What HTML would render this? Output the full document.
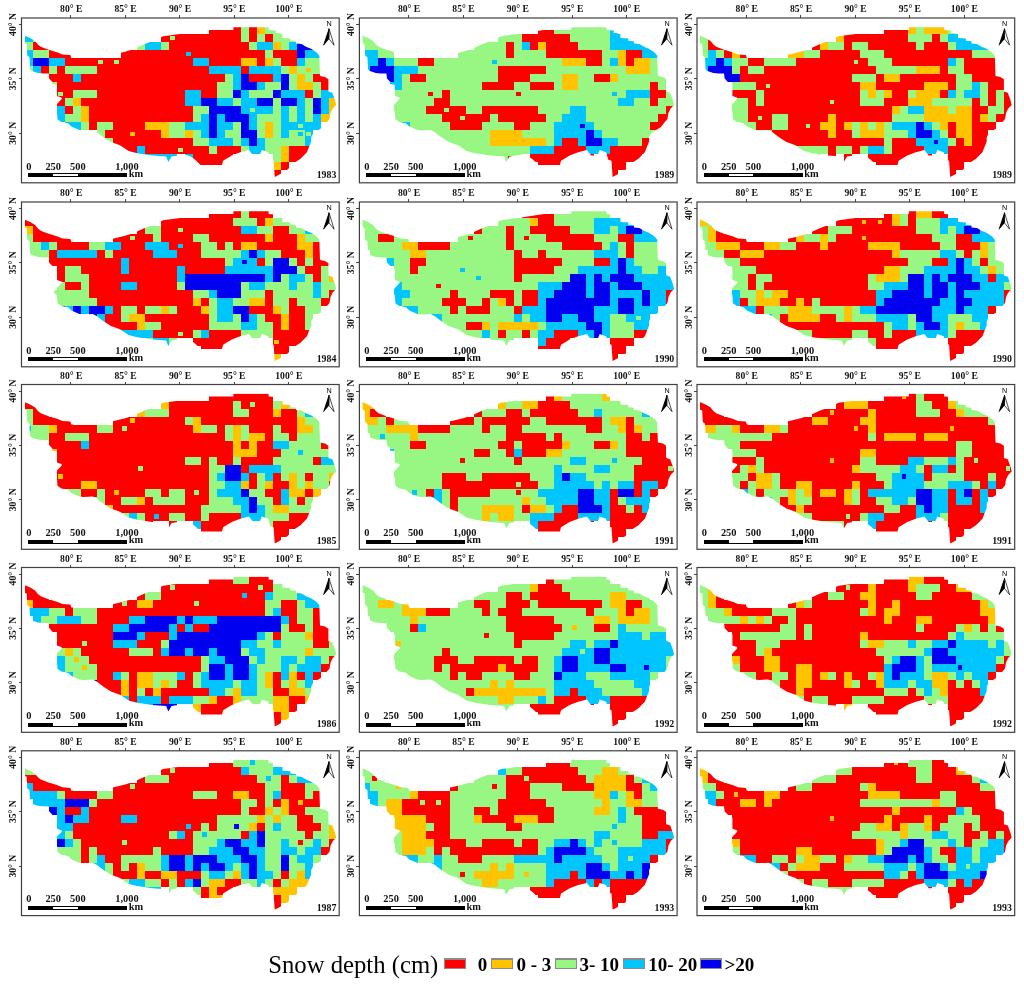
<!DOCTYPE html>
<html><head><meta charset="utf-8"><style>
html,body{margin:0;padding:0;background:#fff;width:1024px;height:984px;overflow:hidden}
svg{display:block;will-change:transform}
.lb{font-family:"Liberation Serif",serif;font-weight:bold;font-size:9.6px;fill:#111}
.sb{font-family:"Liberation Serif",serif;font-weight:bold;font-size:10.4px;fill:#111}
.yr{font-family:"Liberation Serif",serif;font-weight:bold;font-size:9.9px;fill:#111}
.na{font-family:"Liberation Sans",sans-serif;font-size:7.2px;fill:#000}
.lg{font-family:"Liberation Serif",serif;font-size:24.7px;fill:#000}
.lgb{font-family:"Liberation Serif",serif;font-weight:bold;font-size:19px;fill:#000}
</style></head><body>
<svg width="1024" height="984" viewBox="0 0 1024 984" shape-rendering="crispEdges">
<defs><clipPath id="ol"><polygon points="3.0,17.5 9.1,20.3 13.6,23.1 16.4,26.4 19.2,28.7 26.4,31.5 35.4,34.3 41.0,36.5 48.8,37.1 49.9,39.9 65.6,39.3 92.4,36.5 103.6,33.7 112.3,30.9 122.1,26.4 131.8,22.8 141.6,18.3 158.5,16.0 184.5,12.1 211.9,12.1 211.9,9.3 247.1,9.3 247.1,12.0 254.3,12.6 254.3,14.9 261.0,15.4 261.0,19.9 268.9,20.4 268.9,22.7 274.5,23.2 274.5,25.5 280.0,26.0 284.5,28.8 290.1,31.1 295.1,34.4 297.9,37.8 297.9,40.0 298.5,57.9 303.5,59.0 306.9,61.3 306.9,73.5 310.8,74.7 313.6,82.5 314.7,87.0 311.4,90.3 309.1,94.8 308.0,101.0 304.6,104.9 301.3,109.3 291.8,114.9 289.7,119.2 289.7,123.5 287.5,128.9 285.4,134.2 279.0,140.7 272.5,145.0 266.1,151.4 257.5,156.8 253.2,158.9 252.1,142.8 248.9,141.7 246.7,134.2 240.3,132.1 238.1,137.4 231.7,137.4 227.4,132.1 218.8,134.2 210.2,137.4 201.6,142.8 200.5,147.1 179.1,147.1 173.7,141.7 169.4,138.5 162.9,136.4 150.1,138.5 146.8,143.9 144.7,138.5 130.7,137.4 115.7,135.3 107.1,133.1 98.5,127.3 89.5,124.0 83.1,119.9 79.0,117.0 75.6,114.2 71.2,112.0 62.2,112.5 57.8,112.0 49.9,108.6 46.6,105.3 39.9,104.1 36.0,101.3 35.4,93.0 32.6,91.3 33.2,88.5 40.4,80.7 39.9,79.5 35.4,77.9 35.4,66.7 30.4,66.1 30.9,63.9 27.6,60.5 27.0,55.5 21.4,55.5 16.4,55.0 9.7,52.7 8.6,51.0 8.0,39.3 5.8,37.6 5.2,25.9 3.0,25.3"/></clipPath></defs>
<rect width="1024" height="984" fill="#fff"/>
<g transform="translate(21.5,18.0)"><g clip-path="url(#ol)"><rect x="187.00" y="8.00" width="32.05" height="8.05" fill="#ff0000"/><rect x="219.00" y="8.00" width="8.05" height="8.05" fill="#98f783"/><rect x="227.00" y="8.00" width="8.05" height="8.05" fill="#ff0000"/><rect x="235.00" y="8.00" width="8.05" height="8.05" fill="#ffc300"/><rect x="243.00" y="8.00" width="16.05" height="8.05" fill="#98f783"/><rect x="3.00" y="16.00" width="8.05" height="8.05" fill="#00c5ff"/><rect x="11.00" y="16.00" width="8.05" height="8.05" fill="#98f783"/><rect x="139.00" y="16.00" width="80.05" height="8.05" fill="#ff0000"/><rect x="219.00" y="16.00" width="8.05" height="8.05" fill="#98f783"/><rect x="227.00" y="16.00" width="8.05" height="8.05" fill="#ff0000"/><rect x="235.00" y="16.00" width="8.05" height="8.05" fill="#98f783"/><rect x="243.00" y="16.00" width="8.05" height="8.05" fill="#ff0000"/><rect x="251.00" y="16.00" width="24.05" height="8.05" fill="#98f783"/><rect x="3.00" y="24.00" width="8.05" height="8.05" fill="#98f783"/><rect x="11.00" y="24.00" width="16.05" height="8.05" fill="#ff0000"/><rect x="115.00" y="24.00" width="8.05" height="8.05" fill="#98f783"/><rect x="123.00" y="24.00" width="16.05" height="8.05" fill="#00c5ff"/><rect x="139.00" y="24.00" width="8.05" height="8.05" fill="#98f783"/><rect x="147.00" y="24.00" width="80.05" height="8.05" fill="#ff0000"/><rect x="227.00" y="24.00" width="8.05" height="8.05" fill="#98f783"/><rect x="235.00" y="24.00" width="16.05" height="8.05" fill="#00c5ff"/><rect x="251.00" y="24.00" width="8.05" height="8.05" fill="#ffc300"/><rect x="259.00" y="24.00" width="8.05" height="8.05" fill="#98f783"/><rect x="267.00" y="24.00" width="8.05" height="8.05" fill="#00c5ff"/><rect x="275.00" y="24.00" width="16.05" height="8.05" fill="#0000f0"/><rect x="291.00" y="24.00" width="8.05" height="8.05" fill="#00c5ff"/><rect x="3.00" y="32.00" width="8.05" height="8.05" fill="#00c5ff"/><rect x="11.00" y="32.00" width="16.05" height="8.05" fill="#98f783"/><rect x="27.00" y="32.00" width="24.05" height="8.05" fill="#ff0000"/><rect x="99.00" y="32.00" width="144.05" height="8.05" fill="#ff0000"/><rect x="243.00" y="32.00" width="8.05" height="8.05" fill="#98f783"/><rect x="251.00" y="32.00" width="24.05" height="8.05" fill="#ff0000"/><rect x="275.00" y="32.00" width="8.05" height="8.05" fill="#0000f0"/><rect x="283.00" y="32.00" width="16.05" height="8.05" fill="#00c5ff"/><rect x="3.00" y="40.00" width="8.05" height="8.05" fill="#00c5ff"/><rect x="11.00" y="40.00" width="16.05" height="8.05" fill="#0000f0"/><rect x="27.00" y="40.00" width="16.05" height="8.05" fill="#00c5ff"/><rect x="43.00" y="40.00" width="128.05" height="8.05" fill="#ff0000"/><rect x="171.00" y="40.00" width="16.05" height="8.05" fill="#00c5ff"/><rect x="187.00" y="40.00" width="32.05" height="8.05" fill="#ff0000"/><rect x="219.00" y="40.00" width="16.05" height="8.05" fill="#ffc300"/><rect x="235.00" y="40.00" width="8.05" height="8.05" fill="#ff0000"/><rect x="243.00" y="40.00" width="8.05" height="8.05" fill="#ffc300"/><rect x="251.00" y="40.00" width="8.05" height="8.05" fill="#98f783"/><rect x="259.00" y="40.00" width="16.05" height="8.05" fill="#ff0000"/><rect x="275.00" y="40.00" width="8.05" height="8.05" fill="#00c5ff"/><rect x="283.00" y="40.00" width="16.05" height="8.05" fill="#98f783"/><rect x="3.00" y="48.00" width="8.05" height="8.05" fill="#98f783"/><rect x="11.00" y="48.00" width="8.05" height="8.05" fill="#00c5ff"/><rect x="19.00" y="48.00" width="8.05" height="8.05" fill="#ff0000"/><rect x="27.00" y="48.00" width="8.05" height="8.05" fill="#98f783"/><rect x="35.00" y="48.00" width="8.05" height="8.05" fill="#ff0000"/><rect x="43.00" y="48.00" width="32.05" height="8.05" fill="#98f783"/><rect x="75.00" y="48.00" width="112.05" height="8.05" fill="#ff0000"/><rect x="187.00" y="48.00" width="32.05" height="8.05" fill="#00c5ff"/><rect x="219.00" y="48.00" width="8.05" height="8.05" fill="#ff0000"/><rect x="227.00" y="48.00" width="32.05" height="8.05" fill="#00c5ff"/><rect x="259.00" y="48.00" width="8.05" height="8.05" fill="#98f783"/><rect x="267.00" y="48.00" width="8.05" height="8.05" fill="#ffc300"/><rect x="275.00" y="48.00" width="24.05" height="8.05" fill="#98f783"/><rect x="27.00" y="56.00" width="24.05" height="8.05" fill="#ff0000"/><rect x="51.00" y="56.00" width="8.05" height="8.05" fill="#00c5ff"/><rect x="59.00" y="56.00" width="144.05" height="8.05" fill="#ff0000"/><rect x="203.00" y="56.00" width="8.05" height="8.05" fill="#98f783"/><rect x="211.00" y="56.00" width="8.05" height="8.05" fill="#00c5ff"/><rect x="219.00" y="56.00" width="8.05" height="8.05" fill="#0000f0"/><rect x="227.00" y="56.00" width="24.05" height="8.05" fill="#ff0000"/><rect x="251.00" y="56.00" width="8.05" height="8.05" fill="#00c5ff"/><rect x="259.00" y="56.00" width="8.05" height="8.05" fill="#0000f0"/><rect x="267.00" y="56.00" width="8.05" height="8.05" fill="#98f783"/><rect x="275.00" y="56.00" width="8.05" height="8.05" fill="#ffc300"/><rect x="283.00" y="56.00" width="8.05" height="8.05" fill="#98f783"/><rect x="291.00" y="56.00" width="16.05" height="8.05" fill="#ff0000"/><rect x="27.00" y="64.00" width="8.05" height="8.05" fill="#98f783"/><rect x="35.00" y="64.00" width="160.05" height="8.05" fill="#ff0000"/><rect x="195.00" y="64.00" width="16.05" height="8.05" fill="#98f783"/><rect x="211.00" y="64.00" width="8.05" height="8.05" fill="#00c5ff"/><rect x="219.00" y="64.00" width="16.05" height="8.05" fill="#0000f0"/><rect x="235.00" y="64.00" width="8.05" height="8.05" fill="#00c5ff"/><rect x="243.00" y="64.00" width="16.05" height="8.05" fill="#98f783"/><rect x="259.00" y="64.00" width="8.05" height="8.05" fill="#0000f0"/><rect x="267.00" y="64.00" width="8.05" height="8.05" fill="#98f783"/><rect x="275.00" y="64.00" width="16.05" height="8.05" fill="#ffc300"/><rect x="291.00" y="64.00" width="8.05" height="8.05" fill="#98f783"/><rect x="299.00" y="64.00" width="8.05" height="8.05" fill="#ff0000"/><rect x="35.00" y="72.00" width="16.05" height="8.05" fill="#ff0000"/><rect x="51.00" y="72.00" width="24.05" height="8.05" fill="#98f783"/><rect x="75.00" y="72.00" width="88.05" height="8.05" fill="#ff0000"/><rect x="163.00" y="72.00" width="16.05" height="8.05" fill="#00c5ff"/><rect x="179.00" y="72.00" width="16.05" height="8.05" fill="#ff0000"/><rect x="195.00" y="72.00" width="16.05" height="8.05" fill="#98f783"/><rect x="211.00" y="72.00" width="8.05" height="8.05" fill="#0000f0"/><rect x="219.00" y="72.00" width="8.05" height="8.05" fill="#00c5ff"/><rect x="227.00" y="72.00" width="24.05" height="8.05" fill="#98f783"/><rect x="251.00" y="72.00" width="8.05" height="8.05" fill="#0000f0"/><rect x="259.00" y="72.00" width="24.05" height="8.05" fill="#00c5ff"/><rect x="283.00" y="72.00" width="8.05" height="8.05" fill="#ff0000"/><rect x="291.00" y="72.00" width="8.05" height="8.05" fill="#98f783"/><rect x="299.00" y="72.00" width="16.05" height="8.05" fill="#00c5ff"/><rect x="35.00" y="80.00" width="8.05" height="8.05" fill="#ff0000"/><rect x="43.00" y="80.00" width="8.05" height="8.05" fill="#98f783"/><rect x="51.00" y="80.00" width="8.05" height="8.05" fill="#ffc300"/><rect x="59.00" y="80.00" width="104.05" height="8.05" fill="#ff0000"/><rect x="163.00" y="80.00" width="16.05" height="8.05" fill="#00c5ff"/><rect x="179.00" y="80.00" width="16.05" height="8.05" fill="#0000f0"/><rect x="195.00" y="80.00" width="16.05" height="8.05" fill="#00c5ff"/><rect x="211.00" y="80.00" width="8.05" height="8.05" fill="#98f783"/><rect x="219.00" y="80.00" width="16.05" height="8.05" fill="#00c5ff"/><rect x="235.00" y="80.00" width="16.05" height="8.05" fill="#0000f0"/><rect x="251.00" y="80.00" width="8.05" height="8.05" fill="#98f783"/><rect x="259.00" y="80.00" width="16.05" height="8.05" fill="#0000f0"/><rect x="275.00" y="80.00" width="8.05" height="8.05" fill="#00c5ff"/><rect x="283.00" y="80.00" width="8.05" height="8.05" fill="#98f783"/><rect x="291.00" y="80.00" width="8.05" height="8.05" fill="#0000f0"/><rect x="299.00" y="80.00" width="8.05" height="8.05" fill="#00c5ff"/><rect x="307.00" y="80.00" width="8.05" height="8.05" fill="#ffc300"/><rect x="315.00" y="80.00" width="8.05" height="8.05" fill="#ff0000"/><rect x="35.00" y="88.00" width="8.05" height="8.05" fill="#00c5ff"/><rect x="43.00" y="88.00" width="8.05" height="8.05" fill="#ff0000"/><rect x="51.00" y="88.00" width="8.05" height="8.05" fill="#98f783"/><rect x="59.00" y="88.00" width="8.05" height="8.05" fill="#ffc300"/><rect x="67.00" y="88.00" width="104.05" height="8.05" fill="#ff0000"/><rect x="171.00" y="88.00" width="16.05" height="8.05" fill="#98f783"/><rect x="187.00" y="88.00" width="32.05" height="8.05" fill="#0000f0"/><rect x="219.00" y="88.00" width="32.05" height="8.05" fill="#00c5ff"/><rect x="251.00" y="88.00" width="8.05" height="8.05" fill="#98f783"/><rect x="259.00" y="88.00" width="8.05" height="8.05" fill="#00c5ff"/><rect x="267.00" y="88.00" width="8.05" height="8.05" fill="#98f783"/><rect x="275.00" y="88.00" width="8.05" height="8.05" fill="#00c5ff"/><rect x="283.00" y="88.00" width="8.05" height="8.05" fill="#98f783"/><rect x="291.00" y="88.00" width="8.05" height="8.05" fill="#0000f0"/><rect x="299.00" y="88.00" width="8.05" height="8.05" fill="#00c5ff"/><rect x="307.00" y="88.00" width="8.05" height="8.05" fill="#ffc300"/><rect x="35.00" y="96.00" width="8.05" height="8.05" fill="#00c5ff"/><rect x="43.00" y="96.00" width="16.05" height="8.05" fill="#98f783"/><rect x="59.00" y="96.00" width="8.05" height="8.05" fill="#ffc300"/><rect x="67.00" y="96.00" width="104.05" height="8.05" fill="#ff0000"/><rect x="171.00" y="96.00" width="8.05" height="8.05" fill="#98f783"/><rect x="179.00" y="96.00" width="8.05" height="8.05" fill="#00c5ff"/><rect x="187.00" y="96.00" width="8.05" height="8.05" fill="#0000f0"/><rect x="195.00" y="96.00" width="8.05" height="8.05" fill="#00c5ff"/><rect x="203.00" y="96.00" width="24.05" height="8.05" fill="#0000f0"/><rect x="227.00" y="96.00" width="8.05" height="8.05" fill="#00c5ff"/><rect x="235.00" y="96.00" width="24.05" height="8.05" fill="#98f783"/><rect x="259.00" y="96.00" width="8.05" height="8.05" fill="#00c5ff"/><rect x="267.00" y="96.00" width="8.05" height="8.05" fill="#98f783"/><rect x="275.00" y="96.00" width="8.05" height="8.05" fill="#00c5ff"/><rect x="283.00" y="96.00" width="8.05" height="8.05" fill="#98f783"/><rect x="291.00" y="96.00" width="8.05" height="8.05" fill="#00c5ff"/><rect x="299.00" y="96.00" width="16.05" height="8.05" fill="#ffc300"/><rect x="43.00" y="104.00" width="16.05" height="8.05" fill="#00c5ff"/><rect x="59.00" y="104.00" width="8.05" height="8.05" fill="#98f783"/><rect x="67.00" y="104.00" width="8.05" height="8.05" fill="#ff0000"/><rect x="75.00" y="104.00" width="16.05" height="8.05" fill="#98f783"/><rect x="91.00" y="104.00" width="32.05" height="8.05" fill="#ff0000"/><rect x="123.00" y="104.00" width="24.05" height="8.05" fill="#ffc300"/><rect x="147.00" y="104.00" width="16.05" height="8.05" fill="#98f783"/><rect x="163.00" y="104.00" width="24.05" height="8.05" fill="#00c5ff"/><rect x="187.00" y="104.00" width="8.05" height="8.05" fill="#0000f0"/><rect x="195.00" y="104.00" width="16.05" height="8.05" fill="#00c5ff"/><rect x="211.00" y="104.00" width="8.05" height="8.05" fill="#98f783"/><rect x="219.00" y="104.00" width="8.05" height="8.05" fill="#0000f0"/><rect x="227.00" y="104.00" width="8.05" height="8.05" fill="#00c5ff"/><rect x="235.00" y="104.00" width="8.05" height="8.05" fill="#98f783"/><rect x="243.00" y="104.00" width="8.05" height="8.05" fill="#ffc300"/><rect x="251.00" y="104.00" width="8.05" height="8.05" fill="#98f783"/><rect x="259.00" y="104.00" width="40.05" height="8.05" fill="#00c5ff"/><rect x="75.00" y="112.00" width="8.05" height="8.05" fill="#98f783"/><rect x="83.00" y="112.00" width="56.05" height="8.05" fill="#ff0000"/><rect x="139.00" y="112.00" width="8.05" height="8.05" fill="#ffc300"/><rect x="147.00" y="112.00" width="16.05" height="8.05" fill="#98f783"/><rect x="163.00" y="112.00" width="8.05" height="8.05" fill="#ffc300"/><rect x="171.00" y="112.00" width="8.05" height="8.05" fill="#98f783"/><rect x="179.00" y="112.00" width="8.05" height="8.05" fill="#00c5ff"/><rect x="187.00" y="112.00" width="8.05" height="8.05" fill="#0000f0"/><rect x="195.00" y="112.00" width="8.05" height="8.05" fill="#00c5ff"/><rect x="203.00" y="112.00" width="16.05" height="8.05" fill="#98f783"/><rect x="219.00" y="112.00" width="16.05" height="8.05" fill="#0000f0"/><rect x="235.00" y="112.00" width="8.05" height="8.05" fill="#98f783"/><rect x="243.00" y="112.00" width="8.05" height="8.05" fill="#ffc300"/><rect x="251.00" y="112.00" width="8.05" height="8.05" fill="#98f783"/><rect x="259.00" y="112.00" width="8.05" height="8.05" fill="#00c5ff"/><rect x="267.00" y="112.00" width="16.05" height="8.05" fill="#98f783"/><rect x="283.00" y="112.00" width="8.05" height="8.05" fill="#00c5ff"/><rect x="83.00" y="120.00" width="8.05" height="8.05" fill="#98f783"/><rect x="91.00" y="120.00" width="80.05" height="8.05" fill="#ff0000"/><rect x="171.00" y="120.00" width="16.05" height="8.05" fill="#98f783"/><rect x="187.00" y="120.00" width="24.05" height="8.05" fill="#00c5ff"/><rect x="211.00" y="120.00" width="8.05" height="8.05" fill="#98f783"/><rect x="219.00" y="120.00" width="8.05" height="8.05" fill="#00c5ff"/><rect x="227.00" y="120.00" width="8.05" height="8.05" fill="#0000f0"/><rect x="235.00" y="120.00" width="8.05" height="8.05" fill="#00c5ff"/><rect x="243.00" y="120.00" width="40.05" height="8.05" fill="#98f783"/><rect x="283.00" y="120.00" width="8.05" height="8.05" fill="#00c5ff"/><rect x="99.00" y="128.00" width="16.05" height="8.05" fill="#ff0000"/><rect x="115.00" y="128.00" width="8.05" height="8.05" fill="#00c5ff"/><rect x="123.00" y="128.00" width="64.05" height="8.05" fill="#ff0000"/><rect x="187.00" y="128.00" width="8.05" height="8.05" fill="#98f783"/><rect x="195.00" y="128.00" width="24.05" height="8.05" fill="#ff0000"/><rect x="219.00" y="128.00" width="8.05" height="8.05" fill="#98f783"/><rect x="227.00" y="128.00" width="16.05" height="8.05" fill="#00c5ff"/><rect x="243.00" y="128.00" width="16.05" height="8.05" fill="#98f783"/><rect x="259.00" y="128.00" width="8.05" height="8.05" fill="#ffc300"/><rect x="267.00" y="128.00" width="24.05" height="8.05" fill="#ff0000"/><rect x="115.00" y="136.00" width="40.05" height="8.05" fill="#00c5ff"/><rect x="163.00" y="136.00" width="8.05" height="8.05" fill="#00c5ff"/><rect x="171.00" y="136.00" width="40.05" height="8.05" fill="#ff0000"/><rect x="251.00" y="136.00" width="8.05" height="8.05" fill="#98f783"/><rect x="259.00" y="136.00" width="8.05" height="8.05" fill="#ffc300"/><rect x="267.00" y="136.00" width="16.05" height="8.05" fill="#ff0000"/><rect x="171.00" y="144.00" width="32.05" height="8.05" fill="#ff0000"/><rect x="251.00" y="144.00" width="8.05" height="8.05" fill="#ffc300"/><rect x="259.00" y="144.00" width="8.05" height="8.05" fill="#ff0000"/><rect x="251.00" y="152.00" width="8.05" height="8.05" fill="#ff0000"/><rect x="148.70" y="17.70" width="4.6" height="4.6" fill="#98f783"/><rect x="164.70" y="33.70" width="4.6" height="4.6" fill="#00c5ff"/><rect x="76.70" y="41.70" width="4.6" height="4.6" fill="#98f783"/><rect x="92.70" y="41.70" width="4.6" height="4.6" fill="#98f783"/><rect x="284.70" y="49.70" width="4.6" height="4.6" fill="#ffc300"/><rect x="36.70" y="73.70" width="4.6" height="4.6" fill="#98f783"/><rect x="228.70" y="89.70" width="4.6" height="4.6" fill="#98f783"/><rect x="276.70" y="105.70" width="4.6" height="4.6" fill="#98f783"/><rect x="108.70" y="113.70" width="4.6" height="4.6" fill="#ffc300"/><rect x="276.70" y="113.70" width="4.6" height="4.6" fill="#00c5ff"/><rect x="284.70" y="113.70" width="4.6" height="4.6" fill="#98f783"/><rect x="156.70" y="129.70" width="4.6" height="4.6" fill="#98f783"/></g><rect x="0" y="0" width="317.7" height="164.8" fill="none" stroke="#404040" stroke-width="1.2" shape-rendering="geometricPrecision"/><line x1="49.4" y1="-2.6" x2="49.4" y2="0" stroke="#333" stroke-width="0.9"/><text x="49.699999999999996" y="-5.6" class="lb" text-anchor="middle">80° E</text><line x1="103.8" y1="-2.6" x2="103.8" y2="0" stroke="#333" stroke-width="0.9"/><text x="104.1" y="-5.6" class="lb" text-anchor="middle">85° E</text><line x1="158.2" y1="-2.6" x2="158.2" y2="0" stroke="#333" stroke-width="0.9"/><text x="158.5" y="-5.6" class="lb" text-anchor="middle">90° E</text><line x1="212.6" y1="-2.6" x2="212.6" y2="0" stroke="#333" stroke-width="0.9"/><text x="212.9" y="-5.6" class="lb" text-anchor="middle">95° E</text><line x1="267.0" y1="-2.6" x2="267.0" y2="0" stroke="#333" stroke-width="0.9"/><text x="267.3" y="-5.6" class="lb" text-anchor="middle">100° E</text><line x1="-2.9" y1="6.5" x2="0" y2="6.5" stroke="#333" stroke-width="0.9"/><text transform="translate(-5.3,6.5) rotate(-90)" x="0" y="0" class="lb" text-anchor="middle">40° N</text><line x1="-2.9" y1="60.8" x2="0" y2="60.8" stroke="#333" stroke-width="0.9"/><text transform="translate(-5.3,60.8) rotate(-90)" x="0" y="0" class="lb" text-anchor="middle">35° N</text><line x1="-2.9" y1="115.3" x2="0" y2="115.3" stroke="#333" stroke-width="0.9"/><text transform="translate(-5.3,115.3) rotate(-90)" x="0" y="0" class="lb" text-anchor="middle">30° N</text><text x="307.7" y="8.4" class="na" text-anchor="middle">N</text><path d="M307.5,10.7 L302,27.2 L307.4,20.8 Z" fill="#000" shape-rendering="geometricPrecision"/><path d="M307.5,10.7 L312.6,27.2 L307.4,20.8 Z" fill="#fff" stroke="#000" stroke-width="0.7" stroke-linejoin="miter" shape-rendering="geometricPrecision"/><path d="M307.5,10.7 L302,27.2 L307.4,20.8 Z" fill="#000" stroke="#000" stroke-width="0.5" shape-rendering="geometricPrecision"/><rect x="6.8" y="155.2" width="98.7" height="3.8" fill="#000"/><rect x="31.9" y="155.9" width="24.4" height="2.4" fill="#fff"/><text x="7.4" y="151.7" class="sb" text-anchor="middle">0</text><text x="31.7" y="151.7" class="sb" text-anchor="middle">250</text><text x="56.3" y="151.7" class="sb" text-anchor="middle">500</text><text x="105.4" y="151.7" class="sb" text-anchor="middle">1,000</text><text x="107.2" y="158.9" class="sb">km</text><text x="314.9" y="159.9" class="yr" text-anchor="end">1983</text></g><g transform="translate(359.4,18.0)"><g clip-path="url(#ol)"><rect x="179.00" y="8.00" width="16.05" height="8.05" fill="#ff0000"/><rect x="195.00" y="8.00" width="56.05" height="8.05" fill="#98f783"/><rect x="251.00" y="8.00" width="8.05" height="8.05" fill="#00c5ff"/><rect x="3.00" y="16.00" width="16.05" height="8.05" fill="#98f783"/><rect x="139.00" y="16.00" width="24.05" height="8.05" fill="#98f783"/><rect x="163.00" y="16.00" width="48.05" height="8.05" fill="#ff0000"/><rect x="211.00" y="16.00" width="40.05" height="8.05" fill="#98f783"/><rect x="251.00" y="16.00" width="24.05" height="8.05" fill="#00c5ff"/><rect x="3.00" y="24.00" width="24.05" height="8.05" fill="#98f783"/><rect x="115.00" y="24.00" width="32.05" height="8.05" fill="#98f783"/><rect x="147.00" y="24.00" width="8.05" height="8.05" fill="#ff0000"/><rect x="155.00" y="24.00" width="8.05" height="8.05" fill="#98f783"/><rect x="163.00" y="24.00" width="8.05" height="8.05" fill="#00c5ff"/><rect x="171.00" y="24.00" width="8.05" height="8.05" fill="#ff0000"/><rect x="179.00" y="24.00" width="8.05" height="8.05" fill="#ffc300"/><rect x="187.00" y="24.00" width="32.05" height="8.05" fill="#ff0000"/><rect x="219.00" y="24.00" width="32.05" height="8.05" fill="#98f783"/><rect x="251.00" y="24.00" width="40.05" height="8.05" fill="#00c5ff"/><rect x="3.00" y="32.00" width="16.05" height="8.05" fill="#00c5ff"/><rect x="19.00" y="32.00" width="16.05" height="8.05" fill="#98f783"/><rect x="99.00" y="32.00" width="48.05" height="8.05" fill="#98f783"/><rect x="147.00" y="32.00" width="8.05" height="8.05" fill="#ff0000"/><rect x="155.00" y="32.00" width="32.05" height="8.05" fill="#98f783"/><rect x="187.00" y="32.00" width="56.05" height="8.05" fill="#ff0000"/><rect x="243.00" y="32.00" width="16.05" height="8.05" fill="#98f783"/><rect x="259.00" y="32.00" width="8.05" height="8.05" fill="#ffc300"/><rect x="267.00" y="32.00" width="16.05" height="8.05" fill="#ff0000"/><rect x="283.00" y="32.00" width="16.05" height="8.05" fill="#00c5ff"/><rect x="3.00" y="40.00" width="16.05" height="8.05" fill="#00c5ff"/><rect x="19.00" y="40.00" width="8.05" height="8.05" fill="#0000f0"/><rect x="27.00" y="40.00" width="8.05" height="8.05" fill="#00c5ff"/><rect x="35.00" y="40.00" width="24.05" height="8.05" fill="#98f783"/><rect x="59.00" y="40.00" width="16.05" height="8.05" fill="#ff0000"/><rect x="75.00" y="40.00" width="128.05" height="8.05" fill="#98f783"/><rect x="203.00" y="40.00" width="24.05" height="8.05" fill="#ffc300"/><rect x="227.00" y="40.00" width="16.05" height="8.05" fill="#ff0000"/><rect x="243.00" y="40.00" width="8.05" height="8.05" fill="#98f783"/><rect x="251.00" y="40.00" width="8.05" height="8.05" fill="#00c5ff"/><rect x="259.00" y="40.00" width="8.05" height="8.05" fill="#ffc300"/><rect x="267.00" y="40.00" width="8.05" height="8.05" fill="#ff0000"/><rect x="275.00" y="40.00" width="16.05" height="8.05" fill="#ffc300"/><rect x="291.00" y="40.00" width="8.05" height="8.05" fill="#98f783"/><rect x="3.00" y="48.00" width="8.05" height="8.05" fill="#00c5ff"/><rect x="11.00" y="48.00" width="24.05" height="8.05" fill="#0000f0"/><rect x="35.00" y="48.00" width="24.05" height="8.05" fill="#00c5ff"/><rect x="59.00" y="48.00" width="80.05" height="8.05" fill="#98f783"/><rect x="139.00" y="48.00" width="48.05" height="8.05" fill="#ff0000"/><rect x="187.00" y="48.00" width="80.05" height="8.05" fill="#98f783"/><rect x="267.00" y="48.00" width="24.05" height="8.05" fill="#ffc300"/><rect x="291.00" y="48.00" width="16.05" height="8.05" fill="#98f783"/><rect x="19.00" y="56.00" width="16.05" height="8.05" fill="#0000f0"/><rect x="35.00" y="56.00" width="8.05" height="8.05" fill="#00c5ff"/><rect x="43.00" y="56.00" width="8.05" height="8.05" fill="#98f783"/><rect x="51.00" y="56.00" width="16.05" height="8.05" fill="#ff0000"/><rect x="67.00" y="56.00" width="72.05" height="8.05" fill="#98f783"/><rect x="139.00" y="56.00" width="32.05" height="8.05" fill="#ff0000"/><rect x="171.00" y="56.00" width="32.05" height="8.05" fill="#98f783"/><rect x="203.00" y="56.00" width="16.05" height="8.05" fill="#ffc300"/><rect x="219.00" y="56.00" width="16.05" height="8.05" fill="#98f783"/><rect x="235.00" y="56.00" width="16.05" height="8.05" fill="#ff0000"/><rect x="251.00" y="56.00" width="8.05" height="8.05" fill="#ffc300"/><rect x="259.00" y="56.00" width="48.05" height="8.05" fill="#98f783"/><rect x="27.00" y="64.00" width="16.05" height="8.05" fill="#00c5ff"/><rect x="43.00" y="64.00" width="80.05" height="8.05" fill="#98f783"/><rect x="123.00" y="64.00" width="32.05" height="8.05" fill="#ff0000"/><rect x="155.00" y="64.00" width="16.05" height="8.05" fill="#98f783"/><rect x="171.00" y="64.00" width="24.05" height="8.05" fill="#ff0000"/><rect x="195.00" y="64.00" width="8.05" height="8.05" fill="#98f783"/><rect x="203.00" y="64.00" width="16.05" height="8.05" fill="#ffc300"/><rect x="219.00" y="64.00" width="72.05" height="8.05" fill="#98f783"/><rect x="291.00" y="64.00" width="8.05" height="8.05" fill="#ff0000"/><rect x="299.00" y="64.00" width="8.05" height="8.05" fill="#98f783"/><rect x="35.00" y="72.00" width="48.05" height="8.05" fill="#98f783"/><rect x="83.00" y="72.00" width="8.05" height="8.05" fill="#ff0000"/><rect x="91.00" y="72.00" width="176.05" height="8.05" fill="#98f783"/><rect x="267.00" y="72.00" width="24.05" height="8.05" fill="#00c5ff"/><rect x="291.00" y="72.00" width="16.05" height="8.05" fill="#ff0000"/><rect x="307.00" y="72.00" width="8.05" height="8.05" fill="#98f783"/><rect x="35.00" y="80.00" width="40.05" height="8.05" fill="#98f783"/><rect x="75.00" y="80.00" width="16.05" height="8.05" fill="#ff0000"/><rect x="91.00" y="80.00" width="168.05" height="8.05" fill="#98f783"/><rect x="259.00" y="80.00" width="16.05" height="8.05" fill="#00c5ff"/><rect x="275.00" y="80.00" width="16.05" height="8.05" fill="#98f783"/><rect x="291.00" y="80.00" width="8.05" height="8.05" fill="#ff0000"/><rect x="299.00" y="80.00" width="16.05" height="8.05" fill="#98f783"/><rect x="315.00" y="80.00" width="8.05" height="8.05" fill="#ff0000"/><rect x="35.00" y="88.00" width="32.05" height="8.05" fill="#98f783"/><rect x="67.00" y="88.00" width="40.05" height="8.05" fill="#ff0000"/><rect x="107.00" y="88.00" width="16.05" height="8.05" fill="#98f783"/><rect x="123.00" y="88.00" width="56.05" height="8.05" fill="#ff0000"/><rect x="179.00" y="88.00" width="32.05" height="8.05" fill="#98f783"/><rect x="211.00" y="88.00" width="16.05" height="8.05" fill="#00c5ff"/><rect x="227.00" y="88.00" width="80.05" height="8.05" fill="#98f783"/><rect x="307.00" y="88.00" width="8.05" height="8.05" fill="#ff0000"/><rect x="35.00" y="96.00" width="48.05" height="8.05" fill="#98f783"/><rect x="83.00" y="96.00" width="48.05" height="8.05" fill="#ff0000"/><rect x="131.00" y="96.00" width="8.05" height="8.05" fill="#98f783"/><rect x="139.00" y="96.00" width="48.05" height="8.05" fill="#ff0000"/><rect x="187.00" y="96.00" width="16.05" height="8.05" fill="#98f783"/><rect x="203.00" y="96.00" width="24.05" height="8.05" fill="#00c5ff"/><rect x="227.00" y="96.00" width="72.05" height="8.05" fill="#98f783"/><rect x="299.00" y="96.00" width="16.05" height="8.05" fill="#ff0000"/><rect x="35.00" y="104.00" width="16.05" height="8.05" fill="#00c5ff"/><rect x="51.00" y="104.00" width="40.05" height="8.05" fill="#98f783"/><rect x="91.00" y="104.00" width="32.05" height="8.05" fill="#ff0000"/><rect x="123.00" y="104.00" width="32.05" height="8.05" fill="#98f783"/><rect x="155.00" y="104.00" width="16.05" height="8.05" fill="#ff0000"/><rect x="171.00" y="104.00" width="24.05" height="8.05" fill="#98f783"/><rect x="195.00" y="104.00" width="40.05" height="8.05" fill="#00c5ff"/><rect x="235.00" y="104.00" width="56.05" height="8.05" fill="#98f783"/><rect x="291.00" y="104.00" width="16.05" height="8.05" fill="#ff0000"/><rect x="51.00" y="112.00" width="80.05" height="8.05" fill="#98f783"/><rect x="131.00" y="112.00" width="32.05" height="8.05" fill="#ffc300"/><rect x="163.00" y="112.00" width="32.05" height="8.05" fill="#98f783"/><rect x="195.00" y="112.00" width="32.05" height="8.05" fill="#00c5ff"/><rect x="227.00" y="112.00" width="8.05" height="8.05" fill="#0000f0"/><rect x="235.00" y="112.00" width="8.05" height="8.05" fill="#00c5ff"/><rect x="243.00" y="112.00" width="56.05" height="8.05" fill="#98f783"/><rect x="75.00" y="120.00" width="56.05" height="8.05" fill="#98f783"/><rect x="131.00" y="120.00" width="56.05" height="8.05" fill="#ffc300"/><rect x="187.00" y="120.00" width="8.05" height="8.05" fill="#98f783"/><rect x="195.00" y="120.00" width="8.05" height="8.05" fill="#00c5ff"/><rect x="203.00" y="120.00" width="16.05" height="8.05" fill="#ff0000"/><rect x="219.00" y="120.00" width="8.05" height="8.05" fill="#00c5ff"/><rect x="227.00" y="120.00" width="16.05" height="8.05" fill="#0000f0"/><rect x="243.00" y="120.00" width="16.05" height="8.05" fill="#00c5ff"/><rect x="259.00" y="120.00" width="24.05" height="8.05" fill="#98f783"/><rect x="283.00" y="120.00" width="8.05" height="8.05" fill="#ff0000"/><rect x="99.00" y="128.00" width="72.05" height="8.05" fill="#98f783"/><rect x="171.00" y="128.00" width="24.05" height="8.05" fill="#00c5ff"/><rect x="195.00" y="128.00" width="32.05" height="8.05" fill="#ff0000"/><rect x="227.00" y="128.00" width="24.05" height="8.05" fill="#00c5ff"/><rect x="251.00" y="128.00" width="40.05" height="8.05" fill="#ff0000"/><rect x="123.00" y="136.00" width="40.05" height="8.05" fill="#98f783"/><rect x="171.00" y="136.00" width="48.05" height="8.05" fill="#ff0000"/><rect x="227.00" y="136.00" width="8.05" height="8.05" fill="#ff0000"/><rect x="243.00" y="136.00" width="40.05" height="8.05" fill="#ff0000"/><rect x="179.00" y="144.00" width="24.05" height="8.05" fill="#ff0000"/><rect x="251.00" y="144.00" width="16.05" height="8.05" fill="#ff0000"/><rect x="251.00" y="152.00" width="8.05" height="8.05" fill="#ff0000"/><rect x="132.70" y="41.70" width="4.6" height="4.6" fill="#00c5ff"/><rect x="68.70" y="73.70" width="4.6" height="4.6" fill="#ff0000"/><rect x="156.70" y="73.70" width="4.6" height="4.6" fill="#ff0000"/><rect x="252.70" y="73.70" width="4.6" height="4.6" fill="#00c5ff"/><rect x="84.70" y="89.70" width="4.6" height="4.6" fill="#98f783"/><rect x="100.70" y="97.70" width="4.6" height="4.6" fill="#98f783"/><rect x="220.70" y="105.70" width="4.6" height="4.6" fill="#0000f0"/><rect x="148.70" y="137.70" width="4.6" height="4.6" fill="#ff0000"/></g><rect x="0" y="0" width="317.7" height="164.8" fill="none" stroke="#404040" stroke-width="1.2" shape-rendering="geometricPrecision"/><line x1="49.4" y1="-2.6" x2="49.4" y2="0" stroke="#333" stroke-width="0.9"/><text x="49.699999999999996" y="-5.6" class="lb" text-anchor="middle">80° E</text><line x1="103.8" y1="-2.6" x2="103.8" y2="0" stroke="#333" stroke-width="0.9"/><text x="104.1" y="-5.6" class="lb" text-anchor="middle">85° E</text><line x1="158.2" y1="-2.6" x2="158.2" y2="0" stroke="#333" stroke-width="0.9"/><text x="158.5" y="-5.6" class="lb" text-anchor="middle">90° E</text><line x1="212.6" y1="-2.6" x2="212.6" y2="0" stroke="#333" stroke-width="0.9"/><text x="212.9" y="-5.6" class="lb" text-anchor="middle">95° E</text><line x1="267.0" y1="-2.6" x2="267.0" y2="0" stroke="#333" stroke-width="0.9"/><text x="267.3" y="-5.6" class="lb" text-anchor="middle">100° E</text><line x1="-2.9" y1="6.5" x2="0" y2="6.5" stroke="#333" stroke-width="0.9"/><text transform="translate(-5.3,6.5) rotate(-90)" x="0" y="0" class="lb" text-anchor="middle">40° N</text><line x1="-2.9" y1="60.8" x2="0" y2="60.8" stroke="#333" stroke-width="0.9"/><text transform="translate(-5.3,60.8) rotate(-90)" x="0" y="0" class="lb" text-anchor="middle">35° N</text><line x1="-2.9" y1="115.3" x2="0" y2="115.3" stroke="#333" stroke-width="0.9"/><text transform="translate(-5.3,115.3) rotate(-90)" x="0" y="0" class="lb" text-anchor="middle">30° N</text><text x="307.7" y="8.4" class="na" text-anchor="middle">N</text><path d="M307.5,10.7 L302,27.2 L307.4,20.8 Z" fill="#000" shape-rendering="geometricPrecision"/><path d="M307.5,10.7 L312.6,27.2 L307.4,20.8 Z" fill="#fff" stroke="#000" stroke-width="0.7" stroke-linejoin="miter" shape-rendering="geometricPrecision"/><path d="M307.5,10.7 L302,27.2 L307.4,20.8 Z" fill="#000" stroke="#000" stroke-width="0.5" shape-rendering="geometricPrecision"/><rect x="6.8" y="155.2" width="98.7" height="3.8" fill="#000"/><rect x="31.9" y="155.9" width="24.4" height="2.4" fill="#fff"/><text x="7.4" y="151.7" class="sb" text-anchor="middle">0</text><text x="31.7" y="151.7" class="sb" text-anchor="middle">250</text><text x="56.3" y="151.7" class="sb" text-anchor="middle">500</text><text x="105.4" y="151.7" class="sb" text-anchor="middle">1,000</text><text x="107.2" y="158.9" class="sb">km</text><text x="314.9" y="159.9" class="yr" text-anchor="end">1989</text></g><g transform="translate(697.0,18.0)"><g clip-path="url(#ol)"><rect x="187.00" y="8.00" width="24.05" height="8.05" fill="#ff0000"/><rect x="211.00" y="8.00" width="8.05" height="8.05" fill="#ffc300"/><rect x="219.00" y="8.00" width="8.05" height="8.05" fill="#98f783"/><rect x="227.00" y="8.00" width="24.05" height="8.05" fill="#ffc300"/><rect x="251.00" y="8.00" width="8.05" height="8.05" fill="#98f783"/><rect x="3.00" y="16.00" width="8.05" height="8.05" fill="#98f783"/><rect x="11.00" y="16.00" width="8.05" height="8.05" fill="#ff0000"/><rect x="139.00" y="16.00" width="8.05" height="8.05" fill="#ffc300"/><rect x="147.00" y="16.00" width="64.05" height="8.05" fill="#ff0000"/><rect x="211.00" y="16.00" width="24.05" height="8.05" fill="#98f783"/><rect x="235.00" y="16.00" width="8.05" height="8.05" fill="#ff0000"/><rect x="243.00" y="16.00" width="8.05" height="8.05" fill="#98f783"/><rect x="251.00" y="16.00" width="24.05" height="8.05" fill="#00c5ff"/><rect x="3.00" y="24.00" width="8.05" height="8.05" fill="#98f783"/><rect x="11.00" y="24.00" width="16.05" height="8.05" fill="#ff0000"/><rect x="115.00" y="24.00" width="8.05" height="8.05" fill="#ff0000"/><rect x="123.00" y="24.00" width="8.05" height="8.05" fill="#ffc300"/><rect x="131.00" y="24.00" width="16.05" height="8.05" fill="#98f783"/><rect x="147.00" y="24.00" width="8.05" height="8.05" fill="#ff0000"/><rect x="155.00" y="24.00" width="16.05" height="8.05" fill="#98f783"/><rect x="171.00" y="24.00" width="48.05" height="8.05" fill="#ff0000"/><rect x="219.00" y="24.00" width="8.05" height="8.05" fill="#98f783"/><rect x="227.00" y="24.00" width="24.05" height="8.05" fill="#ff0000"/><rect x="251.00" y="24.00" width="8.05" height="8.05" fill="#98f783"/><rect x="259.00" y="24.00" width="32.05" height="8.05" fill="#00c5ff"/><rect x="3.00" y="32.00" width="8.05" height="8.05" fill="#98f783"/><rect x="11.00" y="32.00" width="8.05" height="8.05" fill="#00c5ff"/><rect x="19.00" y="32.00" width="8.05" height="8.05" fill="#98f783"/><rect x="27.00" y="32.00" width="8.05" height="8.05" fill="#ff0000"/><rect x="35.00" y="32.00" width="8.05" height="8.05" fill="#ffc300"/><rect x="43.00" y="32.00" width="8.05" height="8.05" fill="#ff0000"/><rect x="91.00" y="32.00" width="16.05" height="8.05" fill="#ffc300"/><rect x="107.00" y="32.00" width="16.05" height="8.05" fill="#98f783"/><rect x="123.00" y="32.00" width="40.05" height="8.05" fill="#ff0000"/><rect x="163.00" y="32.00" width="24.05" height="8.05" fill="#98f783"/><rect x="187.00" y="32.00" width="88.05" height="8.05" fill="#ff0000"/><rect x="275.00" y="32.00" width="24.05" height="8.05" fill="#98f783"/><rect x="3.00" y="40.00" width="16.05" height="8.05" fill="#00c5ff"/><rect x="19.00" y="40.00" width="8.05" height="8.05" fill="#0000f0"/><rect x="27.00" y="40.00" width="8.05" height="8.05" fill="#00c5ff"/><rect x="35.00" y="40.00" width="16.05" height="8.05" fill="#98f783"/><rect x="51.00" y="40.00" width="16.05" height="8.05" fill="#ff0000"/><rect x="67.00" y="40.00" width="32.05" height="8.05" fill="#98f783"/><rect x="99.00" y="40.00" width="72.05" height="8.05" fill="#ff0000"/><rect x="171.00" y="40.00" width="24.05" height="8.05" fill="#98f783"/><rect x="195.00" y="40.00" width="56.05" height="8.05" fill="#ff0000"/><rect x="251.00" y="40.00" width="8.05" height="8.05" fill="#00c5ff"/><rect x="259.00" y="40.00" width="8.05" height="8.05" fill="#98f783"/><rect x="267.00" y="40.00" width="32.05" height="8.05" fill="#ff0000"/><rect x="3.00" y="48.00" width="8.05" height="8.05" fill="#00c5ff"/><rect x="11.00" y="48.00" width="24.05" height="8.05" fill="#0000f0"/><rect x="35.00" y="48.00" width="8.05" height="8.05" fill="#98f783"/><rect x="43.00" y="48.00" width="8.05" height="8.05" fill="#ff0000"/><rect x="51.00" y="48.00" width="16.05" height="8.05" fill="#98f783"/><rect x="67.00" y="48.00" width="112.05" height="8.05" fill="#ff0000"/><rect x="179.00" y="48.00" width="40.05" height="8.05" fill="#98f783"/><rect x="219.00" y="48.00" width="24.05" height="8.05" fill="#ffc300"/><rect x="243.00" y="48.00" width="8.05" height="8.05" fill="#ff0000"/><rect x="251.00" y="48.00" width="16.05" height="8.05" fill="#98f783"/><rect x="267.00" y="48.00" width="40.05" height="8.05" fill="#ff0000"/><rect x="27.00" y="56.00" width="16.05" height="8.05" fill="#0000f0"/><rect x="43.00" y="56.00" width="112.05" height="8.05" fill="#ff0000"/><rect x="155.00" y="56.00" width="24.05" height="8.05" fill="#98f783"/><rect x="179.00" y="56.00" width="8.05" height="8.05" fill="#ff0000"/><rect x="187.00" y="56.00" width="16.05" height="8.05" fill="#ffc300"/><rect x="203.00" y="56.00" width="56.05" height="8.05" fill="#ff0000"/><rect x="259.00" y="56.00" width="16.05" height="8.05" fill="#98f783"/><rect x="275.00" y="56.00" width="32.05" height="8.05" fill="#ff0000"/><rect x="35.00" y="64.00" width="24.05" height="8.05" fill="#98f783"/><rect x="59.00" y="64.00" width="104.05" height="8.05" fill="#ff0000"/><rect x="163.00" y="64.00" width="16.05" height="8.05" fill="#ffc300"/><rect x="179.00" y="64.00" width="48.05" height="8.05" fill="#ff0000"/><rect x="227.00" y="64.00" width="24.05" height="8.05" fill="#ffc300"/><rect x="251.00" y="64.00" width="8.05" height="8.05" fill="#ff0000"/><rect x="259.00" y="64.00" width="16.05" height="8.05" fill="#98f783"/><rect x="275.00" y="64.00" width="8.05" height="8.05" fill="#00c5ff"/><rect x="283.00" y="64.00" width="8.05" height="8.05" fill="#98f783"/><rect x="291.00" y="64.00" width="16.05" height="8.05" fill="#ff0000"/><rect x="35.00" y="72.00" width="24.05" height="8.05" fill="#ff0000"/><rect x="59.00" y="72.00" width="8.05" height="8.05" fill="#98f783"/><rect x="67.00" y="72.00" width="96.05" height="8.05" fill="#ff0000"/><rect x="163.00" y="72.00" width="8.05" height="8.05" fill="#98f783"/><rect x="171.00" y="72.00" width="8.05" height="8.05" fill="#ffc300"/><rect x="179.00" y="72.00" width="8.05" height="8.05" fill="#98f783"/><rect x="187.00" y="72.00" width="8.05" height="8.05" fill="#ffc300"/><rect x="195.00" y="72.00" width="16.05" height="8.05" fill="#ff0000"/><rect x="211.00" y="72.00" width="8.05" height="8.05" fill="#98f783"/><rect x="219.00" y="72.00" width="24.05" height="8.05" fill="#ffc300"/><rect x="243.00" y="72.00" width="8.05" height="8.05" fill="#ff0000"/><rect x="251.00" y="72.00" width="8.05" height="8.05" fill="#00c5ff"/><rect x="259.00" y="72.00" width="8.05" height="8.05" fill="#98f783"/><rect x="267.00" y="72.00" width="16.05" height="8.05" fill="#00c5ff"/><rect x="283.00" y="72.00" width="8.05" height="8.05" fill="#98f783"/><rect x="291.00" y="72.00" width="8.05" height="8.05" fill="#ff0000"/><rect x="299.00" y="72.00" width="8.05" height="8.05" fill="#98f783"/><rect x="307.00" y="72.00" width="8.05" height="8.05" fill="#ff0000"/><rect x="35.00" y="80.00" width="16.05" height="8.05" fill="#98f783"/><rect x="51.00" y="80.00" width="8.05" height="8.05" fill="#ff0000"/><rect x="59.00" y="80.00" width="8.05" height="8.05" fill="#98f783"/><rect x="67.00" y="80.00" width="96.05" height="8.05" fill="#ff0000"/><rect x="163.00" y="80.00" width="24.05" height="8.05" fill="#98f783"/><rect x="187.00" y="80.00" width="24.05" height="8.05" fill="#ff0000"/><rect x="211.00" y="80.00" width="24.05" height="8.05" fill="#ffc300"/><rect x="235.00" y="80.00" width="40.05" height="8.05" fill="#98f783"/><rect x="275.00" y="80.00" width="8.05" height="8.05" fill="#ff0000"/><rect x="283.00" y="80.00" width="8.05" height="8.05" fill="#98f783"/><rect x="291.00" y="80.00" width="8.05" height="8.05" fill="#ff0000"/><rect x="299.00" y="80.00" width="8.05" height="8.05" fill="#98f783"/><rect x="307.00" y="80.00" width="16.05" height="8.05" fill="#ff0000"/><rect x="35.00" y="88.00" width="16.05" height="8.05" fill="#98f783"/><rect x="51.00" y="88.00" width="144.05" height="8.05" fill="#ff0000"/><rect x="195.00" y="88.00" width="8.05" height="8.05" fill="#ffc300"/><rect x="203.00" y="88.00" width="8.05" height="8.05" fill="#98f783"/><rect x="211.00" y="88.00" width="16.05" height="8.05" fill="#00c5ff"/><rect x="227.00" y="88.00" width="24.05" height="8.05" fill="#ffc300"/><rect x="251.00" y="88.00" width="8.05" height="8.05" fill="#98f783"/><rect x="259.00" y="88.00" width="16.05" height="8.05" fill="#ffc300"/><rect x="275.00" y="88.00" width="16.05" height="8.05" fill="#ff0000"/><rect x="291.00" y="88.00" width="16.05" height="8.05" fill="#98f783"/><rect x="307.00" y="88.00" width="8.05" height="8.05" fill="#ff0000"/><rect x="35.00" y="96.00" width="16.05" height="8.05" fill="#98f783"/><rect x="51.00" y="96.00" width="24.05" height="8.05" fill="#ff0000"/><rect x="75.00" y="96.00" width="16.05" height="8.05" fill="#98f783"/><rect x="91.00" y="96.00" width="40.05" height="8.05" fill="#ff0000"/><rect x="131.00" y="96.00" width="8.05" height="8.05" fill="#ffc300"/><rect x="139.00" y="96.00" width="56.05" height="8.05" fill="#ff0000"/><rect x="195.00" y="96.00" width="32.05" height="8.05" fill="#98f783"/><rect x="227.00" y="96.00" width="48.05" height="8.05" fill="#ffc300"/><rect x="275.00" y="96.00" width="8.05" height="8.05" fill="#ff0000"/><rect x="283.00" y="96.00" width="8.05" height="8.05" fill="#ffc300"/><rect x="291.00" y="96.00" width="8.05" height="8.05" fill="#98f783"/><rect x="299.00" y="96.00" width="16.05" height="8.05" fill="#ff0000"/><rect x="43.00" y="104.00" width="16.05" height="8.05" fill="#98f783"/><rect x="59.00" y="104.00" width="16.05" height="8.05" fill="#ff0000"/><rect x="75.00" y="104.00" width="16.05" height="8.05" fill="#98f783"/><rect x="91.00" y="104.00" width="32.05" height="8.05" fill="#ff0000"/><rect x="123.00" y="104.00" width="16.05" height="8.05" fill="#ffc300"/><rect x="139.00" y="104.00" width="8.05" height="8.05" fill="#ff0000"/><rect x="147.00" y="104.00" width="8.05" height="8.05" fill="#ffc300"/><rect x="155.00" y="104.00" width="8.05" height="8.05" fill="#98f783"/><rect x="163.00" y="104.00" width="8.05" height="8.05" fill="#ffc300"/><rect x="171.00" y="104.00" width="8.05" height="8.05" fill="#98f783"/><rect x="179.00" y="104.00" width="8.05" height="8.05" fill="#ffc300"/><rect x="187.00" y="104.00" width="8.05" height="8.05" fill="#98f783"/><rect x="195.00" y="104.00" width="24.05" height="8.05" fill="#00c5ff"/><rect x="219.00" y="104.00" width="8.05" height="8.05" fill="#0000f0"/><rect x="227.00" y="104.00" width="8.05" height="8.05" fill="#00c5ff"/><rect x="235.00" y="104.00" width="8.05" height="8.05" fill="#98f783"/><rect x="243.00" y="104.00" width="8.05" height="8.05" fill="#ffc300"/><rect x="251.00" y="104.00" width="8.05" height="8.05" fill="#ff0000"/><rect x="259.00" y="104.00" width="16.05" height="8.05" fill="#ffc300"/><rect x="275.00" y="104.00" width="24.05" height="8.05" fill="#ff0000"/><rect x="51.00" y="112.00" width="24.05" height="8.05" fill="#98f783"/><rect x="75.00" y="112.00" width="56.05" height="8.05" fill="#ff0000"/><rect x="131.00" y="112.00" width="8.05" height="8.05" fill="#ffc300"/><rect x="139.00" y="112.00" width="16.05" height="8.05" fill="#ff0000"/><rect x="155.00" y="112.00" width="8.05" height="8.05" fill="#98f783"/><rect x="163.00" y="112.00" width="24.05" height="8.05" fill="#ffc300"/><rect x="187.00" y="112.00" width="24.05" height="8.05" fill="#98f783"/><rect x="211.00" y="112.00" width="8.05" height="8.05" fill="#00c5ff"/><rect x="219.00" y="112.00" width="16.05" height="8.05" fill="#0000f0"/><rect x="235.00" y="112.00" width="8.05" height="8.05" fill="#00c5ff"/><rect x="243.00" y="112.00" width="8.05" height="8.05" fill="#98f783"/><rect x="251.00" y="112.00" width="8.05" height="8.05" fill="#ff0000"/><rect x="259.00" y="112.00" width="16.05" height="8.05" fill="#ffc300"/><rect x="275.00" y="112.00" width="16.05" height="8.05" fill="#ff0000"/><rect x="75.00" y="120.00" width="8.05" height="8.05" fill="#98f783"/><rect x="83.00" y="120.00" width="104.05" height="8.05" fill="#ff0000"/><rect x="187.00" y="120.00" width="8.05" height="8.05" fill="#98f783"/><rect x="195.00" y="120.00" width="24.05" height="8.05" fill="#ff0000"/><rect x="219.00" y="120.00" width="32.05" height="8.05" fill="#00c5ff"/><rect x="251.00" y="120.00" width="8.05" height="8.05" fill="#98f783"/><rect x="259.00" y="120.00" width="8.05" height="8.05" fill="#ff0000"/><rect x="267.00" y="120.00" width="8.05" height="8.05" fill="#ffc300"/><rect x="275.00" y="120.00" width="16.05" height="8.05" fill="#ff0000"/><rect x="99.00" y="128.00" width="32.05" height="8.05" fill="#98f783"/><rect x="131.00" y="128.00" width="8.05" height="8.05" fill="#ff0000"/><rect x="139.00" y="128.00" width="16.05" height="8.05" fill="#98f783"/><rect x="155.00" y="128.00" width="8.05" height="8.05" fill="#ff0000"/><rect x="163.00" y="128.00" width="8.05" height="8.05" fill="#98f783"/><rect x="171.00" y="128.00" width="16.05" height="8.05" fill="#00c5ff"/><rect x="187.00" y="128.00" width="8.05" height="8.05" fill="#98f783"/><rect x="195.00" y="128.00" width="32.05" height="8.05" fill="#ff0000"/><rect x="227.00" y="128.00" width="24.05" height="8.05" fill="#00c5ff"/><rect x="251.00" y="128.00" width="40.05" height="8.05" fill="#ff0000"/><rect x="115.00" y="136.00" width="8.05" height="8.05" fill="#ff0000"/><rect x="131.00" y="136.00" width="8.05" height="8.05" fill="#ff0000"/><rect x="147.00" y="136.00" width="8.05" height="8.05" fill="#ff0000"/><rect x="171.00" y="136.00" width="48.05" height="8.05" fill="#ff0000"/><rect x="227.00" y="136.00" width="8.05" height="8.05" fill="#ff0000"/><rect x="251.00" y="136.00" width="32.05" height="8.05" fill="#ff0000"/><rect x="179.00" y="144.00" width="24.05" height="8.05" fill="#ff0000"/><rect x="251.00" y="144.00" width="16.05" height="8.05" fill="#ff0000"/><rect x="251.00" y="152.00" width="8.05" height="8.05" fill="#ff0000"/><rect x="156.70" y="41.70" width="4.6" height="4.6" fill="#98f783"/><rect x="68.70" y="65.70" width="4.6" height="4.6" fill="#98f783"/><rect x="132.70" y="81.70" width="4.6" height="4.6" fill="#98f783"/><rect x="60.70" y="97.70" width="4.6" height="4.6" fill="#98f783"/><rect x="108.70" y="105.70" width="4.6" height="4.6" fill="#98f783"/><rect x="236.70" y="121.70" width="4.6" height="4.6" fill="#0000f0"/></g><rect x="0" y="0" width="317.7" height="164.8" fill="none" stroke="#404040" stroke-width="1.2" shape-rendering="geometricPrecision"/><line x1="49.4" y1="-2.6" x2="49.4" y2="0" stroke="#333" stroke-width="0.9"/><text x="49.699999999999996" y="-5.6" class="lb" text-anchor="middle">80° E</text><line x1="103.8" y1="-2.6" x2="103.8" y2="0" stroke="#333" stroke-width="0.9"/><text x="104.1" y="-5.6" class="lb" text-anchor="middle">85° E</text><line x1="158.2" y1="-2.6" x2="158.2" y2="0" stroke="#333" stroke-width="0.9"/><text x="158.5" y="-5.6" class="lb" text-anchor="middle">90° E</text><line x1="212.6" y1="-2.6" x2="212.6" y2="0" stroke="#333" stroke-width="0.9"/><text x="212.9" y="-5.6" class="lb" text-anchor="middle">95° E</text><line x1="267.0" y1="-2.6" x2="267.0" y2="0" stroke="#333" stroke-width="0.9"/><text x="267.3" y="-5.6" class="lb" text-anchor="middle">100° E</text><line x1="-2.9" y1="6.5" x2="0" y2="6.5" stroke="#333" stroke-width="0.9"/><text transform="translate(-5.3,6.5) rotate(-90)" x="0" y="0" class="lb" text-anchor="middle">40° N</text><line x1="-2.9" y1="60.8" x2="0" y2="60.8" stroke="#333" stroke-width="0.9"/><text transform="translate(-5.3,60.8) rotate(-90)" x="0" y="0" class="lb" text-anchor="middle">35° N</text><line x1="-2.9" y1="115.3" x2="0" y2="115.3" stroke="#333" stroke-width="0.9"/><text transform="translate(-5.3,115.3) rotate(-90)" x="0" y="0" class="lb" text-anchor="middle">30° N</text><text x="307.7" y="8.4" class="na" text-anchor="middle">N</text><path d="M307.5,10.7 L302,27.2 L307.4,20.8 Z" fill="#000" shape-rendering="geometricPrecision"/><path d="M307.5,10.7 L312.6,27.2 L307.4,20.8 Z" fill="#fff" stroke="#000" stroke-width="0.7" stroke-linejoin="miter" shape-rendering="geometricPrecision"/><path d="M307.5,10.7 L302,27.2 L307.4,20.8 Z" fill="#000" stroke="#000" stroke-width="0.5" shape-rendering="geometricPrecision"/><rect x="6.8" y="155.2" width="98.7" height="3.8" fill="#000"/><rect x="31.9" y="155.9" width="24.4" height="2.4" fill="#fff"/><text x="7.4" y="151.7" class="sb" text-anchor="middle">0</text><text x="31.7" y="151.7" class="sb" text-anchor="middle">250</text><text x="56.3" y="151.7" class="sb" text-anchor="middle">500</text><text x="105.4" y="151.7" class="sb" text-anchor="middle">1,000</text><text x="107.2" y="158.9" class="sb">km</text><text x="314.9" y="159.9" class="yr" text-anchor="end">1989</text></g><g transform="translate(21.5,202.0)"><g clip-path="url(#ol)"><rect x="187.00" y="8.00" width="32.05" height="8.05" fill="#ff0000"/><rect x="219.00" y="8.00" width="8.05" height="8.05" fill="#98f783"/><rect x="227.00" y="8.00" width="24.05" height="8.05" fill="#ff0000"/><rect x="3.00" y="16.00" width="16.05" height="8.05" fill="#ff0000"/><rect x="139.00" y="16.00" width="72.05" height="8.05" fill="#ff0000"/><rect x="211.00" y="16.00" width="24.05" height="8.05" fill="#98f783"/><rect x="235.00" y="16.00" width="8.05" height="8.05" fill="#ff0000"/><rect x="243.00" y="16.00" width="8.05" height="8.05" fill="#ffc300"/><rect x="251.00" y="16.00" width="24.05" height="8.05" fill="#98f783"/><rect x="3.00" y="24.00" width="8.05" height="8.05" fill="#ffc300"/><rect x="11.00" y="24.00" width="16.05" height="8.05" fill="#ff0000"/><rect x="115.00" y="24.00" width="8.05" height="8.05" fill="#ff0000"/><rect x="123.00" y="24.00" width="16.05" height="8.05" fill="#98f783"/><rect x="139.00" y="24.00" width="80.05" height="8.05" fill="#ff0000"/><rect x="219.00" y="24.00" width="16.05" height="8.05" fill="#00c5ff"/><rect x="235.00" y="24.00" width="16.05" height="8.05" fill="#98f783"/><rect x="251.00" y="24.00" width="16.05" height="8.05" fill="#ff0000"/><rect x="267.00" y="24.00" width="16.05" height="8.05" fill="#98f783"/><rect x="283.00" y="24.00" width="8.05" height="8.05" fill="#00c5ff"/><rect x="3.00" y="32.00" width="8.05" height="8.05" fill="#98f783"/><rect x="11.00" y="32.00" width="40.05" height="8.05" fill="#ff0000"/><rect x="91.00" y="32.00" width="40.05" height="8.05" fill="#ff0000"/><rect x="131.00" y="32.00" width="8.05" height="8.05" fill="#98f783"/><rect x="139.00" y="32.00" width="32.05" height="8.05" fill="#ff0000"/><rect x="171.00" y="32.00" width="16.05" height="8.05" fill="#98f783"/><rect x="187.00" y="32.00" width="56.05" height="8.05" fill="#ff0000"/><rect x="243.00" y="32.00" width="8.05" height="8.05" fill="#ffc300"/><rect x="251.00" y="32.00" width="24.05" height="8.05" fill="#ff0000"/><rect x="275.00" y="32.00" width="8.05" height="8.05" fill="#ffc300"/><rect x="283.00" y="32.00" width="16.05" height="8.05" fill="#98f783"/><rect x="3.00" y="40.00" width="16.05" height="8.05" fill="#98f783"/><rect x="19.00" y="40.00" width="8.05" height="8.05" fill="#00c5ff"/><rect x="27.00" y="40.00" width="8.05" height="8.05" fill="#98f783"/><rect x="35.00" y="40.00" width="32.05" height="8.05" fill="#ff0000"/><rect x="67.00" y="40.00" width="16.05" height="8.05" fill="#98f783"/><rect x="83.00" y="40.00" width="16.05" height="8.05" fill="#00c5ff"/><rect x="99.00" y="40.00" width="24.05" height="8.05" fill="#ff0000"/><rect x="123.00" y="40.00" width="24.05" height="8.05" fill="#00c5ff"/><rect x="147.00" y="40.00" width="32.05" height="8.05" fill="#ff0000"/><rect x="179.00" y="40.00" width="16.05" height="8.05" fill="#98f783"/><rect x="195.00" y="40.00" width="8.05" height="8.05" fill="#ff0000"/><rect x="203.00" y="40.00" width="8.05" height="8.05" fill="#98f783"/><rect x="211.00" y="40.00" width="8.05" height="8.05" fill="#ff0000"/><rect x="219.00" y="40.00" width="16.05" height="8.05" fill="#ffc300"/><rect x="235.00" y="40.00" width="40.05" height="8.05" fill="#ff0000"/><rect x="275.00" y="40.00" width="16.05" height="8.05" fill="#ffc300"/><rect x="291.00" y="40.00" width="8.05" height="8.05" fill="#ff0000"/><rect x="3.00" y="48.00" width="24.05" height="8.05" fill="#98f783"/><rect x="27.00" y="48.00" width="8.05" height="8.05" fill="#ff0000"/><rect x="35.00" y="48.00" width="40.05" height="8.05" fill="#00c5ff"/><rect x="75.00" y="48.00" width="8.05" height="8.05" fill="#ff0000"/><rect x="83.00" y="48.00" width="8.05" height="8.05" fill="#98f783"/><rect x="91.00" y="48.00" width="40.05" height="8.05" fill="#ff0000"/><rect x="131.00" y="48.00" width="24.05" height="8.05" fill="#00c5ff"/><rect x="155.00" y="48.00" width="24.05" height="8.05" fill="#ff0000"/><rect x="179.00" y="48.00" width="40.05" height="8.05" fill="#98f783"/><rect x="219.00" y="48.00" width="8.05" height="8.05" fill="#00c5ff"/><rect x="227.00" y="48.00" width="8.05" height="8.05" fill="#0000f0"/><rect x="235.00" y="48.00" width="8.05" height="8.05" fill="#00c5ff"/><rect x="243.00" y="48.00" width="16.05" height="8.05" fill="#98f783"/><rect x="259.00" y="48.00" width="24.05" height="8.05" fill="#ff0000"/><rect x="283.00" y="48.00" width="8.05" height="8.05" fill="#ffc300"/><rect x="291.00" y="48.00" width="8.05" height="8.05" fill="#ff0000"/><rect x="27.00" y="56.00" width="72.05" height="8.05" fill="#ff0000"/><rect x="99.00" y="56.00" width="8.05" height="8.05" fill="#00c5ff"/><rect x="107.00" y="56.00" width="96.05" height="8.05" fill="#ff0000"/><rect x="203.00" y="56.00" width="8.05" height="8.05" fill="#98f783"/><rect x="211.00" y="56.00" width="24.05" height="8.05" fill="#00c5ff"/><rect x="235.00" y="56.00" width="8.05" height="8.05" fill="#ff0000"/><rect x="243.00" y="56.00" width="8.05" height="8.05" fill="#98f783"/><rect x="251.00" y="56.00" width="16.05" height="8.05" fill="#0000f0"/><rect x="267.00" y="56.00" width="8.05" height="8.05" fill="#98f783"/><rect x="275.00" y="56.00" width="8.05" height="8.05" fill="#ff0000"/><rect x="283.00" y="56.00" width="8.05" height="8.05" fill="#98f783"/><rect x="291.00" y="56.00" width="16.05" height="8.05" fill="#ff0000"/><rect x="35.00" y="64.00" width="8.05" height="8.05" fill="#ff0000"/><rect x="43.00" y="64.00" width="16.05" height="8.05" fill="#98f783"/><rect x="59.00" y="64.00" width="40.05" height="8.05" fill="#ff0000"/><rect x="99.00" y="64.00" width="8.05" height="8.05" fill="#00c5ff"/><rect x="107.00" y="64.00" width="48.05" height="8.05" fill="#ff0000"/><rect x="155.00" y="64.00" width="8.05" height="8.05" fill="#00c5ff"/><rect x="163.00" y="64.00" width="40.05" height="8.05" fill="#ff0000"/><rect x="203.00" y="64.00" width="48.05" height="8.05" fill="#00c5ff"/><rect x="251.00" y="64.00" width="24.05" height="8.05" fill="#0000f0"/><rect x="275.00" y="64.00" width="8.05" height="8.05" fill="#98f783"/><rect x="283.00" y="64.00" width="16.05" height="8.05" fill="#ff0000"/><rect x="299.00" y="64.00" width="8.05" height="8.05" fill="#98f783"/><rect x="35.00" y="72.00" width="8.05" height="8.05" fill="#ff0000"/><rect x="43.00" y="72.00" width="24.05" height="8.05" fill="#98f783"/><rect x="67.00" y="72.00" width="88.05" height="8.05" fill="#ff0000"/><rect x="155.00" y="72.00" width="8.05" height="8.05" fill="#00c5ff"/><rect x="163.00" y="72.00" width="80.05" height="8.05" fill="#0000f0"/><rect x="243.00" y="72.00" width="8.05" height="8.05" fill="#00c5ff"/><rect x="251.00" y="72.00" width="8.05" height="8.05" fill="#0000f0"/><rect x="259.00" y="72.00" width="8.05" height="8.05" fill="#98f783"/><rect x="267.00" y="72.00" width="16.05" height="8.05" fill="#00c5ff"/><rect x="283.00" y="72.00" width="8.05" height="8.05" fill="#98f783"/><rect x="291.00" y="72.00" width="8.05" height="8.05" fill="#ff0000"/><rect x="299.00" y="72.00" width="8.05" height="8.05" fill="#98f783"/><rect x="307.00" y="72.00" width="8.05" height="8.05" fill="#ffc300"/><rect x="35.00" y="80.00" width="8.05" height="8.05" fill="#98f783"/><rect x="43.00" y="80.00" width="16.05" height="8.05" fill="#ff0000"/><rect x="59.00" y="80.00" width="8.05" height="8.05" fill="#98f783"/><rect x="67.00" y="80.00" width="32.05" height="8.05" fill="#ff0000"/><rect x="99.00" y="80.00" width="16.05" height="8.05" fill="#00c5ff"/><rect x="115.00" y="80.00" width="40.05" height="8.05" fill="#ff0000"/><rect x="155.00" y="80.00" width="8.05" height="8.05" fill="#98f783"/><rect x="163.00" y="80.00" width="56.05" height="8.05" fill="#0000f0"/><rect x="219.00" y="80.00" width="8.05" height="8.05" fill="#98f783"/><rect x="227.00" y="80.00" width="16.05" height="8.05" fill="#00c5ff"/><rect x="243.00" y="80.00" width="24.05" height="8.05" fill="#98f783"/><rect x="267.00" y="80.00" width="8.05" height="8.05" fill="#00c5ff"/><rect x="275.00" y="80.00" width="16.05" height="8.05" fill="#98f783"/><rect x="291.00" y="80.00" width="8.05" height="8.05" fill="#00c5ff"/><rect x="299.00" y="80.00" width="16.05" height="8.05" fill="#98f783"/><rect x="315.00" y="80.00" width="8.05" height="8.05" fill="#ffc300"/><rect x="27.00" y="88.00" width="40.05" height="8.05" fill="#98f783"/><rect x="67.00" y="88.00" width="104.05" height="8.05" fill="#ff0000"/><rect x="171.00" y="88.00" width="16.05" height="8.05" fill="#98f783"/><rect x="187.00" y="88.00" width="8.05" height="8.05" fill="#00c5ff"/><rect x="195.00" y="88.00" width="24.05" height="8.05" fill="#0000f0"/><rect x="219.00" y="88.00" width="24.05" height="8.05" fill="#98f783"/><rect x="243.00" y="88.00" width="8.05" height="8.05" fill="#ff0000"/><rect x="251.00" y="88.00" width="40.05" height="8.05" fill="#98f783"/><rect x="291.00" y="88.00" width="8.05" height="8.05" fill="#00c5ff"/><rect x="299.00" y="88.00" width="8.05" height="8.05" fill="#98f783"/><rect x="307.00" y="88.00" width="8.05" height="8.05" fill="#ff0000"/><rect x="35.00" y="96.00" width="40.05" height="8.05" fill="#98f783"/><rect x="75.00" y="96.00" width="96.05" height="8.05" fill="#ff0000"/><rect x="171.00" y="96.00" width="8.05" height="8.05" fill="#ffc300"/><rect x="179.00" y="96.00" width="8.05" height="8.05" fill="#ff0000"/><rect x="187.00" y="96.00" width="8.05" height="8.05" fill="#98f783"/><rect x="195.00" y="96.00" width="16.05" height="8.05" fill="#00c5ff"/><rect x="211.00" y="96.00" width="16.05" height="8.05" fill="#98f783"/><rect x="227.00" y="96.00" width="16.05" height="8.05" fill="#ffc300"/><rect x="243.00" y="96.00" width="8.05" height="8.05" fill="#ff0000"/><rect x="251.00" y="96.00" width="16.05" height="8.05" fill="#98f783"/><rect x="267.00" y="96.00" width="8.05" height="8.05" fill="#ff0000"/><rect x="275.00" y="96.00" width="24.05" height="8.05" fill="#98f783"/><rect x="299.00" y="96.00" width="16.05" height="8.05" fill="#ff0000"/><rect x="35.00" y="104.00" width="8.05" height="8.05" fill="#0000f0"/><rect x="43.00" y="104.00" width="8.05" height="8.05" fill="#00c5ff"/><rect x="51.00" y="104.00" width="8.05" height="8.05" fill="#0000f0"/><rect x="59.00" y="104.00" width="8.05" height="8.05" fill="#00c5ff"/><rect x="67.00" y="104.00" width="16.05" height="8.05" fill="#0000f0"/><rect x="83.00" y="104.00" width="8.05" height="8.05" fill="#00c5ff"/><rect x="91.00" y="104.00" width="8.05" height="8.05" fill="#ff0000"/><rect x="99.00" y="104.00" width="16.05" height="8.05" fill="#98f783"/><rect x="115.00" y="104.00" width="8.05" height="8.05" fill="#ff0000"/><rect x="123.00" y="104.00" width="16.05" height="8.05" fill="#98f783"/><rect x="139.00" y="104.00" width="8.05" height="8.05" fill="#ffc300"/><rect x="147.00" y="104.00" width="8.05" height="8.05" fill="#98f783"/><rect x="155.00" y="104.00" width="24.05" height="8.05" fill="#ff0000"/><rect x="179.00" y="104.00" width="8.05" height="8.05" fill="#ffc300"/><rect x="187.00" y="104.00" width="8.05" height="8.05" fill="#98f783"/><rect x="195.00" y="104.00" width="16.05" height="8.05" fill="#00c5ff"/><rect x="211.00" y="104.00" width="16.05" height="8.05" fill="#0000f0"/><rect x="227.00" y="104.00" width="24.05" height="8.05" fill="#ff0000"/><rect x="251.00" y="104.00" width="8.05" height="8.05" fill="#ffc300"/><rect x="259.00" y="104.00" width="8.05" height="8.05" fill="#98f783"/><rect x="267.00" y="104.00" width="16.05" height="8.05" fill="#ff0000"/><rect x="283.00" y="104.00" width="16.05" height="8.05" fill="#98f783"/><rect x="67.00" y="112.00" width="8.05" height="8.05" fill="#0000f0"/><rect x="75.00" y="112.00" width="8.05" height="8.05" fill="#00c5ff"/><rect x="83.00" y="112.00" width="16.05" height="8.05" fill="#ff0000"/><rect x="99.00" y="112.00" width="8.05" height="8.05" fill="#98f783"/><rect x="107.00" y="112.00" width="16.05" height="8.05" fill="#ffc300"/><rect x="123.00" y="112.00" width="64.05" height="8.05" fill="#ff0000"/><rect x="187.00" y="112.00" width="8.05" height="8.05" fill="#98f783"/><rect x="195.00" y="112.00" width="16.05" height="8.05" fill="#00c5ff"/><rect x="211.00" y="112.00" width="8.05" height="8.05" fill="#98f783"/><rect x="219.00" y="112.00" width="8.05" height="8.05" fill="#0000f0"/><rect x="227.00" y="112.00" width="8.05" height="8.05" fill="#00c5ff"/><rect x="235.00" y="112.00" width="8.05" height="8.05" fill="#98f783"/><rect x="243.00" y="112.00" width="16.05" height="8.05" fill="#ff0000"/><rect x="259.00" y="112.00" width="8.05" height="8.05" fill="#ffc300"/><rect x="267.00" y="112.00" width="16.05" height="8.05" fill="#ff0000"/><rect x="283.00" y="112.00" width="8.05" height="8.05" fill="#98f783"/><rect x="83.00" y="120.00" width="32.05" height="8.05" fill="#ff0000"/><rect x="115.00" y="120.00" width="8.05" height="8.05" fill="#ffc300"/><rect x="123.00" y="120.00" width="16.05" height="8.05" fill="#98f783"/><rect x="139.00" y="120.00" width="48.05" height="8.05" fill="#ff0000"/><rect x="187.00" y="120.00" width="32.05" height="8.05" fill="#98f783"/><rect x="219.00" y="120.00" width="16.05" height="8.05" fill="#00c5ff"/><rect x="235.00" y="120.00" width="16.05" height="8.05" fill="#98f783"/><rect x="251.00" y="120.00" width="8.05" height="8.05" fill="#ff0000"/><rect x="259.00" y="120.00" width="8.05" height="8.05" fill="#ffc300"/><rect x="267.00" y="120.00" width="16.05" height="8.05" fill="#ff0000"/><rect x="283.00" y="120.00" width="8.05" height="8.05" fill="#98f783"/><rect x="99.00" y="128.00" width="32.05" height="8.05" fill="#00c5ff"/><rect x="131.00" y="128.00" width="40.05" height="8.05" fill="#ff0000"/><rect x="171.00" y="128.00" width="8.05" height="8.05" fill="#98f783"/><rect x="179.00" y="128.00" width="8.05" height="8.05" fill="#00c5ff"/><rect x="187.00" y="128.00" width="32.05" height="8.05" fill="#ff0000"/><rect x="219.00" y="128.00" width="32.05" height="8.05" fill="#98f783"/><rect x="251.00" y="128.00" width="40.05" height="8.05" fill="#ff0000"/><rect x="123.00" y="136.00" width="8.05" height="8.05" fill="#98f783"/><rect x="131.00" y="136.00" width="16.05" height="8.05" fill="#00c5ff"/><rect x="147.00" y="136.00" width="8.05" height="8.05" fill="#98f783"/><rect x="171.00" y="136.00" width="48.05" height="8.05" fill="#ff0000"/><rect x="251.00" y="136.00" width="32.05" height="8.05" fill="#ff0000"/><rect x="179.00" y="144.00" width="24.05" height="8.05" fill="#ff0000"/><rect x="251.00" y="144.00" width="16.05" height="8.05" fill="#ff0000"/><rect x="251.00" y="152.00" width="8.05" height="8.05" fill="#ffc300"/><rect x="156.70" y="25.70" width="4.6" height="4.6" fill="#98f783"/><rect x="108.70" y="33.70" width="4.6" height="4.6" fill="#98f783"/><rect x="156.70" y="41.70" width="4.6" height="4.6" fill="#00c5ff"/><rect x="220.70" y="57.70" width="4.6" height="4.6" fill="#0000f0"/><rect x="156.70" y="129.70" width="4.6" height="4.6" fill="#98f783"/><rect x="252.70" y="137.70" width="4.6" height="4.6" fill="#ffc300"/></g><rect x="0" y="0" width="317.7" height="164.8" fill="none" stroke="#404040" stroke-width="1.2" shape-rendering="geometricPrecision"/><line x1="49.4" y1="-2.6" x2="49.4" y2="0" stroke="#333" stroke-width="0.9"/><text x="49.699999999999996" y="-5.6" class="lb" text-anchor="middle">80° E</text><line x1="103.8" y1="-2.6" x2="103.8" y2="0" stroke="#333" stroke-width="0.9"/><text x="104.1" y="-5.6" class="lb" text-anchor="middle">85° E</text><line x1="158.2" y1="-2.6" x2="158.2" y2="0" stroke="#333" stroke-width="0.9"/><text x="158.5" y="-5.6" class="lb" text-anchor="middle">90° E</text><line x1="212.6" y1="-2.6" x2="212.6" y2="0" stroke="#333" stroke-width="0.9"/><text x="212.9" y="-5.6" class="lb" text-anchor="middle">95° E</text><line x1="267.0" y1="-2.6" x2="267.0" y2="0" stroke="#333" stroke-width="0.9"/><text x="267.3" y="-5.6" class="lb" text-anchor="middle">100° E</text><line x1="-2.9" y1="6.5" x2="0" y2="6.5" stroke="#333" stroke-width="0.9"/><text transform="translate(-5.3,6.5) rotate(-90)" x="0" y="0" class="lb" text-anchor="middle">40° N</text><line x1="-2.9" y1="60.8" x2="0" y2="60.8" stroke="#333" stroke-width="0.9"/><text transform="translate(-5.3,60.8) rotate(-90)" x="0" y="0" class="lb" text-anchor="middle">35° N</text><line x1="-2.9" y1="115.3" x2="0" y2="115.3" stroke="#333" stroke-width="0.9"/><text transform="translate(-5.3,115.3) rotate(-90)" x="0" y="0" class="lb" text-anchor="middle">30° N</text><text x="307.7" y="8.4" class="na" text-anchor="middle">N</text><path d="M307.5,10.7 L302,27.2 L307.4,20.8 Z" fill="#000" shape-rendering="geometricPrecision"/><path d="M307.5,10.7 L312.6,27.2 L307.4,20.8 Z" fill="#fff" stroke="#000" stroke-width="0.7" stroke-linejoin="miter" shape-rendering="geometricPrecision"/><path d="M307.5,10.7 L302,27.2 L307.4,20.8 Z" fill="#000" stroke="#000" stroke-width="0.5" shape-rendering="geometricPrecision"/><rect x="6.8" y="155.2" width="98.7" height="3.8" fill="#000"/><rect x="31.9" y="155.9" width="24.4" height="2.4" fill="#fff"/><text x="7.4" y="151.7" class="sb" text-anchor="middle">0</text><text x="31.7" y="151.7" class="sb" text-anchor="middle">250</text><text x="56.3" y="151.7" class="sb" text-anchor="middle">500</text><text x="105.4" y="151.7" class="sb" text-anchor="middle">1,000</text><text x="107.2" y="158.9" class="sb">km</text><text x="314.9" y="159.9" class="yr" text-anchor="end">1984</text></g><g transform="translate(359.4,202.0)"><g clip-path="url(#ol)"><rect x="163.00" y="8.00" width="32.05" height="8.05" fill="#ff0000"/><rect x="195.00" y="8.00" width="56.05" height="8.05" fill="#98f783"/><rect x="3.00" y="16.00" width="16.05" height="8.05" fill="#98f783"/><rect x="139.00" y="16.00" width="32.05" height="8.05" fill="#98f783"/><rect x="171.00" y="16.00" width="8.05" height="8.05" fill="#ffc300"/><rect x="179.00" y="16.00" width="16.05" height="8.05" fill="#ff0000"/><rect x="195.00" y="16.00" width="40.05" height="8.05" fill="#98f783"/><rect x="235.00" y="16.00" width="40.05" height="8.05" fill="#00c5ff"/><rect x="3.00" y="24.00" width="24.05" height="8.05" fill="#98f783"/><rect x="115.00" y="24.00" width="8.05" height="8.05" fill="#ff0000"/><rect x="123.00" y="24.00" width="24.05" height="8.05" fill="#98f783"/><rect x="147.00" y="24.00" width="8.05" height="8.05" fill="#ff0000"/><rect x="155.00" y="24.00" width="16.05" height="8.05" fill="#98f783"/><rect x="171.00" y="24.00" width="40.05" height="8.05" fill="#ff0000"/><rect x="211.00" y="24.00" width="24.05" height="8.05" fill="#98f783"/><rect x="235.00" y="24.00" width="16.05" height="8.05" fill="#00c5ff"/><rect x="251.00" y="24.00" width="8.05" height="8.05" fill="#98f783"/><rect x="259.00" y="24.00" width="8.05" height="8.05" fill="#00c5ff"/><rect x="267.00" y="24.00" width="16.05" height="8.05" fill="#0000f0"/><rect x="283.00" y="24.00" width="8.05" height="8.05" fill="#00c5ff"/><rect x="3.00" y="32.00" width="16.05" height="8.05" fill="#98f783"/><rect x="19.00" y="32.00" width="16.05" height="8.05" fill="#ff0000"/><rect x="35.00" y="32.00" width="16.05" height="8.05" fill="#98f783"/><rect x="99.00" y="32.00" width="48.05" height="8.05" fill="#98f783"/><rect x="147.00" y="32.00" width="8.05" height="8.05" fill="#ff0000"/><rect x="155.00" y="32.00" width="32.05" height="8.05" fill="#98f783"/><rect x="187.00" y="32.00" width="48.05" height="8.05" fill="#ff0000"/><rect x="235.00" y="32.00" width="24.05" height="8.05" fill="#98f783"/><rect x="259.00" y="32.00" width="16.05" height="8.05" fill="#ff0000"/><rect x="275.00" y="32.00" width="24.05" height="8.05" fill="#00c5ff"/><rect x="3.00" y="40.00" width="40.05" height="8.05" fill="#98f783"/><rect x="43.00" y="40.00" width="16.05" height="8.05" fill="#ffc300"/><rect x="59.00" y="40.00" width="32.05" height="8.05" fill="#ff0000"/><rect x="91.00" y="40.00" width="56.05" height="8.05" fill="#98f783"/><rect x="147.00" y="40.00" width="8.05" height="8.05" fill="#ff0000"/><rect x="155.00" y="40.00" width="48.05" height="8.05" fill="#98f783"/><rect x="203.00" y="40.00" width="40.05" height="8.05" fill="#ff0000"/><rect x="243.00" y="40.00" width="8.05" height="8.05" fill="#98f783"/><rect x="251.00" y="40.00" width="8.05" height="8.05" fill="#00c5ff"/><rect x="259.00" y="40.00" width="8.05" height="8.05" fill="#98f783"/><rect x="267.00" y="40.00" width="8.05" height="8.05" fill="#ff0000"/><rect x="275.00" y="40.00" width="24.05" height="8.05" fill="#98f783"/><rect x="11.00" y="48.00" width="40.05" height="8.05" fill="#98f783"/><rect x="51.00" y="48.00" width="16.05" height="8.05" fill="#ffc300"/><rect x="67.00" y="48.00" width="88.05" height="8.05" fill="#98f783"/><rect x="155.00" y="48.00" width="8.05" height="8.05" fill="#ff0000"/><rect x="163.00" y="48.00" width="16.05" height="8.05" fill="#98f783"/><rect x="179.00" y="48.00" width="8.05" height="8.05" fill="#ff0000"/><rect x="187.00" y="48.00" width="48.05" height="8.05" fill="#98f783"/><rect x="235.00" y="48.00" width="24.05" height="8.05" fill="#00c5ff"/><rect x="259.00" y="48.00" width="8.05" height="8.05" fill="#98f783"/><rect x="267.00" y="48.00" width="8.05" height="8.05" fill="#ff0000"/><rect x="275.00" y="48.00" width="32.05" height="8.05" fill="#98f783"/><rect x="27.00" y="56.00" width="8.05" height="8.05" fill="#00c5ff"/><rect x="35.00" y="56.00" width="16.05" height="8.05" fill="#98f783"/><rect x="51.00" y="56.00" width="16.05" height="8.05" fill="#ff0000"/><rect x="67.00" y="56.00" width="88.05" height="8.05" fill="#98f783"/><rect x="155.00" y="56.00" width="48.05" height="8.05" fill="#ff0000"/><rect x="203.00" y="56.00" width="32.05" height="8.05" fill="#98f783"/><rect x="235.00" y="56.00" width="16.05" height="8.05" fill="#ff0000"/><rect x="251.00" y="56.00" width="8.05" height="8.05" fill="#00c5ff"/><rect x="259.00" y="56.00" width="8.05" height="8.05" fill="#0000f0"/><rect x="267.00" y="56.00" width="8.05" height="8.05" fill="#00c5ff"/><rect x="275.00" y="56.00" width="32.05" height="8.05" fill="#98f783"/><rect x="35.00" y="64.00" width="16.05" height="8.05" fill="#98f783"/><rect x="51.00" y="64.00" width="8.05" height="8.05" fill="#ff0000"/><rect x="59.00" y="64.00" width="96.05" height="8.05" fill="#98f783"/><rect x="155.00" y="64.00" width="40.05" height="8.05" fill="#ff0000"/><rect x="195.00" y="64.00" width="24.05" height="8.05" fill="#98f783"/><rect x="219.00" y="64.00" width="40.05" height="8.05" fill="#00c5ff"/><rect x="259.00" y="64.00" width="8.05" height="8.05" fill="#0000f0"/><rect x="267.00" y="64.00" width="16.05" height="8.05" fill="#00c5ff"/><rect x="283.00" y="64.00" width="16.05" height="8.05" fill="#98f783"/><rect x="299.00" y="64.00" width="8.05" height="8.05" fill="#00c5ff"/><rect x="35.00" y="72.00" width="120.05" height="8.05" fill="#98f783"/><rect x="155.00" y="72.00" width="8.05" height="8.05" fill="#ff0000"/><rect x="163.00" y="72.00" width="48.05" height="8.05" fill="#98f783"/><rect x="211.00" y="72.00" width="16.05" height="8.05" fill="#0000f0"/><rect x="227.00" y="72.00" width="8.05" height="8.05" fill="#00c5ff"/><rect x="235.00" y="72.00" width="8.05" height="8.05" fill="#0000f0"/><rect x="243.00" y="72.00" width="8.05" height="8.05" fill="#00c5ff"/><rect x="251.00" y="72.00" width="24.05" height="8.05" fill="#0000f0"/><rect x="275.00" y="72.00" width="40.05" height="8.05" fill="#00c5ff"/><rect x="35.00" y="80.00" width="8.05" height="8.05" fill="#00c5ff"/><rect x="43.00" y="80.00" width="136.05" height="8.05" fill="#98f783"/><rect x="179.00" y="80.00" width="24.05" height="8.05" fill="#00c5ff"/><rect x="203.00" y="80.00" width="24.05" height="8.05" fill="#0000f0"/><rect x="227.00" y="80.00" width="8.05" height="8.05" fill="#00c5ff"/><rect x="235.00" y="80.00" width="16.05" height="8.05" fill="#0000f0"/><rect x="251.00" y="80.00" width="8.05" height="8.05" fill="#00c5ff"/><rect x="259.00" y="80.00" width="24.05" height="8.05" fill="#0000f0"/><rect x="283.00" y="80.00" width="32.05" height="8.05" fill="#00c5ff"/><rect x="35.00" y="88.00" width="16.05" height="8.05" fill="#00c5ff"/><rect x="51.00" y="88.00" width="40.05" height="8.05" fill="#98f783"/><rect x="91.00" y="88.00" width="8.05" height="8.05" fill="#ff0000"/><rect x="99.00" y="88.00" width="32.05" height="8.05" fill="#98f783"/><rect x="131.00" y="88.00" width="24.05" height="8.05" fill="#ff0000"/><rect x="155.00" y="88.00" width="8.05" height="8.05" fill="#98f783"/><rect x="163.00" y="88.00" width="16.05" height="8.05" fill="#ff0000"/><rect x="179.00" y="88.00" width="16.05" height="8.05" fill="#00c5ff"/><rect x="195.00" y="88.00" width="32.05" height="8.05" fill="#0000f0"/><rect x="227.00" y="88.00" width="8.05" height="8.05" fill="#00c5ff"/><rect x="235.00" y="88.00" width="16.05" height="8.05" fill="#0000f0"/><rect x="251.00" y="88.00" width="32.05" height="8.05" fill="#00c5ff"/><rect x="283.00" y="88.00" width="8.05" height="8.05" fill="#0000f0"/><rect x="291.00" y="88.00" width="16.05" height="8.05" fill="#00c5ff"/><rect x="307.00" y="88.00" width="8.05" height="8.05" fill="#ff0000"/><rect x="35.00" y="96.00" width="8.05" height="8.05" fill="#00c5ff"/><rect x="43.00" y="96.00" width="40.05" height="8.05" fill="#98f783"/><rect x="83.00" y="96.00" width="24.05" height="8.05" fill="#ff0000"/><rect x="107.00" y="96.00" width="16.05" height="8.05" fill="#98f783"/><rect x="123.00" y="96.00" width="8.05" height="8.05" fill="#ff0000"/><rect x="131.00" y="96.00" width="8.05" height="8.05" fill="#98f783"/><rect x="139.00" y="96.00" width="8.05" height="8.05" fill="#ffc300"/><rect x="147.00" y="96.00" width="8.05" height="8.05" fill="#ff0000"/><rect x="155.00" y="96.00" width="8.05" height="8.05" fill="#98f783"/><rect x="163.00" y="96.00" width="16.05" height="8.05" fill="#ff0000"/><rect x="179.00" y="96.00" width="8.05" height="8.05" fill="#00c5ff"/><rect x="187.00" y="96.00" width="64.05" height="8.05" fill="#0000f0"/><rect x="251.00" y="96.00" width="8.05" height="8.05" fill="#00c5ff"/><rect x="259.00" y="96.00" width="16.05" height="8.05" fill="#0000f0"/><rect x="275.00" y="96.00" width="8.05" height="8.05" fill="#00c5ff"/><rect x="283.00" y="96.00" width="8.05" height="8.05" fill="#0000f0"/><rect x="291.00" y="96.00" width="16.05" height="8.05" fill="#00c5ff"/><rect x="307.00" y="96.00" width="8.05" height="8.05" fill="#ff0000"/><rect x="43.00" y="104.00" width="16.05" height="8.05" fill="#00c5ff"/><rect x="59.00" y="104.00" width="32.05" height="8.05" fill="#98f783"/><rect x="91.00" y="104.00" width="8.05" height="8.05" fill="#ff0000"/><rect x="99.00" y="104.00" width="8.05" height="8.05" fill="#98f783"/><rect x="107.00" y="104.00" width="24.05" height="8.05" fill="#ff0000"/><rect x="131.00" y="104.00" width="24.05" height="8.05" fill="#98f783"/><rect x="155.00" y="104.00" width="8.05" height="8.05" fill="#ff0000"/><rect x="163.00" y="104.00" width="24.05" height="8.05" fill="#00c5ff"/><rect x="187.00" y="104.00" width="48.05" height="8.05" fill="#0000f0"/><rect x="235.00" y="104.00" width="24.05" height="8.05" fill="#00c5ff"/><rect x="259.00" y="104.00" width="16.05" height="8.05" fill="#0000f0"/><rect x="275.00" y="104.00" width="24.05" height="8.05" fill="#00c5ff"/><rect x="59.00" y="112.00" width="8.05" height="8.05" fill="#98f783"/><rect x="67.00" y="112.00" width="16.05" height="8.05" fill="#00c5ff"/><rect x="83.00" y="112.00" width="72.05" height="8.05" fill="#98f783"/><rect x="155.00" y="112.00" width="8.05" height="8.05" fill="#00c5ff"/><rect x="163.00" y="112.00" width="8.05" height="8.05" fill="#98f783"/><rect x="171.00" y="112.00" width="16.05" height="8.05" fill="#00c5ff"/><rect x="187.00" y="112.00" width="16.05" height="8.05" fill="#0000f0"/><rect x="203.00" y="112.00" width="16.05" height="8.05" fill="#00c5ff"/><rect x="219.00" y="112.00" width="16.05" height="8.05" fill="#0000f0"/><rect x="235.00" y="112.00" width="16.05" height="8.05" fill="#00c5ff"/><rect x="251.00" y="112.00" width="16.05" height="8.05" fill="#98f783"/><rect x="267.00" y="112.00" width="24.05" height="8.05" fill="#00c5ff"/><rect x="83.00" y="120.00" width="24.05" height="8.05" fill="#98f783"/><rect x="107.00" y="120.00" width="16.05" height="8.05" fill="#ff0000"/><rect x="123.00" y="120.00" width="8.05" height="8.05" fill="#ffc300"/><rect x="131.00" y="120.00" width="8.05" height="8.05" fill="#98f783"/><rect x="139.00" y="120.00" width="40.05" height="8.05" fill="#ffc300"/><rect x="179.00" y="120.00" width="8.05" height="8.05" fill="#98f783"/><rect x="187.00" y="120.00" width="40.05" height="8.05" fill="#00c5ff"/><rect x="227.00" y="120.00" width="16.05" height="8.05" fill="#0000f0"/><rect x="243.00" y="120.00" width="8.05" height="8.05" fill="#00c5ff"/><rect x="251.00" y="120.00" width="24.05" height="8.05" fill="#98f783"/><rect x="275.00" y="120.00" width="16.05" height="8.05" fill="#00c5ff"/><rect x="99.00" y="128.00" width="24.05" height="8.05" fill="#98f783"/><rect x="123.00" y="128.00" width="8.05" height="8.05" fill="#00c5ff"/><rect x="131.00" y="128.00" width="8.05" height="8.05" fill="#98f783"/><rect x="139.00" y="128.00" width="8.05" height="8.05" fill="#ff0000"/><rect x="147.00" y="128.00" width="16.05" height="8.05" fill="#98f783"/><rect x="163.00" y="128.00" width="8.05" height="8.05" fill="#ff0000"/><rect x="171.00" y="128.00" width="8.05" height="8.05" fill="#98f783"/><rect x="179.00" y="128.00" width="16.05" height="8.05" fill="#00c5ff"/><rect x="195.00" y="128.00" width="24.05" height="8.05" fill="#ff0000"/><rect x="219.00" y="128.00" width="16.05" height="8.05" fill="#00c5ff"/><rect x="235.00" y="128.00" width="8.05" height="8.05" fill="#0000f0"/><rect x="243.00" y="128.00" width="8.05" height="8.05" fill="#00c5ff"/><rect x="251.00" y="128.00" width="24.05" height="8.05" fill="#98f783"/><rect x="275.00" y="128.00" width="16.05" height="8.05" fill="#ff0000"/><rect x="131.00" y="136.00" width="24.05" height="8.05" fill="#98f783"/><rect x="179.00" y="136.00" width="8.05" height="8.05" fill="#00c5ff"/><rect x="187.00" y="136.00" width="24.05" height="8.05" fill="#ff0000"/><rect x="251.00" y="136.00" width="24.05" height="8.05" fill="#ff0000"/><rect x="179.00" y="144.00" width="24.05" height="8.05" fill="#ff0000"/><rect x="251.00" y="144.00" width="16.05" height="8.05" fill="#ff0000"/><rect x="251.00" y="152.00" width="8.05" height="8.05" fill="#ff0000"/><rect x="108.70" y="33.70" width="4.6" height="4.6" fill="#ff0000"/><rect x="164.70" y="33.70" width="4.6" height="4.6" fill="#ff0000"/><rect x="100.70" y="65.70" width="4.6" height="4.6" fill="#00c5ff"/><rect x="116.70" y="73.70" width="4.6" height="4.6" fill="#00c5ff"/><rect x="76.70" y="81.70" width="4.6" height="4.6" fill="#ff0000"/><rect x="276.70" y="113.70" width="4.6" height="4.6" fill="#98f783"/></g><rect x="0" y="0" width="317.7" height="164.8" fill="none" stroke="#404040" stroke-width="1.2" shape-rendering="geometricPrecision"/><line x1="49.4" y1="-2.6" x2="49.4" y2="0" stroke="#333" stroke-width="0.9"/><text x="49.699999999999996" y="-5.6" class="lb" text-anchor="middle">80° E</text><line x1="103.8" y1="-2.6" x2="103.8" y2="0" stroke="#333" stroke-width="0.9"/><text x="104.1" y="-5.6" class="lb" text-anchor="middle">85° E</text><line x1="158.2" y1="-2.6" x2="158.2" y2="0" stroke="#333" stroke-width="0.9"/><text x="158.5" y="-5.6" class="lb" text-anchor="middle">90° E</text><line x1="212.6" y1="-2.6" x2="212.6" y2="0" stroke="#333" stroke-width="0.9"/><text x="212.9" y="-5.6" class="lb" text-anchor="middle">95° E</text><line x1="267.0" y1="-2.6" x2="267.0" y2="0" stroke="#333" stroke-width="0.9"/><text x="267.3" y="-5.6" class="lb" text-anchor="middle">100° E</text><line x1="-2.9" y1="6.5" x2="0" y2="6.5" stroke="#333" stroke-width="0.9"/><text transform="translate(-5.3,6.5) rotate(-90)" x="0" y="0" class="lb" text-anchor="middle">40° N</text><line x1="-2.9" y1="60.8" x2="0" y2="60.8" stroke="#333" stroke-width="0.9"/><text transform="translate(-5.3,60.8) rotate(-90)" x="0" y="0" class="lb" text-anchor="middle">35° N</text><line x1="-2.9" y1="115.3" x2="0" y2="115.3" stroke="#333" stroke-width="0.9"/><text transform="translate(-5.3,115.3) rotate(-90)" x="0" y="0" class="lb" text-anchor="middle">30° N</text><text x="307.7" y="8.4" class="na" text-anchor="middle">N</text><path d="M307.5,10.7 L302,27.2 L307.4,20.8 Z" fill="#000" shape-rendering="geometricPrecision"/><path d="M307.5,10.7 L312.6,27.2 L307.4,20.8 Z" fill="#fff" stroke="#000" stroke-width="0.7" stroke-linejoin="miter" shape-rendering="geometricPrecision"/><path d="M307.5,10.7 L302,27.2 L307.4,20.8 Z" fill="#000" stroke="#000" stroke-width="0.5" shape-rendering="geometricPrecision"/><rect x="6.8" y="155.2" width="98.7" height="3.8" fill="#000"/><rect x="31.9" y="155.9" width="24.4" height="2.4" fill="#fff"/><text x="7.4" y="151.7" class="sb" text-anchor="middle">0</text><text x="31.7" y="151.7" class="sb" text-anchor="middle">250</text><text x="56.3" y="151.7" class="sb" text-anchor="middle">500</text><text x="105.4" y="151.7" class="sb" text-anchor="middle">1,000</text><text x="107.2" y="158.9" class="sb">km</text><text x="314.9" y="159.9" class="yr" text-anchor="end">1990</text></g><g transform="translate(697.0,202.0)"><g clip-path="url(#ol)"><rect x="187.00" y="8.00" width="8.05" height="8.05" fill="#ff0000"/><rect x="195.00" y="8.00" width="8.05" height="8.05" fill="#ffc300"/><rect x="203.00" y="8.00" width="8.05" height="8.05" fill="#98f783"/><rect x="211.00" y="8.00" width="8.05" height="8.05" fill="#ff0000"/><rect x="219.00" y="8.00" width="16.05" height="8.05" fill="#ffc300"/><rect x="235.00" y="8.00" width="16.05" height="8.05" fill="#ff0000"/><rect x="3.00" y="16.00" width="8.05" height="8.05" fill="#ffc300"/><rect x="11.00" y="16.00" width="8.05" height="8.05" fill="#98f783"/><rect x="139.00" y="16.00" width="56.05" height="8.05" fill="#ff0000"/><rect x="195.00" y="16.00" width="8.05" height="8.05" fill="#ffc300"/><rect x="203.00" y="16.00" width="8.05" height="8.05" fill="#98f783"/><rect x="211.00" y="16.00" width="8.05" height="8.05" fill="#ff0000"/><rect x="219.00" y="16.00" width="24.05" height="8.05" fill="#98f783"/><rect x="243.00" y="16.00" width="32.05" height="8.05" fill="#00c5ff"/><rect x="3.00" y="24.00" width="8.05" height="8.05" fill="#98f783"/><rect x="11.00" y="24.00" width="8.05" height="8.05" fill="#ffc300"/><rect x="19.00" y="24.00" width="8.05" height="8.05" fill="#ff0000"/><rect x="115.00" y="24.00" width="16.05" height="8.05" fill="#ff0000"/><rect x="131.00" y="24.00" width="24.05" height="8.05" fill="#98f783"/><rect x="155.00" y="24.00" width="64.05" height="8.05" fill="#ff0000"/><rect x="219.00" y="24.00" width="24.05" height="8.05" fill="#98f783"/><rect x="243.00" y="24.00" width="8.05" height="8.05" fill="#00c5ff"/><rect x="251.00" y="24.00" width="8.05" height="8.05" fill="#98f783"/><rect x="259.00" y="24.00" width="8.05" height="8.05" fill="#00c5ff"/><rect x="267.00" y="24.00" width="16.05" height="8.05" fill="#0000f0"/><rect x="283.00" y="24.00" width="8.05" height="8.05" fill="#00c5ff"/><rect x="3.00" y="32.00" width="8.05" height="8.05" fill="#98f783"/><rect x="11.00" y="32.00" width="8.05" height="8.05" fill="#ffc300"/><rect x="19.00" y="32.00" width="32.05" height="8.05" fill="#ff0000"/><rect x="91.00" y="32.00" width="8.05" height="8.05" fill="#ff0000"/><rect x="99.00" y="32.00" width="8.05" height="8.05" fill="#ffc300"/><rect x="107.00" y="32.00" width="16.05" height="8.05" fill="#98f783"/><rect x="123.00" y="32.00" width="8.05" height="8.05" fill="#ffc300"/><rect x="131.00" y="32.00" width="8.05" height="8.05" fill="#98f783"/><rect x="139.00" y="32.00" width="96.05" height="8.05" fill="#ff0000"/><rect x="235.00" y="32.00" width="24.05" height="8.05" fill="#98f783"/><rect x="259.00" y="32.00" width="16.05" height="8.05" fill="#ff0000"/><rect x="275.00" y="32.00" width="24.05" height="8.05" fill="#00c5ff"/><rect x="3.00" y="40.00" width="16.05" height="8.05" fill="#98f783"/><rect x="19.00" y="40.00" width="24.05" height="8.05" fill="#ffc300"/><rect x="43.00" y="40.00" width="24.05" height="8.05" fill="#ff0000"/><rect x="67.00" y="40.00" width="16.05" height="8.05" fill="#ffc300"/><rect x="83.00" y="40.00" width="16.05" height="8.05" fill="#98f783"/><rect x="99.00" y="40.00" width="24.05" height="8.05" fill="#ff0000"/><rect x="123.00" y="40.00" width="8.05" height="8.05" fill="#ffc300"/><rect x="131.00" y="40.00" width="40.05" height="8.05" fill="#ff0000"/><rect x="171.00" y="40.00" width="32.05" height="8.05" fill="#ffc300"/><rect x="203.00" y="40.00" width="40.05" height="8.05" fill="#ff0000"/><rect x="243.00" y="40.00" width="16.05" height="8.05" fill="#98f783"/><rect x="259.00" y="40.00" width="24.05" height="8.05" fill="#ff0000"/><rect x="283.00" y="40.00" width="8.05" height="8.05" fill="#ffc300"/><rect x="291.00" y="40.00" width="8.05" height="8.05" fill="#98f783"/><rect x="11.00" y="48.00" width="16.05" height="8.05" fill="#98f783"/><rect x="27.00" y="48.00" width="16.05" height="8.05" fill="#ff0000"/><rect x="43.00" y="48.00" width="24.05" height="8.05" fill="#ffc300"/><rect x="67.00" y="48.00" width="128.05" height="8.05" fill="#ff0000"/><rect x="195.00" y="48.00" width="8.05" height="8.05" fill="#ffc300"/><rect x="203.00" y="48.00" width="40.05" height="8.05" fill="#98f783"/><rect x="243.00" y="48.00" width="16.05" height="8.05" fill="#00c5ff"/><rect x="259.00" y="48.00" width="8.05" height="8.05" fill="#98f783"/><rect x="267.00" y="48.00" width="8.05" height="8.05" fill="#ff0000"/><rect x="275.00" y="48.00" width="8.05" height="8.05" fill="#98f783"/><rect x="283.00" y="48.00" width="8.05" height="8.05" fill="#ffc300"/><rect x="291.00" y="48.00" width="16.05" height="8.05" fill="#98f783"/><rect x="27.00" y="56.00" width="16.05" height="8.05" fill="#98f783"/><rect x="43.00" y="56.00" width="168.05" height="8.05" fill="#ff0000"/><rect x="211.00" y="56.00" width="24.05" height="8.05" fill="#98f783"/><rect x="235.00" y="56.00" width="16.05" height="8.05" fill="#ff0000"/><rect x="251.00" y="56.00" width="8.05" height="8.05" fill="#00c5ff"/><rect x="259.00" y="56.00" width="8.05" height="8.05" fill="#0000f0"/><rect x="267.00" y="56.00" width="8.05" height="8.05" fill="#00c5ff"/><rect x="275.00" y="56.00" width="8.05" height="8.05" fill="#98f783"/><rect x="283.00" y="56.00" width="8.05" height="8.05" fill="#ff0000"/><rect x="291.00" y="56.00" width="16.05" height="8.05" fill="#98f783"/><rect x="35.00" y="64.00" width="24.05" height="8.05" fill="#98f783"/><rect x="59.00" y="64.00" width="128.05" height="8.05" fill="#ff0000"/><rect x="187.00" y="64.00" width="16.05" height="8.05" fill="#ffc300"/><rect x="203.00" y="64.00" width="24.05" height="8.05" fill="#98f783"/><rect x="227.00" y="64.00" width="32.05" height="8.05" fill="#00c5ff"/><rect x="259.00" y="64.00" width="8.05" height="8.05" fill="#0000f0"/><rect x="267.00" y="64.00" width="16.05" height="8.05" fill="#00c5ff"/><rect x="283.00" y="64.00" width="8.05" height="8.05" fill="#98f783"/><rect x="291.00" y="64.00" width="8.05" height="8.05" fill="#ffc300"/><rect x="299.00" y="64.00" width="8.05" height="8.05" fill="#98f783"/><rect x="35.00" y="72.00" width="16.05" height="8.05" fill="#98f783"/><rect x="51.00" y="72.00" width="8.05" height="8.05" fill="#ff0000"/><rect x="59.00" y="72.00" width="16.05" height="8.05" fill="#98f783"/><rect x="75.00" y="72.00" width="96.05" height="8.05" fill="#ff0000"/><rect x="171.00" y="72.00" width="8.05" height="8.05" fill="#98f783"/><rect x="179.00" y="72.00" width="24.05" height="8.05" fill="#ffc300"/><rect x="203.00" y="72.00" width="8.05" height="8.05" fill="#98f783"/><rect x="211.00" y="72.00" width="16.05" height="8.05" fill="#0000f0"/><rect x="227.00" y="72.00" width="8.05" height="8.05" fill="#00c5ff"/><rect x="235.00" y="72.00" width="8.05" height="8.05" fill="#0000f0"/><rect x="243.00" y="72.00" width="8.05" height="8.05" fill="#00c5ff"/><rect x="251.00" y="72.00" width="24.05" height="8.05" fill="#0000f0"/><rect x="275.00" y="72.00" width="16.05" height="8.05" fill="#00c5ff"/><rect x="291.00" y="72.00" width="8.05" height="8.05" fill="#ff0000"/><rect x="299.00" y="72.00" width="16.05" height="8.05" fill="#00c5ff"/><rect x="35.00" y="80.00" width="16.05" height="8.05" fill="#98f783"/><rect x="51.00" y="80.00" width="8.05" height="8.05" fill="#ff0000"/><rect x="59.00" y="80.00" width="8.05" height="8.05" fill="#98f783"/><rect x="67.00" y="80.00" width="104.05" height="8.05" fill="#ff0000"/><rect x="171.00" y="80.00" width="16.05" height="8.05" fill="#98f783"/><rect x="187.00" y="80.00" width="24.05" height="8.05" fill="#00c5ff"/><rect x="211.00" y="80.00" width="16.05" height="8.05" fill="#0000f0"/><rect x="227.00" y="80.00" width="8.05" height="8.05" fill="#00c5ff"/><rect x="235.00" y="80.00" width="16.05" height="8.05" fill="#0000f0"/><rect x="251.00" y="80.00" width="8.05" height="8.05" fill="#00c5ff"/><rect x="259.00" y="80.00" width="24.05" height="8.05" fill="#0000f0"/><rect x="283.00" y="80.00" width="24.05" height="8.05" fill="#00c5ff"/><rect x="307.00" y="80.00" width="8.05" height="8.05" fill="#98f783"/><rect x="35.00" y="88.00" width="8.05" height="8.05" fill="#00c5ff"/><rect x="43.00" y="88.00" width="16.05" height="8.05" fill="#98f783"/><rect x="59.00" y="88.00" width="8.05" height="8.05" fill="#ffc300"/><rect x="67.00" y="88.00" width="8.05" height="8.05" fill="#98f783"/><rect x="75.00" y="88.00" width="16.05" height="8.05" fill="#ffc300"/><rect x="91.00" y="88.00" width="88.05" height="8.05" fill="#ff0000"/><rect x="179.00" y="88.00" width="16.05" height="8.05" fill="#00c5ff"/><rect x="195.00" y="88.00" width="32.05" height="8.05" fill="#0000f0"/><rect x="227.00" y="88.00" width="8.05" height="8.05" fill="#00c5ff"/><rect x="235.00" y="88.00" width="16.05" height="8.05" fill="#0000f0"/><rect x="251.00" y="88.00" width="8.05" height="8.05" fill="#00c5ff"/><rect x="259.00" y="88.00" width="8.05" height="8.05" fill="#0000f0"/><rect x="267.00" y="88.00" width="40.05" height="8.05" fill="#00c5ff"/><rect x="307.00" y="88.00" width="8.05" height="8.05" fill="#ff0000"/><rect x="35.00" y="96.00" width="8.05" height="8.05" fill="#00c5ff"/><rect x="43.00" y="96.00" width="8.05" height="8.05" fill="#ff0000"/><rect x="51.00" y="96.00" width="8.05" height="8.05" fill="#98f783"/><rect x="59.00" y="96.00" width="24.05" height="8.05" fill="#ffc300"/><rect x="83.00" y="96.00" width="16.05" height="8.05" fill="#ff0000"/><rect x="99.00" y="96.00" width="8.05" height="8.05" fill="#ffc300"/><rect x="107.00" y="96.00" width="8.05" height="8.05" fill="#ff0000"/><rect x="115.00" y="96.00" width="8.05" height="8.05" fill="#98f783"/><rect x="123.00" y="96.00" width="56.05" height="8.05" fill="#ff0000"/><rect x="179.00" y="96.00" width="8.05" height="8.05" fill="#00c5ff"/><rect x="187.00" y="96.00" width="56.05" height="8.05" fill="#0000f0"/><rect x="243.00" y="96.00" width="16.05" height="8.05" fill="#00c5ff"/><rect x="259.00" y="96.00" width="16.05" height="8.05" fill="#0000f0"/><rect x="275.00" y="96.00" width="32.05" height="8.05" fill="#00c5ff"/><rect x="307.00" y="96.00" width="8.05" height="8.05" fill="#ff0000"/><rect x="43.00" y="104.00" width="16.05" height="8.05" fill="#00c5ff"/><rect x="59.00" y="104.00" width="8.05" height="8.05" fill="#ff0000"/><rect x="67.00" y="104.00" width="24.05" height="8.05" fill="#98f783"/><rect x="91.00" y="104.00" width="24.05" height="8.05" fill="#ffc300"/><rect x="115.00" y="104.00" width="32.05" height="8.05" fill="#98f783"/><rect x="147.00" y="104.00" width="8.05" height="8.05" fill="#ffc300"/><rect x="155.00" y="104.00" width="8.05" height="8.05" fill="#98f783"/><rect x="163.00" y="104.00" width="16.05" height="8.05" fill="#00c5ff"/><rect x="179.00" y="104.00" width="56.05" height="8.05" fill="#0000f0"/><rect x="235.00" y="104.00" width="24.05" height="8.05" fill="#00c5ff"/><rect x="259.00" y="104.00" width="8.05" height="8.05" fill="#0000f0"/><rect x="267.00" y="104.00" width="24.05" height="8.05" fill="#00c5ff"/><rect x="291.00" y="104.00" width="8.05" height="8.05" fill="#ff0000"/><rect x="67.00" y="112.00" width="8.05" height="8.05" fill="#00c5ff"/><rect x="75.00" y="112.00" width="8.05" height="8.05" fill="#98f783"/><rect x="83.00" y="112.00" width="8.05" height="8.05" fill="#ff0000"/><rect x="91.00" y="112.00" width="32.05" height="8.05" fill="#ffc300"/><rect x="123.00" y="112.00" width="16.05" height="8.05" fill="#ff0000"/><rect x="139.00" y="112.00" width="8.05" height="8.05" fill="#98f783"/><rect x="147.00" y="112.00" width="8.05" height="8.05" fill="#ffc300"/><rect x="155.00" y="112.00" width="24.05" height="8.05" fill="#98f783"/><rect x="179.00" y="112.00" width="32.05" height="8.05" fill="#00c5ff"/><rect x="211.00" y="112.00" width="8.05" height="8.05" fill="#98f783"/><rect x="219.00" y="112.00" width="16.05" height="8.05" fill="#0000f0"/><rect x="235.00" y="112.00" width="16.05" height="8.05" fill="#00c5ff"/><rect x="251.00" y="112.00" width="24.05" height="8.05" fill="#98f783"/><rect x="275.00" y="112.00" width="16.05" height="8.05" fill="#00c5ff"/><rect x="83.00" y="120.00" width="104.05" height="8.05" fill="#ff0000"/><rect x="187.00" y="120.00" width="8.05" height="8.05" fill="#98f783"/><rect x="195.00" y="120.00" width="16.05" height="8.05" fill="#00c5ff"/><rect x="211.00" y="120.00" width="8.05" height="8.05" fill="#98f783"/><rect x="219.00" y="120.00" width="8.05" height="8.05" fill="#00c5ff"/><rect x="227.00" y="120.00" width="16.05" height="8.05" fill="#0000f0"/><rect x="243.00" y="120.00" width="8.05" height="8.05" fill="#00c5ff"/><rect x="251.00" y="120.00" width="8.05" height="8.05" fill="#98f783"/><rect x="259.00" y="120.00" width="8.05" height="8.05" fill="#ffc300"/><rect x="267.00" y="120.00" width="16.05" height="8.05" fill="#98f783"/><rect x="283.00" y="120.00" width="8.05" height="8.05" fill="#00c5ff"/><rect x="99.00" y="128.00" width="16.05" height="8.05" fill="#98f783"/><rect x="115.00" y="128.00" width="40.05" height="8.05" fill="#ff0000"/><rect x="155.00" y="128.00" width="16.05" height="8.05" fill="#98f783"/><rect x="171.00" y="128.00" width="16.05" height="8.05" fill="#ff0000"/><rect x="187.00" y="128.00" width="8.05" height="8.05" fill="#98f783"/><rect x="195.00" y="128.00" width="24.05" height="8.05" fill="#ff0000"/><rect x="219.00" y="128.00" width="32.05" height="8.05" fill="#00c5ff"/><rect x="251.00" y="128.00" width="8.05" height="8.05" fill="#98f783"/><rect x="259.00" y="128.00" width="32.05" height="8.05" fill="#ff0000"/><rect x="115.00" y="136.00" width="40.05" height="8.05" fill="#98f783"/><rect x="171.00" y="136.00" width="8.05" height="8.05" fill="#98f783"/><rect x="179.00" y="136.00" width="40.05" height="8.05" fill="#ff0000"/><rect x="251.00" y="136.00" width="32.05" height="8.05" fill="#ff0000"/><rect x="179.00" y="144.00" width="24.05" height="8.05" fill="#ff0000"/><rect x="251.00" y="144.00" width="16.05" height="8.05" fill="#ff0000"/><rect x="251.00" y="152.00" width="8.05" height="8.05" fill="#ff0000"/><rect x="164.70" y="17.70" width="4.6" height="4.6" fill="#ffc300"/><rect x="180.70" y="17.70" width="4.6" height="4.6" fill="#ffc300"/><rect x="164.70" y="33.70" width="4.6" height="4.6" fill="#ffc300"/></g><rect x="0" y="0" width="317.7" height="164.8" fill="none" stroke="#404040" stroke-width="1.2" shape-rendering="geometricPrecision"/><line x1="49.4" y1="-2.6" x2="49.4" y2="0" stroke="#333" stroke-width="0.9"/><text x="49.699999999999996" y="-5.6" class="lb" text-anchor="middle">80° E</text><line x1="103.8" y1="-2.6" x2="103.8" y2="0" stroke="#333" stroke-width="0.9"/><text x="104.1" y="-5.6" class="lb" text-anchor="middle">85° E</text><line x1="158.2" y1="-2.6" x2="158.2" y2="0" stroke="#333" stroke-width="0.9"/><text x="158.5" y="-5.6" class="lb" text-anchor="middle">90° E</text><line x1="212.6" y1="-2.6" x2="212.6" y2="0" stroke="#333" stroke-width="0.9"/><text x="212.9" y="-5.6" class="lb" text-anchor="middle">95° E</text><line x1="267.0" y1="-2.6" x2="267.0" y2="0" stroke="#333" stroke-width="0.9"/><text x="267.3" y="-5.6" class="lb" text-anchor="middle">100° E</text><line x1="-2.9" y1="6.5" x2="0" y2="6.5" stroke="#333" stroke-width="0.9"/><text transform="translate(-5.3,6.5) rotate(-90)" x="0" y="0" class="lb" text-anchor="middle">40° N</text><line x1="-2.9" y1="60.8" x2="0" y2="60.8" stroke="#333" stroke-width="0.9"/><text transform="translate(-5.3,60.8) rotate(-90)" x="0" y="0" class="lb" text-anchor="middle">35° N</text><line x1="-2.9" y1="115.3" x2="0" y2="115.3" stroke="#333" stroke-width="0.9"/><text transform="translate(-5.3,115.3) rotate(-90)" x="0" y="0" class="lb" text-anchor="middle">30° N</text><text x="307.7" y="8.4" class="na" text-anchor="middle">N</text><path d="M307.5,10.7 L302,27.2 L307.4,20.8 Z" fill="#000" shape-rendering="geometricPrecision"/><path d="M307.5,10.7 L312.6,27.2 L307.4,20.8 Z" fill="#fff" stroke="#000" stroke-width="0.7" stroke-linejoin="miter" shape-rendering="geometricPrecision"/><path d="M307.5,10.7 L302,27.2 L307.4,20.8 Z" fill="#000" stroke="#000" stroke-width="0.5" shape-rendering="geometricPrecision"/><rect x="6.8" y="155.2" width="98.7" height="3.8" fill="#000"/><rect x="31.9" y="155.9" width="24.4" height="2.4" fill="#fff"/><text x="7.4" y="151.7" class="sb" text-anchor="middle">0</text><text x="31.7" y="151.7" class="sb" text-anchor="middle">250</text><text x="56.3" y="151.7" class="sb" text-anchor="middle">500</text><text x="105.4" y="151.7" class="sb" text-anchor="middle">1,000</text><text x="107.2" y="158.9" class="sb">km</text><text x="314.9" y="159.9" class="yr" text-anchor="end">1990</text></g><g transform="translate(21.5,384.5)"><g clip-path="url(#ol)"><rect x="187.00" y="8.00" width="64.05" height="8.05" fill="#ff0000"/><rect x="3.00" y="16.00" width="16.05" height="8.05" fill="#ff0000"/><rect x="139.00" y="16.00" width="8.05" height="8.05" fill="#ffc300"/><rect x="147.00" y="16.00" width="64.05" height="8.05" fill="#ff0000"/><rect x="211.00" y="16.00" width="8.05" height="8.05" fill="#98f783"/><rect x="219.00" y="16.00" width="32.05" height="8.05" fill="#ff0000"/><rect x="251.00" y="16.00" width="8.05" height="8.05" fill="#98f783"/><rect x="259.00" y="16.00" width="8.05" height="8.05" fill="#ffc300"/><rect x="267.00" y="16.00" width="8.05" height="8.05" fill="#98f783"/><rect x="3.00" y="24.00" width="8.05" height="8.05" fill="#98f783"/><rect x="11.00" y="24.00" width="16.05" height="8.05" fill="#ff0000"/><rect x="115.00" y="24.00" width="8.05" height="8.05" fill="#ffc300"/><rect x="123.00" y="24.00" width="24.05" height="8.05" fill="#98f783"/><rect x="147.00" y="24.00" width="64.05" height="8.05" fill="#ff0000"/><rect x="211.00" y="24.00" width="16.05" height="8.05" fill="#98f783"/><rect x="227.00" y="24.00" width="24.05" height="8.05" fill="#ff0000"/><rect x="251.00" y="24.00" width="8.05" height="8.05" fill="#ffc300"/><rect x="259.00" y="24.00" width="16.05" height="8.05" fill="#ff0000"/><rect x="275.00" y="24.00" width="8.05" height="8.05" fill="#98f783"/><rect x="283.00" y="24.00" width="8.05" height="8.05" fill="#00c5ff"/><rect x="3.00" y="32.00" width="8.05" height="8.05" fill="#98f783"/><rect x="11.00" y="32.00" width="40.05" height="8.05" fill="#ff0000"/><rect x="91.00" y="32.00" width="72.05" height="8.05" fill="#ff0000"/><rect x="163.00" y="32.00" width="8.05" height="8.05" fill="#98f783"/><rect x="171.00" y="32.00" width="8.05" height="8.05" fill="#ffc300"/><rect x="179.00" y="32.00" width="96.05" height="8.05" fill="#ff0000"/><rect x="275.00" y="32.00" width="8.05" height="8.05" fill="#ffc300"/><rect x="283.00" y="32.00" width="16.05" height="8.05" fill="#98f783"/><rect x="3.00" y="40.00" width="24.05" height="8.05" fill="#98f783"/><rect x="27.00" y="40.00" width="8.05" height="8.05" fill="#ffc300"/><rect x="35.00" y="40.00" width="40.05" height="8.05" fill="#ff0000"/><rect x="75.00" y="40.00" width="16.05" height="8.05" fill="#98f783"/><rect x="91.00" y="40.00" width="80.05" height="8.05" fill="#ff0000"/><rect x="171.00" y="40.00" width="8.05" height="8.05" fill="#ffc300"/><rect x="179.00" y="40.00" width="16.05" height="8.05" fill="#98f783"/><rect x="195.00" y="40.00" width="8.05" height="8.05" fill="#ff0000"/><rect x="203.00" y="40.00" width="8.05" height="8.05" fill="#98f783"/><rect x="211.00" y="40.00" width="8.05" height="8.05" fill="#ffc300"/><rect x="219.00" y="40.00" width="8.05" height="8.05" fill="#98f783"/><rect x="227.00" y="40.00" width="24.05" height="8.05" fill="#ff0000"/><rect x="251.00" y="40.00" width="8.05" height="8.05" fill="#98f783"/><rect x="259.00" y="40.00" width="16.05" height="8.05" fill="#ff0000"/><rect x="275.00" y="40.00" width="16.05" height="8.05" fill="#ffc300"/><rect x="291.00" y="40.00" width="8.05" height="8.05" fill="#98f783"/><rect x="3.00" y="48.00" width="24.05" height="8.05" fill="#98f783"/><rect x="27.00" y="48.00" width="16.05" height="8.05" fill="#ff0000"/><rect x="43.00" y="48.00" width="24.05" height="8.05" fill="#98f783"/><rect x="67.00" y="48.00" width="136.05" height="8.05" fill="#ff0000"/><rect x="203.00" y="48.00" width="8.05" height="8.05" fill="#98f783"/><rect x="211.00" y="48.00" width="8.05" height="8.05" fill="#ffc300"/><rect x="219.00" y="48.00" width="8.05" height="8.05" fill="#98f783"/><rect x="227.00" y="48.00" width="16.05" height="8.05" fill="#ffc300"/><rect x="243.00" y="48.00" width="8.05" height="8.05" fill="#ff0000"/><rect x="251.00" y="48.00" width="16.05" height="8.05" fill="#98f783"/><rect x="267.00" y="48.00" width="8.05" height="8.05" fill="#ff0000"/><rect x="275.00" y="48.00" width="24.05" height="8.05" fill="#98f783"/><rect x="27.00" y="56.00" width="32.05" height="8.05" fill="#ff0000"/><rect x="59.00" y="56.00" width="8.05" height="8.05" fill="#00c5ff"/><rect x="67.00" y="56.00" width="144.05" height="8.05" fill="#ff0000"/><rect x="211.00" y="56.00" width="8.05" height="8.05" fill="#ffc300"/><rect x="219.00" y="56.00" width="8.05" height="8.05" fill="#ff0000"/><rect x="227.00" y="56.00" width="8.05" height="8.05" fill="#ffc300"/><rect x="235.00" y="56.00" width="16.05" height="8.05" fill="#ff0000"/><rect x="251.00" y="56.00" width="16.05" height="8.05" fill="#00c5ff"/><rect x="267.00" y="56.00" width="32.05" height="8.05" fill="#98f783"/><rect x="299.00" y="56.00" width="8.05" height="8.05" fill="#ff0000"/><rect x="27.00" y="64.00" width="8.05" height="8.05" fill="#ffc300"/><rect x="35.00" y="64.00" width="176.05" height="8.05" fill="#ff0000"/><rect x="211.00" y="64.00" width="24.05" height="8.05" fill="#ffc300"/><rect x="235.00" y="64.00" width="24.05" height="8.05" fill="#ff0000"/><rect x="259.00" y="64.00" width="48.05" height="8.05" fill="#98f783"/><rect x="35.00" y="72.00" width="128.05" height="8.05" fill="#ff0000"/><rect x="163.00" y="72.00" width="16.05" height="8.05" fill="#98f783"/><rect x="179.00" y="72.00" width="8.05" height="8.05" fill="#ff0000"/><rect x="187.00" y="72.00" width="8.05" height="8.05" fill="#98f783"/><rect x="195.00" y="72.00" width="16.05" height="8.05" fill="#ff0000"/><rect x="211.00" y="72.00" width="8.05" height="8.05" fill="#98f783"/><rect x="219.00" y="72.00" width="32.05" height="8.05" fill="#ff0000"/><rect x="251.00" y="72.00" width="40.05" height="8.05" fill="#98f783"/><rect x="291.00" y="72.00" width="8.05" height="8.05" fill="#ff0000"/><rect x="299.00" y="72.00" width="16.05" height="8.05" fill="#00c5ff"/><rect x="35.00" y="80.00" width="152.05" height="8.05" fill="#ff0000"/><rect x="187.00" y="80.00" width="16.05" height="8.05" fill="#98f783"/><rect x="203.00" y="80.00" width="16.05" height="8.05" fill="#0000f0"/><rect x="219.00" y="80.00" width="8.05" height="8.05" fill="#ff0000"/><rect x="227.00" y="80.00" width="32.05" height="8.05" fill="#00c5ff"/><rect x="259.00" y="80.00" width="56.05" height="8.05" fill="#98f783"/><rect x="35.00" y="88.00" width="152.05" height="8.05" fill="#ff0000"/><rect x="187.00" y="88.00" width="8.05" height="8.05" fill="#98f783"/><rect x="195.00" y="88.00" width="8.05" height="8.05" fill="#00c5ff"/><rect x="203.00" y="88.00" width="16.05" height="8.05" fill="#0000f0"/><rect x="219.00" y="88.00" width="8.05" height="8.05" fill="#00c5ff"/><rect x="227.00" y="88.00" width="8.05" height="8.05" fill="#ff0000"/><rect x="235.00" y="88.00" width="8.05" height="8.05" fill="#98f783"/><rect x="243.00" y="88.00" width="8.05" height="8.05" fill="#00c5ff"/><rect x="251.00" y="88.00" width="8.05" height="8.05" fill="#ff0000"/><rect x="259.00" y="88.00" width="8.05" height="8.05" fill="#98f783"/><rect x="267.00" y="88.00" width="8.05" height="8.05" fill="#ffc300"/><rect x="275.00" y="88.00" width="8.05" height="8.05" fill="#98f783"/><rect x="283.00" y="88.00" width="8.05" height="8.05" fill="#ff0000"/><rect x="291.00" y="88.00" width="16.05" height="8.05" fill="#98f783"/><rect x="307.00" y="88.00" width="8.05" height="8.05" fill="#ffc300"/><rect x="35.00" y="96.00" width="24.05" height="8.05" fill="#ff0000"/><rect x="59.00" y="96.00" width="16.05" height="8.05" fill="#ffc300"/><rect x="75.00" y="96.00" width="112.05" height="8.05" fill="#ff0000"/><rect x="187.00" y="96.00" width="16.05" height="8.05" fill="#98f783"/><rect x="203.00" y="96.00" width="16.05" height="8.05" fill="#00c5ff"/><rect x="219.00" y="96.00" width="8.05" height="8.05" fill="#ffc300"/><rect x="227.00" y="96.00" width="8.05" height="8.05" fill="#ff0000"/><rect x="235.00" y="96.00" width="8.05" height="8.05" fill="#98f783"/><rect x="243.00" y="96.00" width="8.05" height="8.05" fill="#ffc300"/><rect x="251.00" y="96.00" width="16.05" height="8.05" fill="#ff0000"/><rect x="267.00" y="96.00" width="8.05" height="8.05" fill="#ffc300"/><rect x="275.00" y="96.00" width="8.05" height="8.05" fill="#98f783"/><rect x="283.00" y="96.00" width="8.05" height="8.05" fill="#ffc300"/><rect x="291.00" y="96.00" width="16.05" height="8.05" fill="#98f783"/><rect x="307.00" y="96.00" width="8.05" height="8.05" fill="#ff0000"/><rect x="43.00" y="104.00" width="16.05" height="8.05" fill="#98f783"/><rect x="59.00" y="104.00" width="16.05" height="8.05" fill="#ff0000"/><rect x="75.00" y="104.00" width="8.05" height="8.05" fill="#98f783"/><rect x="83.00" y="104.00" width="40.05" height="8.05" fill="#ff0000"/><rect x="123.00" y="104.00" width="16.05" height="8.05" fill="#98f783"/><rect x="139.00" y="104.00" width="8.05" height="8.05" fill="#ff0000"/><rect x="147.00" y="104.00" width="16.05" height="8.05" fill="#98f783"/><rect x="163.00" y="104.00" width="24.05" height="8.05" fill="#ff0000"/><rect x="187.00" y="104.00" width="8.05" height="8.05" fill="#98f783"/><rect x="195.00" y="104.00" width="24.05" height="8.05" fill="#00c5ff"/><rect x="219.00" y="104.00" width="8.05" height="8.05" fill="#0000f0"/><rect x="227.00" y="104.00" width="16.05" height="8.05" fill="#98f783"/><rect x="243.00" y="104.00" width="16.05" height="8.05" fill="#ff0000"/><rect x="259.00" y="104.00" width="8.05" height="8.05" fill="#00c5ff"/><rect x="267.00" y="104.00" width="16.05" height="8.05" fill="#ffc300"/><rect x="283.00" y="104.00" width="8.05" height="8.05" fill="#ff0000"/><rect x="291.00" y="104.00" width="8.05" height="8.05" fill="#ffc300"/><rect x="67.00" y="112.00" width="16.05" height="8.05" fill="#98f783"/><rect x="83.00" y="112.00" width="16.05" height="8.05" fill="#ff0000"/><rect x="99.00" y="112.00" width="16.05" height="8.05" fill="#98f783"/><rect x="115.00" y="112.00" width="8.05" height="8.05" fill="#ffc300"/><rect x="123.00" y="112.00" width="8.05" height="8.05" fill="#ff0000"/><rect x="131.00" y="112.00" width="32.05" height="8.05" fill="#98f783"/><rect x="163.00" y="112.00" width="24.05" height="8.05" fill="#ff0000"/><rect x="187.00" y="112.00" width="24.05" height="8.05" fill="#98f783"/><rect x="211.00" y="112.00" width="16.05" height="8.05" fill="#00c5ff"/><rect x="227.00" y="112.00" width="8.05" height="8.05" fill="#0000f0"/><rect x="235.00" y="112.00" width="16.05" height="8.05" fill="#98f783"/><rect x="251.00" y="112.00" width="8.05" height="8.05" fill="#ff0000"/><rect x="259.00" y="112.00" width="8.05" height="8.05" fill="#00c5ff"/><rect x="267.00" y="112.00" width="8.05" height="8.05" fill="#98f783"/><rect x="275.00" y="112.00" width="8.05" height="8.05" fill="#ff0000"/><rect x="283.00" y="112.00" width="8.05" height="8.05" fill="#98f783"/><rect x="83.00" y="120.00" width="8.05" height="8.05" fill="#ffc300"/><rect x="91.00" y="120.00" width="88.05" height="8.05" fill="#ff0000"/><rect x="179.00" y="120.00" width="40.05" height="8.05" fill="#98f783"/><rect x="219.00" y="120.00" width="8.05" height="8.05" fill="#00c5ff"/><rect x="227.00" y="120.00" width="8.05" height="8.05" fill="#0000f0"/><rect x="235.00" y="120.00" width="8.05" height="8.05" fill="#00c5ff"/><rect x="243.00" y="120.00" width="8.05" height="8.05" fill="#98f783"/><rect x="251.00" y="120.00" width="16.05" height="8.05" fill="#ffc300"/><rect x="267.00" y="120.00" width="24.05" height="8.05" fill="#98f783"/><rect x="99.00" y="128.00" width="8.05" height="8.05" fill="#98f783"/><rect x="107.00" y="128.00" width="8.05" height="8.05" fill="#00c5ff"/><rect x="115.00" y="128.00" width="8.05" height="8.05" fill="#98f783"/><rect x="123.00" y="128.00" width="24.05" height="8.05" fill="#ff0000"/><rect x="147.00" y="128.00" width="16.05" height="8.05" fill="#98f783"/><rect x="163.00" y="128.00" width="16.05" height="8.05" fill="#ff0000"/><rect x="179.00" y="128.00" width="8.05" height="8.05" fill="#98f783"/><rect x="187.00" y="128.00" width="32.05" height="8.05" fill="#ff0000"/><rect x="219.00" y="128.00" width="24.05" height="8.05" fill="#00c5ff"/><rect x="243.00" y="128.00" width="24.05" height="8.05" fill="#98f783"/><rect x="267.00" y="128.00" width="24.05" height="8.05" fill="#ff0000"/><rect x="123.00" y="136.00" width="8.05" height="8.05" fill="#ff0000"/><rect x="147.00" y="136.00" width="8.05" height="8.05" fill="#ff0000"/><rect x="171.00" y="136.00" width="8.05" height="8.05" fill="#00c5ff"/><rect x="179.00" y="136.00" width="40.05" height="8.05" fill="#ff0000"/><rect x="243.00" y="136.00" width="8.05" height="8.05" fill="#98f783"/><rect x="251.00" y="136.00" width="32.05" height="8.05" fill="#ff0000"/><rect x="179.00" y="144.00" width="24.05" height="8.05" fill="#ff0000"/><rect x="251.00" y="144.00" width="16.05" height="8.05" fill="#ff0000"/><rect x="251.00" y="152.00" width="8.05" height="8.05" fill="#ff0000"/><rect x="228.70" y="17.70" width="4.6" height="4.6" fill="#98f783"/><rect x="108.70" y="33.70" width="4.6" height="4.6" fill="#ffc300"/><rect x="4.70" y="41.70" width="4.6" height="4.6" fill="#00c5ff"/><rect x="100.70" y="41.70" width="4.6" height="4.6" fill="#98f783"/><rect x="276.70" y="65.70" width="4.6" height="4.6" fill="#00c5ff"/><rect x="116.70" y="81.70" width="4.6" height="4.6" fill="#98f783"/><rect x="36.70" y="89.70" width="4.6" height="4.6" fill="#ffc300"/><rect x="92.70" y="105.70" width="4.6" height="4.6" fill="#ffc300"/><rect x="172.70" y="105.70" width="4.6" height="4.6" fill="#98f783"/><rect x="132.70" y="129.70" width="4.6" height="4.6" fill="#00c5ff"/></g><rect x="0" y="0" width="317.7" height="164.8" fill="none" stroke="#404040" stroke-width="1.2" shape-rendering="geometricPrecision"/><line x1="49.4" y1="-2.6" x2="49.4" y2="0" stroke="#333" stroke-width="0.9"/><text x="49.699999999999996" y="-5.6" class="lb" text-anchor="middle">80° E</text><line x1="103.8" y1="-2.6" x2="103.8" y2="0" stroke="#333" stroke-width="0.9"/><text x="104.1" y="-5.6" class="lb" text-anchor="middle">85° E</text><line x1="158.2" y1="-2.6" x2="158.2" y2="0" stroke="#333" stroke-width="0.9"/><text x="158.5" y="-5.6" class="lb" text-anchor="middle">90° E</text><line x1="212.6" y1="-2.6" x2="212.6" y2="0" stroke="#333" stroke-width="0.9"/><text x="212.9" y="-5.6" class="lb" text-anchor="middle">95° E</text><line x1="267.0" y1="-2.6" x2="267.0" y2="0" stroke="#333" stroke-width="0.9"/><text x="267.3" y="-5.6" class="lb" text-anchor="middle">100° E</text><line x1="-2.9" y1="6.5" x2="0" y2="6.5" stroke="#333" stroke-width="0.9"/><text transform="translate(-5.3,6.5) rotate(-90)" x="0" y="0" class="lb" text-anchor="middle">40° N</text><line x1="-2.9" y1="60.8" x2="0" y2="60.8" stroke="#333" stroke-width="0.9"/><text transform="translate(-5.3,60.8) rotate(-90)" x="0" y="0" class="lb" text-anchor="middle">35° N</text><line x1="-2.9" y1="115.3" x2="0" y2="115.3" stroke="#333" stroke-width="0.9"/><text transform="translate(-5.3,115.3) rotate(-90)" x="0" y="0" class="lb" text-anchor="middle">30° N</text><text x="307.7" y="8.4" class="na" text-anchor="middle">N</text><path d="M307.5,10.7 L302,27.2 L307.4,20.8 Z" fill="#000" shape-rendering="geometricPrecision"/><path d="M307.5,10.7 L312.6,27.2 L307.4,20.8 Z" fill="#fff" stroke="#000" stroke-width="0.7" stroke-linejoin="miter" shape-rendering="geometricPrecision"/><path d="M307.5,10.7 L302,27.2 L307.4,20.8 Z" fill="#000" stroke="#000" stroke-width="0.5" shape-rendering="geometricPrecision"/><rect x="6.8" y="155.2" width="98.7" height="3.8" fill="#000"/><rect x="31.9" y="155.9" width="24.4" height="2.4" fill="#fff"/><text x="7.4" y="151.7" class="sb" text-anchor="middle">0</text><text x="31.7" y="151.7" class="sb" text-anchor="middle">250</text><text x="56.3" y="151.7" class="sb" text-anchor="middle">500</text><text x="105.4" y="151.7" class="sb" text-anchor="middle">1,000</text><text x="107.2" y="158.9" class="sb">km</text><text x="314.9" y="159.9" class="yr" text-anchor="end">1985</text></g><g transform="translate(359.4,384.5)"><g clip-path="url(#ol)"><rect x="187.00" y="8.00" width="8.05" height="8.05" fill="#ff0000"/><rect x="195.00" y="8.00" width="8.05" height="8.05" fill="#ffc300"/><rect x="203.00" y="8.00" width="40.05" height="8.05" fill="#98f783"/><rect x="243.00" y="8.00" width="8.05" height="8.05" fill="#ffc300"/><rect x="3.00" y="16.00" width="16.05" height="8.05" fill="#ffc300"/><rect x="139.00" y="16.00" width="8.05" height="8.05" fill="#ffc300"/><rect x="147.00" y="16.00" width="16.05" height="8.05" fill="#98f783"/><rect x="163.00" y="16.00" width="16.05" height="8.05" fill="#ffc300"/><rect x="179.00" y="16.00" width="32.05" height="8.05" fill="#ff0000"/><rect x="211.00" y="16.00" width="64.05" height="8.05" fill="#98f783"/><rect x="3.00" y="24.00" width="8.05" height="8.05" fill="#ffc300"/><rect x="11.00" y="24.00" width="16.05" height="8.05" fill="#ff0000"/><rect x="115.00" y="24.00" width="8.05" height="8.05" fill="#ff0000"/><rect x="123.00" y="24.00" width="24.05" height="8.05" fill="#98f783"/><rect x="147.00" y="24.00" width="16.05" height="8.05" fill="#ff0000"/><rect x="163.00" y="24.00" width="8.05" height="8.05" fill="#98f783"/><rect x="171.00" y="24.00" width="48.05" height="8.05" fill="#ff0000"/><rect x="219.00" y="24.00" width="16.05" height="8.05" fill="#98f783"/><rect x="235.00" y="24.00" width="8.05" height="8.05" fill="#00c5ff"/><rect x="243.00" y="24.00" width="40.05" height="8.05" fill="#98f783"/><rect x="283.00" y="24.00" width="8.05" height="8.05" fill="#00c5ff"/><rect x="3.00" y="32.00" width="16.05" height="8.05" fill="#ffc300"/><rect x="19.00" y="32.00" width="8.05" height="8.05" fill="#98f783"/><rect x="27.00" y="32.00" width="8.05" height="8.05" fill="#ff0000"/><rect x="35.00" y="32.00" width="16.05" height="8.05" fill="#98f783"/><rect x="91.00" y="32.00" width="24.05" height="8.05" fill="#ff0000"/><rect x="115.00" y="32.00" width="8.05" height="8.05" fill="#98f783"/><rect x="123.00" y="32.00" width="48.05" height="8.05" fill="#ff0000"/><rect x="171.00" y="32.00" width="16.05" height="8.05" fill="#98f783"/><rect x="187.00" y="32.00" width="56.05" height="8.05" fill="#ff0000"/><rect x="243.00" y="32.00" width="8.05" height="8.05" fill="#98f783"/><rect x="251.00" y="32.00" width="16.05" height="8.05" fill="#ffc300"/><rect x="267.00" y="32.00" width="8.05" height="8.05" fill="#ff0000"/><rect x="275.00" y="32.00" width="24.05" height="8.05" fill="#98f783"/><rect x="3.00" y="40.00" width="24.05" height="8.05" fill="#98f783"/><rect x="27.00" y="40.00" width="32.05" height="8.05" fill="#ffc300"/><rect x="59.00" y="40.00" width="32.05" height="8.05" fill="#ff0000"/><rect x="91.00" y="40.00" width="32.05" height="8.05" fill="#98f783"/><rect x="123.00" y="40.00" width="8.05" height="8.05" fill="#ff0000"/><rect x="131.00" y="40.00" width="16.05" height="8.05" fill="#98f783"/><rect x="147.00" y="40.00" width="16.05" height="8.05" fill="#ff0000"/><rect x="163.00" y="40.00" width="64.05" height="8.05" fill="#98f783"/><rect x="227.00" y="40.00" width="16.05" height="8.05" fill="#ff0000"/><rect x="243.00" y="40.00" width="16.05" height="8.05" fill="#98f783"/><rect x="259.00" y="40.00" width="8.05" height="8.05" fill="#ffc300"/><rect x="267.00" y="40.00" width="8.05" height="8.05" fill="#ff0000"/><rect x="275.00" y="40.00" width="8.05" height="8.05" fill="#ffc300"/><rect x="283.00" y="40.00" width="16.05" height="8.05" fill="#98f783"/><rect x="11.00" y="48.00" width="40.05" height="8.05" fill="#98f783"/><rect x="51.00" y="48.00" width="8.05" height="8.05" fill="#ffc300"/><rect x="59.00" y="48.00" width="88.05" height="8.05" fill="#98f783"/><rect x="147.00" y="48.00" width="40.05" height="8.05" fill="#ff0000"/><rect x="187.00" y="48.00" width="8.05" height="8.05" fill="#98f783"/><rect x="195.00" y="48.00" width="8.05" height="8.05" fill="#ff0000"/><rect x="203.00" y="48.00" width="64.05" height="8.05" fill="#98f783"/><rect x="267.00" y="48.00" width="16.05" height="8.05" fill="#ff0000"/><rect x="283.00" y="48.00" width="8.05" height="8.05" fill="#98f783"/><rect x="291.00" y="48.00" width="8.05" height="8.05" fill="#ff0000"/><rect x="27.00" y="56.00" width="24.05" height="8.05" fill="#98f783"/><rect x="51.00" y="56.00" width="16.05" height="8.05" fill="#ff0000"/><rect x="67.00" y="56.00" width="72.05" height="8.05" fill="#98f783"/><rect x="139.00" y="56.00" width="16.05" height="8.05" fill="#ff0000"/><rect x="155.00" y="56.00" width="8.05" height="8.05" fill="#98f783"/><rect x="163.00" y="56.00" width="40.05" height="8.05" fill="#ff0000"/><rect x="203.00" y="56.00" width="8.05" height="8.05" fill="#ffc300"/><rect x="211.00" y="56.00" width="24.05" height="8.05" fill="#98f783"/><rect x="235.00" y="56.00" width="16.05" height="8.05" fill="#ff0000"/><rect x="251.00" y="56.00" width="8.05" height="8.05" fill="#ffc300"/><rect x="259.00" y="56.00" width="8.05" height="8.05" fill="#98f783"/><rect x="267.00" y="56.00" width="40.05" height="8.05" fill="#ff0000"/><rect x="27.00" y="64.00" width="8.05" height="8.05" fill="#00c5ff"/><rect x="35.00" y="64.00" width="80.05" height="8.05" fill="#98f783"/><rect x="115.00" y="64.00" width="16.05" height="8.05" fill="#ff0000"/><rect x="131.00" y="64.00" width="16.05" height="8.05" fill="#98f783"/><rect x="147.00" y="64.00" width="8.05" height="8.05" fill="#ff0000"/><rect x="155.00" y="64.00" width="8.05" height="8.05" fill="#00c5ff"/><rect x="163.00" y="64.00" width="24.05" height="8.05" fill="#ff0000"/><rect x="187.00" y="64.00" width="16.05" height="8.05" fill="#ffc300"/><rect x="203.00" y="64.00" width="64.05" height="8.05" fill="#98f783"/><rect x="267.00" y="64.00" width="40.05" height="8.05" fill="#ff0000"/><rect x="35.00" y="72.00" width="120.05" height="8.05" fill="#98f783"/><rect x="155.00" y="72.00" width="8.05" height="8.05" fill="#ff0000"/><rect x="163.00" y="72.00" width="48.05" height="8.05" fill="#98f783"/><rect x="211.00" y="72.00" width="16.05" height="8.05" fill="#00c5ff"/><rect x="227.00" y="72.00" width="56.05" height="8.05" fill="#98f783"/><rect x="283.00" y="72.00" width="32.05" height="8.05" fill="#ff0000"/><rect x="35.00" y="80.00" width="160.05" height="8.05" fill="#98f783"/><rect x="195.00" y="80.00" width="8.05" height="8.05" fill="#00c5ff"/><rect x="203.00" y="80.00" width="32.05" height="8.05" fill="#98f783"/><rect x="235.00" y="80.00" width="16.05" height="8.05" fill="#00c5ff"/><rect x="251.00" y="80.00" width="24.05" height="8.05" fill="#98f783"/><rect x="275.00" y="80.00" width="48.05" height="8.05" fill="#ff0000"/><rect x="35.00" y="88.00" width="48.05" height="8.05" fill="#98f783"/><rect x="83.00" y="88.00" width="24.05" height="8.05" fill="#ff0000"/><rect x="107.00" y="88.00" width="16.05" height="8.05" fill="#98f783"/><rect x="123.00" y="88.00" width="48.05" height="8.05" fill="#ff0000"/><rect x="171.00" y="88.00" width="24.05" height="8.05" fill="#98f783"/><rect x="195.00" y="88.00" width="8.05" height="8.05" fill="#00c5ff"/><rect x="203.00" y="88.00" width="8.05" height="8.05" fill="#0000f0"/><rect x="211.00" y="88.00" width="16.05" height="8.05" fill="#00c5ff"/><rect x="227.00" y="88.00" width="48.05" height="8.05" fill="#98f783"/><rect x="275.00" y="88.00" width="40.05" height="8.05" fill="#ff0000"/><rect x="35.00" y="96.00" width="48.05" height="8.05" fill="#98f783"/><rect x="83.00" y="96.00" width="96.05" height="8.05" fill="#ff0000"/><rect x="179.00" y="96.00" width="16.05" height="8.05" fill="#98f783"/><rect x="195.00" y="96.00" width="40.05" height="8.05" fill="#00c5ff"/><rect x="235.00" y="96.00" width="8.05" height="8.05" fill="#98f783"/><rect x="243.00" y="96.00" width="8.05" height="8.05" fill="#00c5ff"/><rect x="251.00" y="96.00" width="8.05" height="8.05" fill="#98f783"/><rect x="259.00" y="96.00" width="16.05" height="8.05" fill="#00c5ff"/><rect x="275.00" y="96.00" width="8.05" height="8.05" fill="#ff0000"/><rect x="283.00" y="96.00" width="16.05" height="8.05" fill="#00c5ff"/><rect x="299.00" y="96.00" width="16.05" height="8.05" fill="#ff0000"/><rect x="35.00" y="104.00" width="32.05" height="8.05" fill="#98f783"/><rect x="67.00" y="104.00" width="8.05" height="8.05" fill="#ff0000"/><rect x="75.00" y="104.00" width="8.05" height="8.05" fill="#00c5ff"/><rect x="83.00" y="104.00" width="8.05" height="8.05" fill="#98f783"/><rect x="91.00" y="104.00" width="40.05" height="8.05" fill="#ff0000"/><rect x="131.00" y="104.00" width="48.05" height="8.05" fill="#98f783"/><rect x="179.00" y="104.00" width="40.05" height="8.05" fill="#00c5ff"/><rect x="219.00" y="104.00" width="16.05" height="8.05" fill="#0000f0"/><rect x="235.00" y="104.00" width="16.05" height="8.05" fill="#00c5ff"/><rect x="251.00" y="104.00" width="8.05" height="8.05" fill="#ff0000"/><rect x="259.00" y="104.00" width="16.05" height="8.05" fill="#0000f0"/><rect x="275.00" y="104.00" width="8.05" height="8.05" fill="#ff0000"/><rect x="283.00" y="104.00" width="8.05" height="8.05" fill="#00c5ff"/><rect x="291.00" y="104.00" width="8.05" height="8.05" fill="#ff0000"/><rect x="67.00" y="112.00" width="16.05" height="8.05" fill="#00c5ff"/><rect x="83.00" y="112.00" width="8.05" height="8.05" fill="#98f783"/><rect x="91.00" y="112.00" width="8.05" height="8.05" fill="#ff0000"/><rect x="99.00" y="112.00" width="64.05" height="8.05" fill="#98f783"/><rect x="163.00" y="112.00" width="8.05" height="8.05" fill="#ffc300"/><rect x="171.00" y="112.00" width="16.05" height="8.05" fill="#98f783"/><rect x="187.00" y="112.00" width="32.05" height="8.05" fill="#00c5ff"/><rect x="219.00" y="112.00" width="16.05" height="8.05" fill="#0000f0"/><rect x="235.00" y="112.00" width="16.05" height="8.05" fill="#00c5ff"/><rect x="251.00" y="112.00" width="8.05" height="8.05" fill="#ff0000"/><rect x="259.00" y="112.00" width="8.05" height="8.05" fill="#98f783"/><rect x="267.00" y="112.00" width="24.05" height="8.05" fill="#00c5ff"/><rect x="83.00" y="120.00" width="8.05" height="8.05" fill="#98f783"/><rect x="91.00" y="120.00" width="8.05" height="8.05" fill="#ff0000"/><rect x="99.00" y="120.00" width="24.05" height="8.05" fill="#98f783"/><rect x="123.00" y="120.00" width="32.05" height="8.05" fill="#ffc300"/><rect x="155.00" y="120.00" width="8.05" height="8.05" fill="#98f783"/><rect x="163.00" y="120.00" width="8.05" height="8.05" fill="#ff0000"/><rect x="171.00" y="120.00" width="16.05" height="8.05" fill="#ffc300"/><rect x="187.00" y="120.00" width="8.05" height="8.05" fill="#98f783"/><rect x="195.00" y="120.00" width="8.05" height="8.05" fill="#00c5ff"/><rect x="203.00" y="120.00" width="16.05" height="8.05" fill="#ff0000"/><rect x="219.00" y="120.00" width="24.05" height="8.05" fill="#0000f0"/><rect x="243.00" y="120.00" width="8.05" height="8.05" fill="#00c5ff"/><rect x="251.00" y="120.00" width="16.05" height="8.05" fill="#ff0000"/><rect x="267.00" y="120.00" width="8.05" height="8.05" fill="#98f783"/><rect x="275.00" y="120.00" width="8.05" height="8.05" fill="#ff0000"/><rect x="283.00" y="120.00" width="8.05" height="8.05" fill="#00c5ff"/><rect x="99.00" y="128.00" width="24.05" height="8.05" fill="#98f783"/><rect x="123.00" y="128.00" width="8.05" height="8.05" fill="#ffc300"/><rect x="131.00" y="128.00" width="8.05" height="8.05" fill="#98f783"/><rect x="139.00" y="128.00" width="16.05" height="8.05" fill="#ffc300"/><rect x="155.00" y="128.00" width="16.05" height="8.05" fill="#98f783"/><rect x="171.00" y="128.00" width="24.05" height="8.05" fill="#00c5ff"/><rect x="195.00" y="128.00" width="24.05" height="8.05" fill="#ff0000"/><rect x="219.00" y="128.00" width="32.05" height="8.05" fill="#00c5ff"/><rect x="251.00" y="128.00" width="40.05" height="8.05" fill="#ff0000"/><rect x="115.00" y="136.00" width="40.05" height="8.05" fill="#98f783"/><rect x="171.00" y="136.00" width="8.05" height="8.05" fill="#00c5ff"/><rect x="179.00" y="136.00" width="40.05" height="8.05" fill="#ff0000"/><rect x="227.00" y="136.00" width="8.05" height="8.05" fill="#ff0000"/><rect x="251.00" y="136.00" width="32.05" height="8.05" fill="#ff0000"/><rect x="179.00" y="144.00" width="24.05" height="8.05" fill="#ff0000"/><rect x="251.00" y="144.00" width="16.05" height="8.05" fill="#ff0000"/><rect x="251.00" y="152.00" width="8.05" height="8.05" fill="#ff0000"/><rect x="20.70" y="49.70" width="4.6" height="4.6" fill="#00c5ff"/><rect x="100.70" y="73.70" width="4.6" height="4.6" fill="#ff0000"/><rect x="252.70" y="73.70" width="4.6" height="4.6" fill="#00c5ff"/><rect x="308.70" y="81.70" width="4.6" height="4.6" fill="#98f783"/><rect x="156.70" y="97.70" width="4.6" height="4.6" fill="#98f783"/><rect x="52.70" y="105.70" width="4.6" height="4.6" fill="#00c5ff"/><rect x="156.70" y="105.70" width="4.6" height="4.6" fill="#ff0000"/></g><rect x="0" y="0" width="317.7" height="164.8" fill="none" stroke="#404040" stroke-width="1.2" shape-rendering="geometricPrecision"/><line x1="49.4" y1="-2.6" x2="49.4" y2="0" stroke="#333" stroke-width="0.9"/><text x="49.699999999999996" y="-5.6" class="lb" text-anchor="middle">80° E</text><line x1="103.8" y1="-2.6" x2="103.8" y2="0" stroke="#333" stroke-width="0.9"/><text x="104.1" y="-5.6" class="lb" text-anchor="middle">85° E</text><line x1="158.2" y1="-2.6" x2="158.2" y2="0" stroke="#333" stroke-width="0.9"/><text x="158.5" y="-5.6" class="lb" text-anchor="middle">90° E</text><line x1="212.6" y1="-2.6" x2="212.6" y2="0" stroke="#333" stroke-width="0.9"/><text x="212.9" y="-5.6" class="lb" text-anchor="middle">95° E</text><line x1="267.0" y1="-2.6" x2="267.0" y2="0" stroke="#333" stroke-width="0.9"/><text x="267.3" y="-5.6" class="lb" text-anchor="middle">100° E</text><line x1="-2.9" y1="6.5" x2="0" y2="6.5" stroke="#333" stroke-width="0.9"/><text transform="translate(-5.3,6.5) rotate(-90)" x="0" y="0" class="lb" text-anchor="middle">40° N</text><line x1="-2.9" y1="60.8" x2="0" y2="60.8" stroke="#333" stroke-width="0.9"/><text transform="translate(-5.3,60.8) rotate(-90)" x="0" y="0" class="lb" text-anchor="middle">35° N</text><line x1="-2.9" y1="115.3" x2="0" y2="115.3" stroke="#333" stroke-width="0.9"/><text transform="translate(-5.3,115.3) rotate(-90)" x="0" y="0" class="lb" text-anchor="middle">30° N</text><text x="307.7" y="8.4" class="na" text-anchor="middle">N</text><path d="M307.5,10.7 L302,27.2 L307.4,20.8 Z" fill="#000" shape-rendering="geometricPrecision"/><path d="M307.5,10.7 L312.6,27.2 L307.4,20.8 Z" fill="#fff" stroke="#000" stroke-width="0.7" stroke-linejoin="miter" shape-rendering="geometricPrecision"/><path d="M307.5,10.7 L302,27.2 L307.4,20.8 Z" fill="#000" stroke="#000" stroke-width="0.5" shape-rendering="geometricPrecision"/><rect x="6.8" y="155.2" width="98.7" height="3.8" fill="#000"/><rect x="31.9" y="155.9" width="24.4" height="2.4" fill="#fff"/><text x="7.4" y="151.7" class="sb" text-anchor="middle">0</text><text x="31.7" y="151.7" class="sb" text-anchor="middle">250</text><text x="56.3" y="151.7" class="sb" text-anchor="middle">500</text><text x="105.4" y="151.7" class="sb" text-anchor="middle">1,000</text><text x="107.2" y="158.9" class="sb">km</text><text x="314.9" y="159.9" class="yr" text-anchor="end">1991</text></g><g transform="translate(697.0,384.5)"><g clip-path="url(#ol)"><rect x="187.00" y="8.00" width="32.05" height="8.05" fill="#ff0000"/><rect x="219.00" y="8.00" width="8.05" height="8.05" fill="#98f783"/><rect x="227.00" y="8.00" width="24.05" height="8.05" fill="#ff0000"/><rect x="3.00" y="16.00" width="16.05" height="8.05" fill="#ff0000"/><rect x="139.00" y="16.00" width="8.05" height="8.05" fill="#ff0000"/><rect x="147.00" y="16.00" width="24.05" height="8.05" fill="#ffc300"/><rect x="171.00" y="16.00" width="48.05" height="8.05" fill="#ff0000"/><rect x="219.00" y="16.00" width="16.05" height="8.05" fill="#98f783"/><rect x="235.00" y="16.00" width="16.05" height="8.05" fill="#ff0000"/><rect x="251.00" y="16.00" width="8.05" height="8.05" fill="#ffc300"/><rect x="259.00" y="16.00" width="16.05" height="8.05" fill="#98f783"/><rect x="3.00" y="24.00" width="24.05" height="8.05" fill="#ff0000"/><rect x="115.00" y="24.00" width="56.05" height="8.05" fill="#ff0000"/><rect x="171.00" y="24.00" width="8.05" height="8.05" fill="#ffc300"/><rect x="179.00" y="24.00" width="40.05" height="8.05" fill="#ff0000"/><rect x="219.00" y="24.00" width="24.05" height="8.05" fill="#98f783"/><rect x="243.00" y="24.00" width="16.05" height="8.05" fill="#ff0000"/><rect x="259.00" y="24.00" width="8.05" height="8.05" fill="#ffc300"/><rect x="267.00" y="24.00" width="24.05" height="8.05" fill="#98f783"/><rect x="3.00" y="32.00" width="48.05" height="8.05" fill="#ff0000"/><rect x="91.00" y="32.00" width="24.05" height="8.05" fill="#ff0000"/><rect x="115.00" y="32.00" width="16.05" height="8.05" fill="#ffc300"/><rect x="131.00" y="32.00" width="32.05" height="8.05" fill="#ff0000"/><rect x="163.00" y="32.00" width="16.05" height="8.05" fill="#ffc300"/><rect x="179.00" y="32.00" width="112.05" height="8.05" fill="#ff0000"/><rect x="291.00" y="32.00" width="8.05" height="8.05" fill="#98f783"/><rect x="3.00" y="40.00" width="16.05" height="8.05" fill="#ffc300"/><rect x="19.00" y="40.00" width="16.05" height="8.05" fill="#98f783"/><rect x="35.00" y="40.00" width="8.05" height="8.05" fill="#ffc300"/><rect x="43.00" y="40.00" width="24.05" height="8.05" fill="#ff0000"/><rect x="67.00" y="40.00" width="16.05" height="8.05" fill="#ffc300"/><rect x="83.00" y="40.00" width="8.05" height="8.05" fill="#98f783"/><rect x="91.00" y="40.00" width="80.05" height="8.05" fill="#ff0000"/><rect x="171.00" y="40.00" width="8.05" height="8.05" fill="#ffc300"/><rect x="179.00" y="40.00" width="120.05" height="8.05" fill="#ff0000"/><rect x="11.00" y="48.00" width="64.05" height="8.05" fill="#98f783"/><rect x="75.00" y="48.00" width="96.05" height="8.05" fill="#ff0000"/><rect x="171.00" y="48.00" width="8.05" height="8.05" fill="#98f783"/><rect x="179.00" y="48.00" width="8.05" height="8.05" fill="#ff0000"/><rect x="187.00" y="48.00" width="32.05" height="8.05" fill="#ffc300"/><rect x="219.00" y="48.00" width="8.05" height="8.05" fill="#ff0000"/><rect x="227.00" y="48.00" width="24.05" height="8.05" fill="#ffc300"/><rect x="251.00" y="48.00" width="56.05" height="8.05" fill="#ff0000"/><rect x="27.00" y="56.00" width="16.05" height="8.05" fill="#98f783"/><rect x="43.00" y="56.00" width="216.05" height="8.05" fill="#ff0000"/><rect x="259.00" y="56.00" width="16.05" height="8.05" fill="#98f783"/><rect x="275.00" y="56.00" width="32.05" height="8.05" fill="#ff0000"/><rect x="35.00" y="64.00" width="24.05" height="8.05" fill="#98f783"/><rect x="59.00" y="64.00" width="104.05" height="8.05" fill="#ff0000"/><rect x="163.00" y="64.00" width="16.05" height="8.05" fill="#ffc300"/><rect x="179.00" y="64.00" width="80.05" height="8.05" fill="#ff0000"/><rect x="259.00" y="64.00" width="16.05" height="8.05" fill="#98f783"/><rect x="275.00" y="64.00" width="40.05" height="8.05" fill="#ff0000"/><rect x="35.00" y="72.00" width="24.05" height="8.05" fill="#ff0000"/><rect x="59.00" y="72.00" width="8.05" height="8.05" fill="#98f783"/><rect x="67.00" y="72.00" width="96.05" height="8.05" fill="#ff0000"/><rect x="163.00" y="72.00" width="16.05" height="8.05" fill="#98f783"/><rect x="179.00" y="72.00" width="32.05" height="8.05" fill="#ff0000"/><rect x="211.00" y="72.00" width="16.05" height="8.05" fill="#00c5ff"/><rect x="227.00" y="72.00" width="24.05" height="8.05" fill="#98f783"/><rect x="251.00" y="72.00" width="8.05" height="8.05" fill="#00c5ff"/><rect x="259.00" y="72.00" width="8.05" height="8.05" fill="#98f783"/><rect x="267.00" y="72.00" width="48.05" height="8.05" fill="#ff0000"/><rect x="35.00" y="80.00" width="8.05" height="8.05" fill="#ff0000"/><rect x="43.00" y="80.00" width="8.05" height="8.05" fill="#98f783"/><rect x="51.00" y="80.00" width="8.05" height="8.05" fill="#ffc300"/><rect x="59.00" y="80.00" width="8.05" height="8.05" fill="#98f783"/><rect x="67.00" y="80.00" width="88.05" height="8.05" fill="#ff0000"/><rect x="155.00" y="80.00" width="8.05" height="8.05" fill="#ffc300"/><rect x="163.00" y="80.00" width="40.05" height="8.05" fill="#98f783"/><rect x="203.00" y="80.00" width="16.05" height="8.05" fill="#00c5ff"/><rect x="219.00" y="80.00" width="8.05" height="8.05" fill="#98f783"/><rect x="227.00" y="80.00" width="8.05" height="8.05" fill="#ff0000"/><rect x="235.00" y="80.00" width="16.05" height="8.05" fill="#00c5ff"/><rect x="251.00" y="80.00" width="8.05" height="8.05" fill="#ff0000"/><rect x="259.00" y="80.00" width="8.05" height="8.05" fill="#98f783"/><rect x="267.00" y="80.00" width="56.05" height="8.05" fill="#ff0000"/><rect x="35.00" y="88.00" width="16.05" height="8.05" fill="#98f783"/><rect x="51.00" y="88.00" width="8.05" height="8.05" fill="#ff0000"/><rect x="59.00" y="88.00" width="16.05" height="8.05" fill="#ffc300"/><rect x="75.00" y="88.00" width="8.05" height="8.05" fill="#98f783"/><rect x="83.00" y="88.00" width="96.05" height="8.05" fill="#ff0000"/><rect x="179.00" y="88.00" width="16.05" height="8.05" fill="#98f783"/><rect x="195.00" y="88.00" width="32.05" height="8.05" fill="#00c5ff"/><rect x="227.00" y="88.00" width="8.05" height="8.05" fill="#ff0000"/><rect x="235.00" y="88.00" width="32.05" height="8.05" fill="#98f783"/><rect x="267.00" y="88.00" width="24.05" height="8.05" fill="#ff0000"/><rect x="291.00" y="88.00" width="8.05" height="8.05" fill="#98f783"/><rect x="299.00" y="88.00" width="16.05" height="8.05" fill="#ff0000"/><rect x="35.00" y="96.00" width="8.05" height="8.05" fill="#98f783"/><rect x="43.00" y="96.00" width="8.05" height="8.05" fill="#ff0000"/><rect x="51.00" y="96.00" width="8.05" height="8.05" fill="#98f783"/><rect x="59.00" y="96.00" width="16.05" height="8.05" fill="#ffc300"/><rect x="75.00" y="96.00" width="8.05" height="8.05" fill="#98f783"/><rect x="83.00" y="96.00" width="16.05" height="8.05" fill="#ff0000"/><rect x="99.00" y="96.00" width="16.05" height="8.05" fill="#ffc300"/><rect x="115.00" y="96.00" width="40.05" height="8.05" fill="#ff0000"/><rect x="155.00" y="96.00" width="8.05" height="8.05" fill="#ffc300"/><rect x="163.00" y="96.00" width="24.05" height="8.05" fill="#ff0000"/><rect x="187.00" y="96.00" width="8.05" height="8.05" fill="#98f783"/><rect x="195.00" y="96.00" width="32.05" height="8.05" fill="#00c5ff"/><rect x="227.00" y="96.00" width="24.05" height="8.05" fill="#98f783"/><rect x="251.00" y="96.00" width="24.05" height="8.05" fill="#00c5ff"/><rect x="275.00" y="96.00" width="8.05" height="8.05" fill="#98f783"/><rect x="283.00" y="96.00" width="8.05" height="8.05" fill="#ff0000"/><rect x="291.00" y="96.00" width="8.05" height="8.05" fill="#00c5ff"/><rect x="299.00" y="96.00" width="16.05" height="8.05" fill="#ff0000"/><rect x="43.00" y="104.00" width="8.05" height="8.05" fill="#00c5ff"/><rect x="51.00" y="104.00" width="8.05" height="8.05" fill="#98f783"/><rect x="59.00" y="104.00" width="8.05" height="8.05" fill="#ff0000"/><rect x="67.00" y="104.00" width="24.05" height="8.05" fill="#98f783"/><rect x="91.00" y="104.00" width="8.05" height="8.05" fill="#ffc300"/><rect x="99.00" y="104.00" width="8.05" height="8.05" fill="#98f783"/><rect x="107.00" y="104.00" width="8.05" height="8.05" fill="#ffc300"/><rect x="115.00" y="104.00" width="8.05" height="8.05" fill="#ff0000"/><rect x="123.00" y="104.00" width="16.05" height="8.05" fill="#ffc300"/><rect x="139.00" y="104.00" width="8.05" height="8.05" fill="#ff0000"/><rect x="147.00" y="104.00" width="8.05" height="8.05" fill="#ffc300"/><rect x="155.00" y="104.00" width="8.05" height="8.05" fill="#98f783"/><rect x="163.00" y="104.00" width="8.05" height="8.05" fill="#ff0000"/><rect x="171.00" y="104.00" width="48.05" height="8.05" fill="#00c5ff"/><rect x="219.00" y="104.00" width="16.05" height="8.05" fill="#0000f0"/><rect x="235.00" y="104.00" width="16.05" height="8.05" fill="#00c5ff"/><rect x="251.00" y="104.00" width="8.05" height="8.05" fill="#ff0000"/><rect x="259.00" y="104.00" width="8.05" height="8.05" fill="#00c5ff"/><rect x="267.00" y="104.00" width="8.05" height="8.05" fill="#0000f0"/><rect x="275.00" y="104.00" width="8.05" height="8.05" fill="#ff0000"/><rect x="283.00" y="104.00" width="8.05" height="8.05" fill="#00c5ff"/><rect x="291.00" y="104.00" width="8.05" height="8.05" fill="#ff0000"/><rect x="67.00" y="112.00" width="8.05" height="8.05" fill="#00c5ff"/><rect x="75.00" y="112.00" width="8.05" height="8.05" fill="#98f783"/><rect x="83.00" y="112.00" width="8.05" height="8.05" fill="#ff0000"/><rect x="91.00" y="112.00" width="8.05" height="8.05" fill="#ffc300"/><rect x="99.00" y="112.00" width="16.05" height="8.05" fill="#98f783"/><rect x="115.00" y="112.00" width="32.05" height="8.05" fill="#ff0000"/><rect x="147.00" y="112.00" width="8.05" height="8.05" fill="#ffc300"/><rect x="155.00" y="112.00" width="8.05" height="8.05" fill="#98f783"/><rect x="163.00" y="112.00" width="16.05" height="8.05" fill="#ff0000"/><rect x="179.00" y="112.00" width="16.05" height="8.05" fill="#98f783"/><rect x="195.00" y="112.00" width="16.05" height="8.05" fill="#00c5ff"/><rect x="211.00" y="112.00" width="8.05" height="8.05" fill="#98f783"/><rect x="219.00" y="112.00" width="16.05" height="8.05" fill="#0000f0"/><rect x="235.00" y="112.00" width="16.05" height="8.05" fill="#00c5ff"/><rect x="251.00" y="112.00" width="8.05" height="8.05" fill="#ff0000"/><rect x="259.00" y="112.00" width="16.05" height="8.05" fill="#00c5ff"/><rect x="275.00" y="112.00" width="8.05" height="8.05" fill="#ff0000"/><rect x="283.00" y="112.00" width="8.05" height="8.05" fill="#00c5ff"/><rect x="83.00" y="120.00" width="16.05" height="8.05" fill="#ff0000"/><rect x="99.00" y="120.00" width="8.05" height="8.05" fill="#ffc300"/><rect x="107.00" y="120.00" width="80.05" height="8.05" fill="#ff0000"/><rect x="187.00" y="120.00" width="16.05" height="8.05" fill="#98f783"/><rect x="203.00" y="120.00" width="16.05" height="8.05" fill="#ff0000"/><rect x="219.00" y="120.00" width="8.05" height="8.05" fill="#00c5ff"/><rect x="227.00" y="120.00" width="8.05" height="8.05" fill="#0000f0"/><rect x="235.00" y="120.00" width="16.05" height="8.05" fill="#00c5ff"/><rect x="251.00" y="120.00" width="32.05" height="8.05" fill="#ff0000"/><rect x="283.00" y="120.00" width="8.05" height="8.05" fill="#00c5ff"/><rect x="99.00" y="128.00" width="16.05" height="8.05" fill="#98f783"/><rect x="115.00" y="128.00" width="48.05" height="8.05" fill="#ff0000"/><rect x="163.00" y="128.00" width="8.05" height="8.05" fill="#98f783"/><rect x="171.00" y="128.00" width="16.05" height="8.05" fill="#00c5ff"/><rect x="187.00" y="128.00" width="32.05" height="8.05" fill="#ff0000"/><rect x="219.00" y="128.00" width="24.05" height="8.05" fill="#00c5ff"/><rect x="243.00" y="128.00" width="8.05" height="8.05" fill="#98f783"/><rect x="251.00" y="128.00" width="40.05" height="8.05" fill="#ff0000"/><rect x="123.00" y="136.00" width="24.05" height="8.05" fill="#98f783"/><rect x="147.00" y="136.00" width="8.05" height="8.05" fill="#ff0000"/><rect x="171.00" y="136.00" width="8.05" height="8.05" fill="#00c5ff"/><rect x="179.00" y="136.00" width="40.05" height="8.05" fill="#ff0000"/><rect x="227.00" y="136.00" width="8.05" height="8.05" fill="#ff0000"/><rect x="251.00" y="136.00" width="32.05" height="8.05" fill="#ff0000"/><rect x="179.00" y="144.00" width="24.05" height="8.05" fill="#ff0000"/><rect x="251.00" y="144.00" width="16.05" height="8.05" fill="#ff0000"/><rect x="251.00" y="152.00" width="8.05" height="8.05" fill="#ff0000"/><rect x="204.70" y="9.70" width="4.6" height="4.6" fill="#ffc300"/><rect x="132.70" y="25.70" width="4.6" height="4.6" fill="#ffc300"/><rect x="156.70" y="41.70" width="4.6" height="4.6" fill="#ffc300"/><rect x="252.70" y="41.70" width="4.6" height="4.6" fill="#ffc300"/><rect x="132.70" y="73.70" width="4.6" height="4.6" fill="#ffc300"/><rect x="276.70" y="73.70" width="4.6" height="4.6" fill="#98f783"/><rect x="308.70" y="81.70" width="4.6" height="4.6" fill="#98f783"/><rect x="204.70" y="89.70" width="4.6" height="4.6" fill="#0000f0"/><rect x="148.70" y="129.70" width="4.6" height="4.6" fill="#98f783"/></g><rect x="0" y="0" width="317.7" height="164.8" fill="none" stroke="#404040" stroke-width="1.2" shape-rendering="geometricPrecision"/><line x1="49.4" y1="-2.6" x2="49.4" y2="0" stroke="#333" stroke-width="0.9"/><text x="49.699999999999996" y="-5.6" class="lb" text-anchor="middle">80° E</text><line x1="103.8" y1="-2.6" x2="103.8" y2="0" stroke="#333" stroke-width="0.9"/><text x="104.1" y="-5.6" class="lb" text-anchor="middle">85° E</text><line x1="158.2" y1="-2.6" x2="158.2" y2="0" stroke="#333" stroke-width="0.9"/><text x="158.5" y="-5.6" class="lb" text-anchor="middle">90° E</text><line x1="212.6" y1="-2.6" x2="212.6" y2="0" stroke="#333" stroke-width="0.9"/><text x="212.9" y="-5.6" class="lb" text-anchor="middle">95° E</text><line x1="267.0" y1="-2.6" x2="267.0" y2="0" stroke="#333" stroke-width="0.9"/><text x="267.3" y="-5.6" class="lb" text-anchor="middle">100° E</text><line x1="-2.9" y1="6.5" x2="0" y2="6.5" stroke="#333" stroke-width="0.9"/><text transform="translate(-5.3,6.5) rotate(-90)" x="0" y="0" class="lb" text-anchor="middle">40° N</text><line x1="-2.9" y1="60.8" x2="0" y2="60.8" stroke="#333" stroke-width="0.9"/><text transform="translate(-5.3,60.8) rotate(-90)" x="0" y="0" class="lb" text-anchor="middle">35° N</text><line x1="-2.9" y1="115.3" x2="0" y2="115.3" stroke="#333" stroke-width="0.9"/><text transform="translate(-5.3,115.3) rotate(-90)" x="0" y="0" class="lb" text-anchor="middle">30° N</text><text x="307.7" y="8.4" class="na" text-anchor="middle">N</text><path d="M307.5,10.7 L302,27.2 L307.4,20.8 Z" fill="#000" shape-rendering="geometricPrecision"/><path d="M307.5,10.7 L312.6,27.2 L307.4,20.8 Z" fill="#fff" stroke="#000" stroke-width="0.7" stroke-linejoin="miter" shape-rendering="geometricPrecision"/><path d="M307.5,10.7 L302,27.2 L307.4,20.8 Z" fill="#000" stroke="#000" stroke-width="0.5" shape-rendering="geometricPrecision"/><rect x="6.8" y="155.2" width="98.7" height="3.8" fill="#000"/><rect x="31.9" y="155.9" width="24.4" height="2.4" fill="#fff"/><text x="7.4" y="151.7" class="sb" text-anchor="middle">0</text><text x="31.7" y="151.7" class="sb" text-anchor="middle">250</text><text x="56.3" y="151.7" class="sb" text-anchor="middle">500</text><text x="105.4" y="151.7" class="sb" text-anchor="middle">1,000</text><text x="107.2" y="158.9" class="sb">km</text><text x="314.9" y="159.9" class="yr" text-anchor="end">1991</text></g><g transform="translate(21.5,567.5)"><g clip-path="url(#ol)"><rect x="187.00" y="8.00" width="24.05" height="8.05" fill="#ff0000"/><rect x="211.00" y="8.00" width="16.05" height="8.05" fill="#98f783"/><rect x="227.00" y="8.00" width="24.05" height="8.05" fill="#ff0000"/><rect x="3.00" y="16.00" width="16.05" height="8.05" fill="#ff0000"/><rect x="139.00" y="16.00" width="112.05" height="8.05" fill="#ff0000"/><rect x="251.00" y="16.00" width="24.05" height="8.05" fill="#98f783"/><rect x="3.00" y="24.00" width="24.05" height="8.05" fill="#ff0000"/><rect x="115.00" y="24.00" width="8.05" height="8.05" fill="#ff0000"/><rect x="123.00" y="24.00" width="16.05" height="8.05" fill="#98f783"/><rect x="139.00" y="24.00" width="104.05" height="8.05" fill="#ff0000"/><rect x="243.00" y="24.00" width="8.05" height="8.05" fill="#00c5ff"/><rect x="251.00" y="24.00" width="24.05" height="8.05" fill="#98f783"/><rect x="275.00" y="24.00" width="16.05" height="8.05" fill="#00c5ff"/><rect x="3.00" y="32.00" width="8.05" height="8.05" fill="#ffc300"/><rect x="11.00" y="32.00" width="40.05" height="8.05" fill="#ff0000"/><rect x="91.00" y="32.00" width="24.05" height="8.05" fill="#ff0000"/><rect x="115.00" y="32.00" width="16.05" height="8.05" fill="#ffc300"/><rect x="131.00" y="32.00" width="112.05" height="8.05" fill="#ff0000"/><rect x="243.00" y="32.00" width="16.05" height="8.05" fill="#98f783"/><rect x="259.00" y="32.00" width="16.05" height="8.05" fill="#ff0000"/><rect x="275.00" y="32.00" width="8.05" height="8.05" fill="#98f783"/><rect x="283.00" y="32.00" width="16.05" height="8.05" fill="#00c5ff"/><rect x="3.00" y="40.00" width="24.05" height="8.05" fill="#00c5ff"/><rect x="27.00" y="40.00" width="16.05" height="8.05" fill="#98f783"/><rect x="43.00" y="40.00" width="8.05" height="8.05" fill="#ff0000"/><rect x="51.00" y="40.00" width="24.05" height="8.05" fill="#98f783"/><rect x="75.00" y="40.00" width="168.05" height="8.05" fill="#ff0000"/><rect x="243.00" y="40.00" width="8.05" height="8.05" fill="#98f783"/><rect x="251.00" y="40.00" width="8.05" height="8.05" fill="#00c5ff"/><rect x="259.00" y="40.00" width="16.05" height="8.05" fill="#ff0000"/><rect x="275.00" y="40.00" width="16.05" height="8.05" fill="#98f783"/><rect x="291.00" y="40.00" width="8.05" height="8.05" fill="#ff0000"/><rect x="11.00" y="48.00" width="8.05" height="8.05" fill="#00c5ff"/><rect x="19.00" y="48.00" width="16.05" height="8.05" fill="#98f783"/><rect x="35.00" y="48.00" width="24.05" height="8.05" fill="#00c5ff"/><rect x="59.00" y="48.00" width="16.05" height="8.05" fill="#98f783"/><rect x="75.00" y="48.00" width="32.05" height="8.05" fill="#ff0000"/><rect x="107.00" y="48.00" width="16.05" height="8.05" fill="#00c5ff"/><rect x="123.00" y="48.00" width="32.05" height="8.05" fill="#0000f0"/><rect x="155.00" y="48.00" width="8.05" height="8.05" fill="#00c5ff"/><rect x="163.00" y="48.00" width="8.05" height="8.05" fill="#0000f0"/><rect x="171.00" y="48.00" width="24.05" height="8.05" fill="#00c5ff"/><rect x="195.00" y="48.00" width="64.05" height="8.05" fill="#0000f0"/><rect x="259.00" y="48.00" width="8.05" height="8.05" fill="#00c5ff"/><rect x="267.00" y="48.00" width="8.05" height="8.05" fill="#ff0000"/><rect x="275.00" y="48.00" width="16.05" height="8.05" fill="#98f783"/><rect x="291.00" y="48.00" width="8.05" height="8.05" fill="#ff0000"/><rect x="299.00" y="48.00" width="8.05" height="8.05" fill="#98f783"/><rect x="27.00" y="56.00" width="64.05" height="8.05" fill="#ff0000"/><rect x="91.00" y="56.00" width="16.05" height="8.05" fill="#00c5ff"/><rect x="107.00" y="56.00" width="40.05" height="8.05" fill="#0000f0"/><rect x="147.00" y="56.00" width="8.05" height="8.05" fill="#00c5ff"/><rect x="155.00" y="56.00" width="8.05" height="8.05" fill="#ff0000"/><rect x="163.00" y="56.00" width="8.05" height="8.05" fill="#00c5ff"/><rect x="171.00" y="56.00" width="16.05" height="8.05" fill="#ff0000"/><rect x="187.00" y="56.00" width="72.05" height="8.05" fill="#0000f0"/><rect x="259.00" y="56.00" width="8.05" height="8.05" fill="#98f783"/><rect x="267.00" y="56.00" width="16.05" height="8.05" fill="#ff0000"/><rect x="283.00" y="56.00" width="8.05" height="8.05" fill="#98f783"/><rect x="291.00" y="56.00" width="16.05" height="8.05" fill="#ff0000"/><rect x="35.00" y="64.00" width="56.05" height="8.05" fill="#ff0000"/><rect x="91.00" y="64.00" width="24.05" height="8.05" fill="#0000f0"/><rect x="115.00" y="64.00" width="8.05" height="8.05" fill="#00c5ff"/><rect x="123.00" y="64.00" width="24.05" height="8.05" fill="#ff0000"/><rect x="147.00" y="64.00" width="8.05" height="8.05" fill="#00c5ff"/><rect x="155.00" y="64.00" width="80.05" height="8.05" fill="#0000f0"/><rect x="235.00" y="64.00" width="8.05" height="8.05" fill="#00c5ff"/><rect x="243.00" y="64.00" width="8.05" height="8.05" fill="#98f783"/><rect x="251.00" y="64.00" width="8.05" height="8.05" fill="#ff0000"/><rect x="259.00" y="64.00" width="24.05" height="8.05" fill="#98f783"/><rect x="283.00" y="64.00" width="8.05" height="8.05" fill="#ffc300"/><rect x="291.00" y="64.00" width="16.05" height="8.05" fill="#ff0000"/><rect x="307.00" y="64.00" width="8.05" height="8.05" fill="#98f783"/><rect x="35.00" y="72.00" width="56.05" height="8.05" fill="#ff0000"/><rect x="91.00" y="72.00" width="24.05" height="8.05" fill="#00c5ff"/><rect x="115.00" y="72.00" width="24.05" height="8.05" fill="#ff0000"/><rect x="139.00" y="72.00" width="8.05" height="8.05" fill="#98f783"/><rect x="147.00" y="72.00" width="72.05" height="8.05" fill="#0000f0"/><rect x="219.00" y="72.00" width="16.05" height="8.05" fill="#00c5ff"/><rect x="235.00" y="72.00" width="16.05" height="8.05" fill="#98f783"/><rect x="251.00" y="72.00" width="8.05" height="8.05" fill="#00c5ff"/><rect x="259.00" y="72.00" width="32.05" height="8.05" fill="#98f783"/><rect x="291.00" y="72.00" width="16.05" height="8.05" fill="#ff0000"/><rect x="307.00" y="72.00" width="8.05" height="8.05" fill="#98f783"/><rect x="35.00" y="80.00" width="8.05" height="8.05" fill="#98f783"/><rect x="43.00" y="80.00" width="8.05" height="8.05" fill="#ffc300"/><rect x="51.00" y="80.00" width="8.05" height="8.05" fill="#98f783"/><rect x="59.00" y="80.00" width="48.05" height="8.05" fill="#ff0000"/><rect x="107.00" y="80.00" width="24.05" height="8.05" fill="#98f783"/><rect x="131.00" y="80.00" width="8.05" height="8.05" fill="#ff0000"/><rect x="139.00" y="80.00" width="8.05" height="8.05" fill="#00c5ff"/><rect x="147.00" y="80.00" width="16.05" height="8.05" fill="#0000f0"/><rect x="163.00" y="80.00" width="8.05" height="8.05" fill="#00c5ff"/><rect x="171.00" y="80.00" width="16.05" height="8.05" fill="#0000f0"/><rect x="187.00" y="80.00" width="8.05" height="8.05" fill="#00c5ff"/><rect x="195.00" y="80.00" width="24.05" height="8.05" fill="#0000f0"/><rect x="219.00" y="80.00" width="8.05" height="8.05" fill="#98f783"/><rect x="227.00" y="80.00" width="16.05" height="8.05" fill="#00c5ff"/><rect x="243.00" y="80.00" width="40.05" height="8.05" fill="#98f783"/><rect x="283.00" y="80.00" width="8.05" height="8.05" fill="#ffc300"/><rect x="291.00" y="80.00" width="24.05" height="8.05" fill="#98f783"/><rect x="315.00" y="80.00" width="8.05" height="8.05" fill="#ff0000"/><rect x="35.00" y="88.00" width="8.05" height="8.05" fill="#00c5ff"/><rect x="43.00" y="88.00" width="24.05" height="8.05" fill="#98f783"/><rect x="67.00" y="88.00" width="112.05" height="8.05" fill="#ff0000"/><rect x="179.00" y="88.00" width="8.05" height="8.05" fill="#98f783"/><rect x="187.00" y="88.00" width="16.05" height="8.05" fill="#00c5ff"/><rect x="203.00" y="88.00" width="24.05" height="8.05" fill="#0000f0"/><rect x="227.00" y="88.00" width="8.05" height="8.05" fill="#98f783"/><rect x="235.00" y="88.00" width="8.05" height="8.05" fill="#00c5ff"/><rect x="243.00" y="88.00" width="16.05" height="8.05" fill="#98f783"/><rect x="259.00" y="88.00" width="16.05" height="8.05" fill="#00c5ff"/><rect x="275.00" y="88.00" width="8.05" height="8.05" fill="#98f783"/><rect x="283.00" y="88.00" width="16.05" height="8.05" fill="#00c5ff"/><rect x="299.00" y="88.00" width="8.05" height="8.05" fill="#98f783"/><rect x="307.00" y="88.00" width="8.05" height="8.05" fill="#ff0000"/><rect x="35.00" y="96.00" width="8.05" height="8.05" fill="#00c5ff"/><rect x="43.00" y="96.00" width="32.05" height="8.05" fill="#98f783"/><rect x="75.00" y="96.00" width="104.05" height="8.05" fill="#ff0000"/><rect x="179.00" y="96.00" width="8.05" height="8.05" fill="#98f783"/><rect x="187.00" y="96.00" width="16.05" height="8.05" fill="#0000f0"/><rect x="203.00" y="96.00" width="8.05" height="8.05" fill="#00c5ff"/><rect x="211.00" y="96.00" width="16.05" height="8.05" fill="#0000f0"/><rect x="227.00" y="96.00" width="8.05" height="8.05" fill="#00c5ff"/><rect x="235.00" y="96.00" width="24.05" height="8.05" fill="#98f783"/><rect x="259.00" y="96.00" width="8.05" height="8.05" fill="#00c5ff"/><rect x="267.00" y="96.00" width="8.05" height="8.05" fill="#98f783"/><rect x="275.00" y="96.00" width="24.05" height="8.05" fill="#00c5ff"/><rect x="299.00" y="96.00" width="16.05" height="8.05" fill="#ff0000"/><rect x="43.00" y="104.00" width="8.05" height="8.05" fill="#00c5ff"/><rect x="51.00" y="104.00" width="24.05" height="8.05" fill="#98f783"/><rect x="75.00" y="104.00" width="16.05" height="8.05" fill="#ff0000"/><rect x="91.00" y="104.00" width="8.05" height="8.05" fill="#00c5ff"/><rect x="99.00" y="104.00" width="8.05" height="8.05" fill="#98f783"/><rect x="107.00" y="104.00" width="8.05" height="8.05" fill="#ff0000"/><rect x="115.00" y="104.00" width="16.05" height="8.05" fill="#ffc300"/><rect x="131.00" y="104.00" width="24.05" height="8.05" fill="#98f783"/><rect x="155.00" y="104.00" width="8.05" height="8.05" fill="#00c5ff"/><rect x="163.00" y="104.00" width="8.05" height="8.05" fill="#ff0000"/><rect x="171.00" y="104.00" width="8.05" height="8.05" fill="#98f783"/><rect x="179.00" y="104.00" width="8.05" height="8.05" fill="#00c5ff"/><rect x="187.00" y="104.00" width="16.05" height="8.05" fill="#0000f0"/><rect x="203.00" y="104.00" width="8.05" height="8.05" fill="#00c5ff"/><rect x="211.00" y="104.00" width="16.05" height="8.05" fill="#0000f0"/><rect x="227.00" y="104.00" width="8.05" height="8.05" fill="#00c5ff"/><rect x="235.00" y="104.00" width="8.05" height="8.05" fill="#98f783"/><rect x="243.00" y="104.00" width="8.05" height="8.05" fill="#ffc300"/><rect x="251.00" y="104.00" width="8.05" height="8.05" fill="#ff0000"/><rect x="259.00" y="104.00" width="8.05" height="8.05" fill="#00c5ff"/><rect x="267.00" y="104.00" width="8.05" height="8.05" fill="#ffc300"/><rect x="275.00" y="104.00" width="8.05" height="8.05" fill="#ff0000"/><rect x="283.00" y="104.00" width="8.05" height="8.05" fill="#00c5ff"/><rect x="291.00" y="104.00" width="8.05" height="8.05" fill="#ff0000"/><rect x="67.00" y="112.00" width="8.05" height="8.05" fill="#0000f0"/><rect x="75.00" y="112.00" width="24.05" height="8.05" fill="#ff0000"/><rect x="99.00" y="112.00" width="8.05" height="8.05" fill="#ffc300"/><rect x="107.00" y="112.00" width="8.05" height="8.05" fill="#ff0000"/><rect x="115.00" y="112.00" width="16.05" height="8.05" fill="#ffc300"/><rect x="131.00" y="112.00" width="8.05" height="8.05" fill="#98f783"/><rect x="139.00" y="112.00" width="8.05" height="8.05" fill="#ffc300"/><rect x="147.00" y="112.00" width="8.05" height="8.05" fill="#98f783"/><rect x="155.00" y="112.00" width="16.05" height="8.05" fill="#ff0000"/><rect x="171.00" y="112.00" width="8.05" height="8.05" fill="#98f783"/><rect x="179.00" y="112.00" width="32.05" height="8.05" fill="#00c5ff"/><rect x="211.00" y="112.00" width="8.05" height="8.05" fill="#98f783"/><rect x="219.00" y="112.00" width="16.05" height="8.05" fill="#00c5ff"/><rect x="235.00" y="112.00" width="8.05" height="8.05" fill="#98f783"/><rect x="243.00" y="112.00" width="8.05" height="8.05" fill="#ffc300"/><rect x="251.00" y="112.00" width="8.05" height="8.05" fill="#ff0000"/><rect x="259.00" y="112.00" width="8.05" height="8.05" fill="#98f783"/><rect x="267.00" y="112.00" width="8.05" height="8.05" fill="#ffc300"/><rect x="275.00" y="112.00" width="8.05" height="8.05" fill="#98f783"/><rect x="283.00" y="112.00" width="8.05" height="8.05" fill="#00c5ff"/><rect x="83.00" y="120.00" width="16.05" height="8.05" fill="#ff0000"/><rect x="99.00" y="120.00" width="8.05" height="8.05" fill="#ffc300"/><rect x="107.00" y="120.00" width="8.05" height="8.05" fill="#ff0000"/><rect x="115.00" y="120.00" width="8.05" height="8.05" fill="#98f783"/><rect x="123.00" y="120.00" width="8.05" height="8.05" fill="#ff0000"/><rect x="131.00" y="120.00" width="8.05" height="8.05" fill="#ffc300"/><rect x="139.00" y="120.00" width="48.05" height="8.05" fill="#ff0000"/><rect x="187.00" y="120.00" width="16.05" height="8.05" fill="#00c5ff"/><rect x="203.00" y="120.00" width="8.05" height="8.05" fill="#98f783"/><rect x="211.00" y="120.00" width="8.05" height="8.05" fill="#ffc300"/><rect x="219.00" y="120.00" width="16.05" height="8.05" fill="#00c5ff"/><rect x="235.00" y="120.00" width="16.05" height="8.05" fill="#98f783"/><rect x="251.00" y="120.00" width="16.05" height="8.05" fill="#ff0000"/><rect x="267.00" y="120.00" width="16.05" height="8.05" fill="#ffc300"/><rect x="283.00" y="120.00" width="8.05" height="8.05" fill="#98f783"/><rect x="99.00" y="128.00" width="8.05" height="8.05" fill="#00c5ff"/><rect x="107.00" y="128.00" width="8.05" height="8.05" fill="#ff0000"/><rect x="115.00" y="128.00" width="24.05" height="8.05" fill="#00c5ff"/><rect x="139.00" y="128.00" width="8.05" height="8.05" fill="#ff0000"/><rect x="147.00" y="128.00" width="24.05" height="8.05" fill="#00c5ff"/><rect x="171.00" y="128.00" width="16.05" height="8.05" fill="#98f783"/><rect x="187.00" y="128.00" width="8.05" height="8.05" fill="#ffc300"/><rect x="195.00" y="128.00" width="16.05" height="8.05" fill="#ff0000"/><rect x="211.00" y="128.00" width="8.05" height="8.05" fill="#ffc300"/><rect x="219.00" y="128.00" width="32.05" height="8.05" fill="#98f783"/><rect x="251.00" y="128.00" width="16.05" height="8.05" fill="#ffc300"/><rect x="267.00" y="128.00" width="16.05" height="8.05" fill="#ff0000"/><rect x="283.00" y="128.00" width="8.05" height="8.05" fill="#ffc300"/><rect x="123.00" y="136.00" width="8.05" height="8.05" fill="#00c5ff"/><rect x="131.00" y="136.00" width="24.05" height="8.05" fill="#0000f0"/><rect x="171.00" y="136.00" width="8.05" height="8.05" fill="#ffc300"/><rect x="179.00" y="136.00" width="40.05" height="8.05" fill="#ff0000"/><rect x="251.00" y="136.00" width="16.05" height="8.05" fill="#ffc300"/><rect x="267.00" y="136.00" width="8.05" height="8.05" fill="#ff0000"/><rect x="179.00" y="144.00" width="24.05" height="8.05" fill="#ff0000"/><rect x="251.00" y="144.00" width="8.05" height="8.05" fill="#ff0000"/><rect x="259.00" y="144.00" width="8.05" height="8.05" fill="#ffc300"/><rect x="251.00" y="152.00" width="8.05" height="8.05" fill="#ff0000"/><rect x="148.70" y="17.70" width="4.6" height="4.6" fill="#98f783"/><rect x="236.70" y="17.70" width="4.6" height="4.6" fill="#98f783"/><rect x="220.70" y="25.70" width="4.6" height="4.6" fill="#00c5ff"/><rect x="100.70" y="33.70" width="4.6" height="4.6" fill="#98f783"/><rect x="172.70" y="33.70" width="4.6" height="4.6" fill="#98f783"/><rect x="60.70" y="73.70" width="4.6" height="4.6" fill="#98f783"/><rect x="52.70" y="89.70" width="4.6" height="4.6" fill="#ffc300"/><rect x="60.70" y="97.70" width="4.6" height="4.6" fill="#ffc300"/></g><rect x="0" y="0" width="317.7" height="164.8" fill="none" stroke="#404040" stroke-width="1.2" shape-rendering="geometricPrecision"/><line x1="49.4" y1="-2.6" x2="49.4" y2="0" stroke="#333" stroke-width="0.9"/><text x="49.699999999999996" y="-5.6" class="lb" text-anchor="middle">80° E</text><line x1="103.8" y1="-2.6" x2="103.8" y2="0" stroke="#333" stroke-width="0.9"/><text x="104.1" y="-5.6" class="lb" text-anchor="middle">85° E</text><line x1="158.2" y1="-2.6" x2="158.2" y2="0" stroke="#333" stroke-width="0.9"/><text x="158.5" y="-5.6" class="lb" text-anchor="middle">90° E</text><line x1="212.6" y1="-2.6" x2="212.6" y2="0" stroke="#333" stroke-width="0.9"/><text x="212.9" y="-5.6" class="lb" text-anchor="middle">95° E</text><line x1="267.0" y1="-2.6" x2="267.0" y2="0" stroke="#333" stroke-width="0.9"/><text x="267.3" y="-5.6" class="lb" text-anchor="middle">100° E</text><line x1="-2.9" y1="6.5" x2="0" y2="6.5" stroke="#333" stroke-width="0.9"/><text transform="translate(-5.3,6.5) rotate(-90)" x="0" y="0" class="lb" text-anchor="middle">40° N</text><line x1="-2.9" y1="60.8" x2="0" y2="60.8" stroke="#333" stroke-width="0.9"/><text transform="translate(-5.3,60.8) rotate(-90)" x="0" y="0" class="lb" text-anchor="middle">35° N</text><line x1="-2.9" y1="115.3" x2="0" y2="115.3" stroke="#333" stroke-width="0.9"/><text transform="translate(-5.3,115.3) rotate(-90)" x="0" y="0" class="lb" text-anchor="middle">30° N</text><text x="307.7" y="8.4" class="na" text-anchor="middle">N</text><path d="M307.5,10.7 L302,27.2 L307.4,20.8 Z" fill="#000" shape-rendering="geometricPrecision"/><path d="M307.5,10.7 L312.6,27.2 L307.4,20.8 Z" fill="#fff" stroke="#000" stroke-width="0.7" stroke-linejoin="miter" shape-rendering="geometricPrecision"/><path d="M307.5,10.7 L302,27.2 L307.4,20.8 Z" fill="#000" stroke="#000" stroke-width="0.5" shape-rendering="geometricPrecision"/><rect x="6.8" y="155.2" width="98.7" height="3.8" fill="#000"/><rect x="31.9" y="155.9" width="24.4" height="2.4" fill="#fff"/><text x="7.4" y="151.7" class="sb" text-anchor="middle">0</text><text x="31.7" y="151.7" class="sb" text-anchor="middle">250</text><text x="56.3" y="151.7" class="sb" text-anchor="middle">500</text><text x="105.4" y="151.7" class="sb" text-anchor="middle">1,000</text><text x="107.2" y="158.9" class="sb">km</text><text x="314.9" y="159.9" class="yr" text-anchor="end">1986</text></g><g transform="translate(359.4,567.5)"><g clip-path="url(#ol)"><rect x="187.00" y="8.00" width="8.05" height="8.05" fill="#ff0000"/><rect x="195.00" y="8.00" width="56.05" height="8.05" fill="#98f783"/><rect x="3.00" y="16.00" width="16.05" height="8.05" fill="#98f783"/><rect x="139.00" y="16.00" width="32.05" height="8.05" fill="#98f783"/><rect x="171.00" y="16.00" width="8.05" height="8.05" fill="#ffc300"/><rect x="179.00" y="16.00" width="24.05" height="8.05" fill="#ff0000"/><rect x="203.00" y="16.00" width="72.05" height="8.05" fill="#98f783"/><rect x="3.00" y="24.00" width="24.05" height="8.05" fill="#98f783"/><rect x="115.00" y="24.00" width="32.05" height="8.05" fill="#98f783"/><rect x="147.00" y="24.00" width="16.05" height="8.05" fill="#ff0000"/><rect x="163.00" y="24.00" width="8.05" height="8.05" fill="#98f783"/><rect x="171.00" y="24.00" width="40.05" height="8.05" fill="#ff0000"/><rect x="211.00" y="24.00" width="40.05" height="8.05" fill="#98f783"/><rect x="251.00" y="24.00" width="16.05" height="8.05" fill="#ffc300"/><rect x="267.00" y="24.00" width="24.05" height="8.05" fill="#98f783"/><rect x="3.00" y="32.00" width="16.05" height="8.05" fill="#98f783"/><rect x="19.00" y="32.00" width="16.05" height="8.05" fill="#ffc300"/><rect x="35.00" y="32.00" width="8.05" height="8.05" fill="#98f783"/><rect x="43.00" y="32.00" width="8.05" height="8.05" fill="#ffc300"/><rect x="99.00" y="32.00" width="16.05" height="8.05" fill="#98f783"/><rect x="115.00" y="32.00" width="16.05" height="8.05" fill="#ff0000"/><rect x="131.00" y="32.00" width="16.05" height="8.05" fill="#98f783"/><rect x="147.00" y="32.00" width="24.05" height="8.05" fill="#ff0000"/><rect x="171.00" y="32.00" width="8.05" height="8.05" fill="#98f783"/><rect x="179.00" y="32.00" width="64.05" height="8.05" fill="#ff0000"/><rect x="243.00" y="32.00" width="8.05" height="8.05" fill="#98f783"/><rect x="251.00" y="32.00" width="16.05" height="8.05" fill="#ffc300"/><rect x="267.00" y="32.00" width="16.05" height="8.05" fill="#ff0000"/><rect x="283.00" y="32.00" width="16.05" height="8.05" fill="#98f783"/><rect x="3.00" y="40.00" width="40.05" height="8.05" fill="#98f783"/><rect x="43.00" y="40.00" width="24.05" height="8.05" fill="#ffc300"/><rect x="67.00" y="40.00" width="24.05" height="8.05" fill="#ff0000"/><rect x="91.00" y="40.00" width="32.05" height="8.05" fill="#98f783"/><rect x="123.00" y="40.00" width="8.05" height="8.05" fill="#ff0000"/><rect x="131.00" y="40.00" width="8.05" height="8.05" fill="#98f783"/><rect x="139.00" y="40.00" width="24.05" height="8.05" fill="#ff0000"/><rect x="163.00" y="40.00" width="64.05" height="8.05" fill="#98f783"/><rect x="227.00" y="40.00" width="8.05" height="8.05" fill="#ff0000"/><rect x="235.00" y="40.00" width="24.05" height="8.05" fill="#98f783"/><rect x="259.00" y="40.00" width="8.05" height="8.05" fill="#ffc300"/><rect x="267.00" y="40.00" width="8.05" height="8.05" fill="#ff0000"/><rect x="275.00" y="40.00" width="16.05" height="8.05" fill="#ffc300"/><rect x="291.00" y="40.00" width="8.05" height="8.05" fill="#98f783"/><rect x="11.00" y="48.00" width="40.05" height="8.05" fill="#98f783"/><rect x="51.00" y="48.00" width="8.05" height="8.05" fill="#ffc300"/><rect x="59.00" y="48.00" width="88.05" height="8.05" fill="#98f783"/><rect x="147.00" y="48.00" width="48.05" height="8.05" fill="#ff0000"/><rect x="195.00" y="48.00" width="40.05" height="8.05" fill="#98f783"/><rect x="235.00" y="48.00" width="16.05" height="8.05" fill="#ffc300"/><rect x="251.00" y="48.00" width="8.05" height="8.05" fill="#98f783"/><rect x="259.00" y="48.00" width="32.05" height="8.05" fill="#ffc300"/><rect x="291.00" y="48.00" width="16.05" height="8.05" fill="#98f783"/><rect x="27.00" y="56.00" width="24.05" height="8.05" fill="#98f783"/><rect x="51.00" y="56.00" width="8.05" height="8.05" fill="#ff0000"/><rect x="59.00" y="56.00" width="8.05" height="8.05" fill="#00c5ff"/><rect x="67.00" y="56.00" width="80.05" height="8.05" fill="#98f783"/><rect x="147.00" y="56.00" width="56.05" height="8.05" fill="#ff0000"/><rect x="203.00" y="56.00" width="32.05" height="8.05" fill="#98f783"/><rect x="235.00" y="56.00" width="16.05" height="8.05" fill="#ff0000"/><rect x="251.00" y="56.00" width="8.05" height="8.05" fill="#98f783"/><rect x="259.00" y="56.00" width="8.05" height="8.05" fill="#00c5ff"/><rect x="267.00" y="56.00" width="40.05" height="8.05" fill="#98f783"/><rect x="35.00" y="64.00" width="120.05" height="8.05" fill="#98f783"/><rect x="155.00" y="64.00" width="40.05" height="8.05" fill="#ff0000"/><rect x="195.00" y="64.00" width="64.05" height="8.05" fill="#98f783"/><rect x="259.00" y="64.00" width="24.05" height="8.05" fill="#00c5ff"/><rect x="283.00" y="64.00" width="8.05" height="8.05" fill="#98f783"/><rect x="291.00" y="64.00" width="16.05" height="8.05" fill="#00c5ff"/><rect x="35.00" y="72.00" width="120.05" height="8.05" fill="#98f783"/><rect x="155.00" y="72.00" width="8.05" height="8.05" fill="#ff0000"/><rect x="163.00" y="72.00" width="48.05" height="8.05" fill="#98f783"/><rect x="211.00" y="72.00" width="16.05" height="8.05" fill="#00c5ff"/><rect x="227.00" y="72.00" width="8.05" height="8.05" fill="#98f783"/><rect x="235.00" y="72.00" width="16.05" height="8.05" fill="#00c5ff"/><rect x="251.00" y="72.00" width="8.05" height="8.05" fill="#0000f0"/><rect x="259.00" y="72.00" width="56.05" height="8.05" fill="#00c5ff"/><rect x="35.00" y="80.00" width="48.05" height="8.05" fill="#98f783"/><rect x="83.00" y="80.00" width="8.05" height="8.05" fill="#ff0000"/><rect x="91.00" y="80.00" width="112.05" height="8.05" fill="#98f783"/><rect x="203.00" y="80.00" width="32.05" height="8.05" fill="#00c5ff"/><rect x="235.00" y="80.00" width="16.05" height="8.05" fill="#0000f0"/><rect x="251.00" y="80.00" width="72.05" height="8.05" fill="#00c5ff"/><rect x="35.00" y="88.00" width="40.05" height="8.05" fill="#98f783"/><rect x="75.00" y="88.00" width="24.05" height="8.05" fill="#ff0000"/><rect x="99.00" y="88.00" width="16.05" height="8.05" fill="#98f783"/><rect x="115.00" y="88.00" width="40.05" height="8.05" fill="#ff0000"/><rect x="155.00" y="88.00" width="8.05" height="8.05" fill="#98f783"/><rect x="163.00" y="88.00" width="16.05" height="8.05" fill="#ff0000"/><rect x="179.00" y="88.00" width="16.05" height="8.05" fill="#98f783"/><rect x="195.00" y="88.00" width="8.05" height="8.05" fill="#00c5ff"/><rect x="203.00" y="88.00" width="16.05" height="8.05" fill="#0000f0"/><rect x="219.00" y="88.00" width="16.05" height="8.05" fill="#00c5ff"/><rect x="235.00" y="88.00" width="16.05" height="8.05" fill="#0000f0"/><rect x="251.00" y="88.00" width="56.05" height="8.05" fill="#00c5ff"/><rect x="307.00" y="88.00" width="8.05" height="8.05" fill="#98f783"/><rect x="35.00" y="96.00" width="40.05" height="8.05" fill="#98f783"/><rect x="75.00" y="96.00" width="8.05" height="8.05" fill="#ff0000"/><rect x="83.00" y="96.00" width="8.05" height="8.05" fill="#98f783"/><rect x="91.00" y="96.00" width="48.05" height="8.05" fill="#ff0000"/><rect x="139.00" y="96.00" width="8.05" height="8.05" fill="#ffc300"/><rect x="147.00" y="96.00" width="32.05" height="8.05" fill="#ff0000"/><rect x="179.00" y="96.00" width="16.05" height="8.05" fill="#98f783"/><rect x="195.00" y="96.00" width="8.05" height="8.05" fill="#00c5ff"/><rect x="203.00" y="96.00" width="16.05" height="8.05" fill="#0000f0"/><rect x="219.00" y="96.00" width="32.05" height="8.05" fill="#00c5ff"/><rect x="251.00" y="96.00" width="16.05" height="8.05" fill="#0000f0"/><rect x="267.00" y="96.00" width="40.05" height="8.05" fill="#00c5ff"/><rect x="307.00" y="96.00" width="8.05" height="8.05" fill="#98f783"/><rect x="35.00" y="104.00" width="56.05" height="8.05" fill="#98f783"/><rect x="91.00" y="104.00" width="8.05" height="8.05" fill="#ff0000"/><rect x="99.00" y="104.00" width="8.05" height="8.05" fill="#98f783"/><rect x="107.00" y="104.00" width="16.05" height="8.05" fill="#ff0000"/><rect x="123.00" y="104.00" width="32.05" height="8.05" fill="#98f783"/><rect x="155.00" y="104.00" width="16.05" height="8.05" fill="#ff0000"/><rect x="171.00" y="104.00" width="24.05" height="8.05" fill="#98f783"/><rect x="195.00" y="104.00" width="8.05" height="8.05" fill="#0000f0"/><rect x="203.00" y="104.00" width="24.05" height="8.05" fill="#00c5ff"/><rect x="227.00" y="104.00" width="24.05" height="8.05" fill="#98f783"/><rect x="251.00" y="104.00" width="40.05" height="8.05" fill="#00c5ff"/><rect x="291.00" y="104.00" width="8.05" height="8.05" fill="#98f783"/><rect x="67.00" y="112.00" width="64.05" height="8.05" fill="#98f783"/><rect x="131.00" y="112.00" width="8.05" height="8.05" fill="#ffc300"/><rect x="139.00" y="112.00" width="8.05" height="8.05" fill="#98f783"/><rect x="147.00" y="112.00" width="8.05" height="8.05" fill="#ffc300"/><rect x="155.00" y="112.00" width="40.05" height="8.05" fill="#98f783"/><rect x="195.00" y="112.00" width="40.05" height="8.05" fill="#00c5ff"/><rect x="235.00" y="112.00" width="40.05" height="8.05" fill="#98f783"/><rect x="275.00" y="112.00" width="16.05" height="8.05" fill="#00c5ff"/><rect x="83.00" y="120.00" width="24.05" height="8.05" fill="#98f783"/><rect x="107.00" y="120.00" width="8.05" height="8.05" fill="#ff0000"/><rect x="115.00" y="120.00" width="72.05" height="8.05" fill="#ffc300"/><rect x="187.00" y="120.00" width="8.05" height="8.05" fill="#98f783"/><rect x="195.00" y="120.00" width="16.05" height="8.05" fill="#00c5ff"/><rect x="211.00" y="120.00" width="8.05" height="8.05" fill="#ff0000"/><rect x="219.00" y="120.00" width="24.05" height="8.05" fill="#00c5ff"/><rect x="243.00" y="120.00" width="40.05" height="8.05" fill="#98f783"/><rect x="283.00" y="120.00" width="8.05" height="8.05" fill="#00c5ff"/><rect x="99.00" y="128.00" width="40.05" height="8.05" fill="#98f783"/><rect x="139.00" y="128.00" width="16.05" height="8.05" fill="#ffc300"/><rect x="155.00" y="128.00" width="24.05" height="8.05" fill="#98f783"/><rect x="179.00" y="128.00" width="8.05" height="8.05" fill="#00c5ff"/><rect x="187.00" y="128.00" width="8.05" height="8.05" fill="#98f783"/><rect x="195.00" y="128.00" width="32.05" height="8.05" fill="#ff0000"/><rect x="227.00" y="128.00" width="24.05" height="8.05" fill="#00c5ff"/><rect x="251.00" y="128.00" width="40.05" height="8.05" fill="#ff0000"/><rect x="115.00" y="136.00" width="40.05" height="8.05" fill="#98f783"/><rect x="171.00" y="136.00" width="48.05" height="8.05" fill="#ff0000"/><rect x="227.00" y="136.00" width="8.05" height="8.05" fill="#ff0000"/><rect x="251.00" y="136.00" width="32.05" height="8.05" fill="#ff0000"/><rect x="179.00" y="144.00" width="24.05" height="8.05" fill="#ff0000"/><rect x="251.00" y="144.00" width="16.05" height="8.05" fill="#ff0000"/><rect x="251.00" y="152.00" width="8.05" height="8.05" fill="#ff0000"/><rect x="212.70" y="57.70" width="4.6" height="4.6" fill="#ffc300"/><rect x="124.70" y="65.70" width="4.6" height="4.6" fill="#ff0000"/><rect x="36.70" y="73.70" width="4.6" height="4.6" fill="#ffc300"/><rect x="220.70" y="81.70" width="4.6" height="4.6" fill="#98f783"/><rect x="284.70" y="97.70" width="4.6" height="4.6" fill="#0000f0"/></g><rect x="0" y="0" width="317.7" height="164.8" fill="none" stroke="#404040" stroke-width="1.2" shape-rendering="geometricPrecision"/><line x1="49.4" y1="-2.6" x2="49.4" y2="0" stroke="#333" stroke-width="0.9"/><text x="49.699999999999996" y="-5.6" class="lb" text-anchor="middle">80° E</text><line x1="103.8" y1="-2.6" x2="103.8" y2="0" stroke="#333" stroke-width="0.9"/><text x="104.1" y="-5.6" class="lb" text-anchor="middle">85° E</text><line x1="158.2" y1="-2.6" x2="158.2" y2="0" stroke="#333" stroke-width="0.9"/><text x="158.5" y="-5.6" class="lb" text-anchor="middle">90° E</text><line x1="212.6" y1="-2.6" x2="212.6" y2="0" stroke="#333" stroke-width="0.9"/><text x="212.9" y="-5.6" class="lb" text-anchor="middle">95° E</text><line x1="267.0" y1="-2.6" x2="267.0" y2="0" stroke="#333" stroke-width="0.9"/><text x="267.3" y="-5.6" class="lb" text-anchor="middle">100° E</text><line x1="-2.9" y1="6.5" x2="0" y2="6.5" stroke="#333" stroke-width="0.9"/><text transform="translate(-5.3,6.5) rotate(-90)" x="0" y="0" class="lb" text-anchor="middle">40° N</text><line x1="-2.9" y1="60.8" x2="0" y2="60.8" stroke="#333" stroke-width="0.9"/><text transform="translate(-5.3,60.8) rotate(-90)" x="0" y="0" class="lb" text-anchor="middle">35° N</text><line x1="-2.9" y1="115.3" x2="0" y2="115.3" stroke="#333" stroke-width="0.9"/><text transform="translate(-5.3,115.3) rotate(-90)" x="0" y="0" class="lb" text-anchor="middle">30° N</text><text x="307.7" y="8.4" class="na" text-anchor="middle">N</text><path d="M307.5,10.7 L302,27.2 L307.4,20.8 Z" fill="#000" shape-rendering="geometricPrecision"/><path d="M307.5,10.7 L312.6,27.2 L307.4,20.8 Z" fill="#fff" stroke="#000" stroke-width="0.7" stroke-linejoin="miter" shape-rendering="geometricPrecision"/><path d="M307.5,10.7 L302,27.2 L307.4,20.8 Z" fill="#000" stroke="#000" stroke-width="0.5" shape-rendering="geometricPrecision"/><rect x="6.8" y="155.2" width="98.7" height="3.8" fill="#000"/><rect x="31.9" y="155.9" width="24.4" height="2.4" fill="#fff"/><text x="7.4" y="151.7" class="sb" text-anchor="middle">0</text><text x="31.7" y="151.7" class="sb" text-anchor="middle">250</text><text x="56.3" y="151.7" class="sb" text-anchor="middle">500</text><text x="105.4" y="151.7" class="sb" text-anchor="middle">1,000</text><text x="107.2" y="158.9" class="sb">km</text><text x="314.9" y="159.9" class="yr" text-anchor="end">1992</text></g><g transform="translate(697.0,567.5)"><g clip-path="url(#ol)"><rect x="187.00" y="8.00" width="24.05" height="8.05" fill="#ff0000"/><rect x="211.00" y="8.00" width="16.05" height="8.05" fill="#ffc300"/><rect x="227.00" y="8.00" width="24.05" height="8.05" fill="#ff0000"/><rect x="3.00" y="16.00" width="8.05" height="8.05" fill="#98f783"/><rect x="11.00" y="16.00" width="8.05" height="8.05" fill="#ffc300"/><rect x="139.00" y="16.00" width="32.05" height="8.05" fill="#ff0000"/><rect x="171.00" y="16.00" width="8.05" height="8.05" fill="#ffc300"/><rect x="179.00" y="16.00" width="32.05" height="8.05" fill="#ff0000"/><rect x="211.00" y="16.00" width="8.05" height="8.05" fill="#ffc300"/><rect x="219.00" y="16.00" width="24.05" height="8.05" fill="#98f783"/><rect x="243.00" y="16.00" width="16.05" height="8.05" fill="#ff0000"/><rect x="259.00" y="16.00" width="16.05" height="8.05" fill="#ffc300"/><rect x="3.00" y="24.00" width="8.05" height="8.05" fill="#98f783"/><rect x="11.00" y="24.00" width="8.05" height="8.05" fill="#ffc300"/><rect x="19.00" y="24.00" width="8.05" height="8.05" fill="#ff0000"/><rect x="115.00" y="24.00" width="16.05" height="8.05" fill="#ff0000"/><rect x="131.00" y="24.00" width="16.05" height="8.05" fill="#98f783"/><rect x="147.00" y="24.00" width="16.05" height="8.05" fill="#ff0000"/><rect x="163.00" y="24.00" width="16.05" height="8.05" fill="#ffc300"/><rect x="179.00" y="24.00" width="40.05" height="8.05" fill="#ff0000"/><rect x="219.00" y="24.00" width="16.05" height="8.05" fill="#98f783"/><rect x="235.00" y="24.00" width="40.05" height="8.05" fill="#ff0000"/><rect x="275.00" y="24.00" width="16.05" height="8.05" fill="#98f783"/><rect x="3.00" y="32.00" width="8.05" height="8.05" fill="#98f783"/><rect x="11.00" y="32.00" width="8.05" height="8.05" fill="#ffc300"/><rect x="19.00" y="32.00" width="32.05" height="8.05" fill="#ff0000"/><rect x="91.00" y="32.00" width="8.05" height="8.05" fill="#ff0000"/><rect x="99.00" y="32.00" width="8.05" height="8.05" fill="#ffc300"/><rect x="107.00" y="32.00" width="8.05" height="8.05" fill="#98f783"/><rect x="115.00" y="32.00" width="56.05" height="8.05" fill="#ff0000"/><rect x="171.00" y="32.00" width="8.05" height="8.05" fill="#ffc300"/><rect x="179.00" y="32.00" width="16.05" height="8.05" fill="#ff0000"/><rect x="195.00" y="32.00" width="8.05" height="8.05" fill="#ffc300"/><rect x="203.00" y="32.00" width="80.05" height="8.05" fill="#ff0000"/><rect x="283.00" y="32.00" width="8.05" height="8.05" fill="#ffc300"/><rect x="291.00" y="32.00" width="8.05" height="8.05" fill="#98f783"/><rect x="3.00" y="40.00" width="24.05" height="8.05" fill="#98f783"/><rect x="27.00" y="40.00" width="8.05" height="8.05" fill="#ffc300"/><rect x="35.00" y="40.00" width="40.05" height="8.05" fill="#ff0000"/><rect x="75.00" y="40.00" width="24.05" height="8.05" fill="#98f783"/><rect x="99.00" y="40.00" width="64.05" height="8.05" fill="#ff0000"/><rect x="163.00" y="40.00" width="8.05" height="8.05" fill="#98f783"/><rect x="171.00" y="40.00" width="8.05" height="8.05" fill="#ffc300"/><rect x="179.00" y="40.00" width="8.05" height="8.05" fill="#ff0000"/><rect x="187.00" y="40.00" width="16.05" height="8.05" fill="#ffc300"/><rect x="203.00" y="40.00" width="80.05" height="8.05" fill="#ff0000"/><rect x="283.00" y="40.00" width="16.05" height="8.05" fill="#ffc300"/><rect x="11.00" y="48.00" width="32.05" height="8.05" fill="#98f783"/><rect x="43.00" y="48.00" width="8.05" height="8.05" fill="#ffc300"/><rect x="51.00" y="48.00" width="8.05" height="8.05" fill="#98f783"/><rect x="59.00" y="48.00" width="8.05" height="8.05" fill="#ffc300"/><rect x="67.00" y="48.00" width="8.05" height="8.05" fill="#98f783"/><rect x="75.00" y="48.00" width="16.05" height="8.05" fill="#ff0000"/><rect x="91.00" y="48.00" width="8.05" height="8.05" fill="#98f783"/><rect x="99.00" y="48.00" width="88.05" height="8.05" fill="#ff0000"/><rect x="187.00" y="48.00" width="8.05" height="8.05" fill="#ffc300"/><rect x="195.00" y="48.00" width="24.05" height="8.05" fill="#ff0000"/><rect x="219.00" y="48.00" width="16.05" height="8.05" fill="#ffc300"/><rect x="235.00" y="48.00" width="56.05" height="8.05" fill="#ff0000"/><rect x="291.00" y="48.00" width="8.05" height="8.05" fill="#ffc300"/><rect x="27.00" y="56.00" width="56.05" height="8.05" fill="#ff0000"/><rect x="83.00" y="56.00" width="16.05" height="8.05" fill="#98f783"/><rect x="99.00" y="56.00" width="8.05" height="8.05" fill="#ff0000"/><rect x="107.00" y="56.00" width="8.05" height="8.05" fill="#98f783"/><rect x="115.00" y="56.00" width="104.05" height="8.05" fill="#ff0000"/><rect x="219.00" y="56.00" width="8.05" height="8.05" fill="#98f783"/><rect x="227.00" y="56.00" width="32.05" height="8.05" fill="#ff0000"/><rect x="259.00" y="56.00" width="8.05" height="8.05" fill="#98f783"/><rect x="267.00" y="56.00" width="8.05" height="8.05" fill="#ffc300"/><rect x="275.00" y="56.00" width="8.05" height="8.05" fill="#98f783"/><rect x="283.00" y="56.00" width="8.05" height="8.05" fill="#ff0000"/><rect x="291.00" y="56.00" width="8.05" height="8.05" fill="#98f783"/><rect x="299.00" y="56.00" width="8.05" height="8.05" fill="#ff0000"/><rect x="35.00" y="64.00" width="8.05" height="8.05" fill="#ff0000"/><rect x="43.00" y="64.00" width="56.05" height="8.05" fill="#98f783"/><rect x="99.00" y="64.00" width="8.05" height="8.05" fill="#ff0000"/><rect x="107.00" y="64.00" width="8.05" height="8.05" fill="#98f783"/><rect x="115.00" y="64.00" width="48.05" height="8.05" fill="#ff0000"/><rect x="163.00" y="64.00" width="8.05" height="8.05" fill="#ffc300"/><rect x="171.00" y="64.00" width="80.05" height="8.05" fill="#ff0000"/><rect x="251.00" y="64.00" width="8.05" height="8.05" fill="#98f783"/><rect x="259.00" y="64.00" width="8.05" height="8.05" fill="#00c5ff"/><rect x="267.00" y="64.00" width="40.05" height="8.05" fill="#98f783"/><rect x="35.00" y="72.00" width="24.05" height="8.05" fill="#ff0000"/><rect x="59.00" y="72.00" width="24.05" height="8.05" fill="#98f783"/><rect x="83.00" y="72.00" width="80.05" height="8.05" fill="#ff0000"/><rect x="163.00" y="72.00" width="8.05" height="8.05" fill="#98f783"/><rect x="171.00" y="72.00" width="16.05" height="8.05" fill="#ffc300"/><rect x="187.00" y="72.00" width="24.05" height="8.05" fill="#98f783"/><rect x="211.00" y="72.00" width="8.05" height="8.05" fill="#00c5ff"/><rect x="219.00" y="72.00" width="16.05" height="8.05" fill="#98f783"/><rect x="235.00" y="72.00" width="16.05" height="8.05" fill="#00c5ff"/><rect x="251.00" y="72.00" width="8.05" height="8.05" fill="#0000f0"/><rect x="259.00" y="72.00" width="32.05" height="8.05" fill="#00c5ff"/><rect x="291.00" y="72.00" width="8.05" height="8.05" fill="#98f783"/><rect x="299.00" y="72.00" width="8.05" height="8.05" fill="#00c5ff"/><rect x="307.00" y="72.00" width="8.05" height="8.05" fill="#98f783"/><rect x="35.00" y="80.00" width="24.05" height="8.05" fill="#ff0000"/><rect x="59.00" y="80.00" width="8.05" height="8.05" fill="#98f783"/><rect x="67.00" y="80.00" width="8.05" height="8.05" fill="#ffc300"/><rect x="75.00" y="80.00" width="104.05" height="8.05" fill="#ff0000"/><rect x="179.00" y="80.00" width="48.05" height="8.05" fill="#98f783"/><rect x="227.00" y="80.00" width="8.05" height="8.05" fill="#00c5ff"/><rect x="235.00" y="80.00" width="16.05" height="8.05" fill="#0000f0"/><rect x="251.00" y="80.00" width="56.05" height="8.05" fill="#00c5ff"/><rect x="307.00" y="80.00" width="8.05" height="8.05" fill="#98f783"/><rect x="35.00" y="88.00" width="8.05" height="8.05" fill="#ffc300"/><rect x="43.00" y="88.00" width="24.05" height="8.05" fill="#ff0000"/><rect x="67.00" y="88.00" width="16.05" height="8.05" fill="#ffc300"/><rect x="83.00" y="88.00" width="104.05" height="8.05" fill="#ff0000"/><rect x="187.00" y="88.00" width="8.05" height="8.05" fill="#98f783"/><rect x="195.00" y="88.00" width="8.05" height="8.05" fill="#00c5ff"/><rect x="203.00" y="88.00" width="16.05" height="8.05" fill="#0000f0"/><rect x="219.00" y="88.00" width="8.05" height="8.05" fill="#00c5ff"/><rect x="227.00" y="88.00" width="8.05" height="8.05" fill="#98f783"/><rect x="235.00" y="88.00" width="24.05" height="8.05" fill="#0000f0"/><rect x="259.00" y="88.00" width="40.05" height="8.05" fill="#00c5ff"/><rect x="299.00" y="88.00" width="8.05" height="8.05" fill="#98f783"/><rect x="307.00" y="88.00" width="8.05" height="8.05" fill="#ff0000"/><rect x="35.00" y="96.00" width="8.05" height="8.05" fill="#98f783"/><rect x="43.00" y="96.00" width="24.05" height="8.05" fill="#ff0000"/><rect x="67.00" y="96.00" width="16.05" height="8.05" fill="#ffc300"/><rect x="83.00" y="96.00" width="16.05" height="8.05" fill="#ff0000"/><rect x="99.00" y="96.00" width="16.05" height="8.05" fill="#ffc300"/><rect x="115.00" y="96.00" width="72.05" height="8.05" fill="#ff0000"/><rect x="187.00" y="96.00" width="8.05" height="8.05" fill="#00c5ff"/><rect x="195.00" y="96.00" width="24.05" height="8.05" fill="#0000f0"/><rect x="219.00" y="96.00" width="8.05" height="8.05" fill="#00c5ff"/><rect x="227.00" y="96.00" width="8.05" height="8.05" fill="#98f783"/><rect x="235.00" y="96.00" width="64.05" height="8.05" fill="#00c5ff"/><rect x="299.00" y="96.00" width="16.05" height="8.05" fill="#ff0000"/><rect x="43.00" y="104.00" width="16.05" height="8.05" fill="#98f783"/><rect x="59.00" y="104.00" width="16.05" height="8.05" fill="#ff0000"/><rect x="75.00" y="104.00" width="16.05" height="8.05" fill="#98f783"/><rect x="91.00" y="104.00" width="8.05" height="8.05" fill="#ff0000"/><rect x="99.00" y="104.00" width="16.05" height="8.05" fill="#ffc300"/><rect x="115.00" y="104.00" width="8.05" height="8.05" fill="#ff0000"/><rect x="123.00" y="104.00" width="8.05" height="8.05" fill="#ffc300"/><rect x="131.00" y="104.00" width="8.05" height="8.05" fill="#98f783"/><rect x="139.00" y="104.00" width="8.05" height="8.05" fill="#ff0000"/><rect x="147.00" y="104.00" width="8.05" height="8.05" fill="#ffc300"/><rect x="155.00" y="104.00" width="16.05" height="8.05" fill="#ff0000"/><rect x="171.00" y="104.00" width="8.05" height="8.05" fill="#98f783"/><rect x="179.00" y="104.00" width="8.05" height="8.05" fill="#ffc300"/><rect x="187.00" y="104.00" width="8.05" height="8.05" fill="#00c5ff"/><rect x="195.00" y="104.00" width="8.05" height="8.05" fill="#0000f0"/><rect x="203.00" y="104.00" width="24.05" height="8.05" fill="#00c5ff"/><rect x="227.00" y="104.00" width="8.05" height="8.05" fill="#98f783"/><rect x="235.00" y="104.00" width="16.05" height="8.05" fill="#ffc300"/><rect x="251.00" y="104.00" width="8.05" height="8.05" fill="#98f783"/><rect x="259.00" y="104.00" width="8.05" height="8.05" fill="#00c5ff"/><rect x="267.00" y="104.00" width="8.05" height="8.05" fill="#98f783"/><rect x="275.00" y="104.00" width="16.05" height="8.05" fill="#00c5ff"/><rect x="291.00" y="104.00" width="8.05" height="8.05" fill="#ff0000"/><rect x="67.00" y="112.00" width="16.05" height="8.05" fill="#98f783"/><rect x="83.00" y="112.00" width="16.05" height="8.05" fill="#ff0000"/><rect x="99.00" y="112.00" width="16.05" height="8.05" fill="#ffc300"/><rect x="115.00" y="112.00" width="32.05" height="8.05" fill="#ff0000"/><rect x="147.00" y="112.00" width="8.05" height="8.05" fill="#ffc300"/><rect x="155.00" y="112.00" width="8.05" height="8.05" fill="#98f783"/><rect x="163.00" y="112.00" width="16.05" height="8.05" fill="#ff0000"/><rect x="179.00" y="112.00" width="8.05" height="8.05" fill="#ffc300"/><rect x="187.00" y="112.00" width="24.05" height="8.05" fill="#00c5ff"/><rect x="211.00" y="112.00" width="8.05" height="8.05" fill="#98f783"/><rect x="219.00" y="112.00" width="16.05" height="8.05" fill="#00c5ff"/><rect x="235.00" y="112.00" width="16.05" height="8.05" fill="#ffc300"/><rect x="251.00" y="112.00" width="8.05" height="8.05" fill="#ff0000"/><rect x="259.00" y="112.00" width="8.05" height="8.05" fill="#98f783"/><rect x="267.00" y="112.00" width="8.05" height="8.05" fill="#ff0000"/><rect x="275.00" y="112.00" width="8.05" height="8.05" fill="#98f783"/><rect x="283.00" y="112.00" width="8.05" height="8.05" fill="#00c5ff"/><rect x="83.00" y="120.00" width="16.05" height="8.05" fill="#ff0000"/><rect x="99.00" y="120.00" width="8.05" height="8.05" fill="#ffc300"/><rect x="107.00" y="120.00" width="80.05" height="8.05" fill="#ff0000"/><rect x="187.00" y="120.00" width="24.05" height="8.05" fill="#98f783"/><rect x="211.00" y="120.00" width="8.05" height="8.05" fill="#ff0000"/><rect x="219.00" y="120.00" width="8.05" height="8.05" fill="#98f783"/><rect x="227.00" y="120.00" width="8.05" height="8.05" fill="#00c5ff"/><rect x="235.00" y="120.00" width="8.05" height="8.05" fill="#98f783"/><rect x="243.00" y="120.00" width="8.05" height="8.05" fill="#ffc300"/><rect x="251.00" y="120.00" width="32.05" height="8.05" fill="#ff0000"/><rect x="283.00" y="120.00" width="8.05" height="8.05" fill="#00c5ff"/><rect x="99.00" y="128.00" width="8.05" height="8.05" fill="#98f783"/><rect x="107.00" y="128.00" width="8.05" height="8.05" fill="#ff0000"/><rect x="115.00" y="128.00" width="16.05" height="8.05" fill="#98f783"/><rect x="131.00" y="128.00" width="24.05" height="8.05" fill="#ff0000"/><rect x="155.00" y="128.00" width="32.05" height="8.05" fill="#98f783"/><rect x="187.00" y="128.00" width="40.05" height="8.05" fill="#ff0000"/><rect x="227.00" y="128.00" width="24.05" height="8.05" fill="#98f783"/><rect x="251.00" y="128.00" width="40.05" height="8.05" fill="#ff0000"/><rect x="131.00" y="136.00" width="8.05" height="8.05" fill="#ff0000"/><rect x="147.00" y="136.00" width="8.05" height="8.05" fill="#ffc300"/><rect x="171.00" y="136.00" width="48.05" height="8.05" fill="#ff0000"/><rect x="227.00" y="136.00" width="8.05" height="8.05" fill="#ff0000"/><rect x="251.00" y="136.00" width="32.05" height="8.05" fill="#ff0000"/><rect x="179.00" y="144.00" width="24.05" height="8.05" fill="#ff0000"/><rect x="251.00" y="144.00" width="16.05" height="8.05" fill="#ff0000"/><rect x="251.00" y="152.00" width="8.05" height="8.05" fill="#ff0000"/><rect x="148.70" y="17.70" width="4.6" height="4.6" fill="#98f783"/><rect x="260.70" y="97.70" width="4.6" height="4.6" fill="#0000f0"/></g><rect x="0" y="0" width="317.7" height="164.8" fill="none" stroke="#404040" stroke-width="1.2" shape-rendering="geometricPrecision"/><line x1="49.4" y1="-2.6" x2="49.4" y2="0" stroke="#333" stroke-width="0.9"/><text x="49.699999999999996" y="-5.6" class="lb" text-anchor="middle">80° E</text><line x1="103.8" y1="-2.6" x2="103.8" y2="0" stroke="#333" stroke-width="0.9"/><text x="104.1" y="-5.6" class="lb" text-anchor="middle">85° E</text><line x1="158.2" y1="-2.6" x2="158.2" y2="0" stroke="#333" stroke-width="0.9"/><text x="158.5" y="-5.6" class="lb" text-anchor="middle">90° E</text><line x1="212.6" y1="-2.6" x2="212.6" y2="0" stroke="#333" stroke-width="0.9"/><text x="212.9" y="-5.6" class="lb" text-anchor="middle">95° E</text><line x1="267.0" y1="-2.6" x2="267.0" y2="0" stroke="#333" stroke-width="0.9"/><text x="267.3" y="-5.6" class="lb" text-anchor="middle">100° E</text><line x1="-2.9" y1="6.5" x2="0" y2="6.5" stroke="#333" stroke-width="0.9"/><text transform="translate(-5.3,6.5) rotate(-90)" x="0" y="0" class="lb" text-anchor="middle">40° N</text><line x1="-2.9" y1="60.8" x2="0" y2="60.8" stroke="#333" stroke-width="0.9"/><text transform="translate(-5.3,60.8) rotate(-90)" x="0" y="0" class="lb" text-anchor="middle">35° N</text><line x1="-2.9" y1="115.3" x2="0" y2="115.3" stroke="#333" stroke-width="0.9"/><text transform="translate(-5.3,115.3) rotate(-90)" x="0" y="0" class="lb" text-anchor="middle">30° N</text><text x="307.7" y="8.4" class="na" text-anchor="middle">N</text><path d="M307.5,10.7 L302,27.2 L307.4,20.8 Z" fill="#000" shape-rendering="geometricPrecision"/><path d="M307.5,10.7 L312.6,27.2 L307.4,20.8 Z" fill="#fff" stroke="#000" stroke-width="0.7" stroke-linejoin="miter" shape-rendering="geometricPrecision"/><path d="M307.5,10.7 L302,27.2 L307.4,20.8 Z" fill="#000" stroke="#000" stroke-width="0.5" shape-rendering="geometricPrecision"/><rect x="6.8" y="155.2" width="98.7" height="3.8" fill="#000"/><rect x="31.9" y="155.9" width="24.4" height="2.4" fill="#fff"/><text x="7.4" y="151.7" class="sb" text-anchor="middle">0</text><text x="31.7" y="151.7" class="sb" text-anchor="middle">250</text><text x="56.3" y="151.7" class="sb" text-anchor="middle">500</text><text x="105.4" y="151.7" class="sb" text-anchor="middle">1,000</text><text x="107.2" y="158.9" class="sb">km</text><text x="314.9" y="159.9" class="yr" text-anchor="end">1992</text></g><g transform="translate(21.5,750.8)"><g clip-path="url(#ol)"><rect x="187.00" y="8.00" width="24.05" height="8.05" fill="#ff0000"/><rect x="211.00" y="8.00" width="40.05" height="8.05" fill="#98f783"/><rect x="3.00" y="16.00" width="16.05" height="8.05" fill="#98f783"/><rect x="139.00" y="16.00" width="80.05" height="8.05" fill="#ff0000"/><rect x="219.00" y="16.00" width="8.05" height="8.05" fill="#00c5ff"/><rect x="227.00" y="16.00" width="24.05" height="8.05" fill="#98f783"/><rect x="251.00" y="16.00" width="24.05" height="8.05" fill="#00c5ff"/><rect x="3.00" y="24.00" width="24.05" height="8.05" fill="#ff0000"/><rect x="115.00" y="24.00" width="8.05" height="8.05" fill="#ff0000"/><rect x="123.00" y="24.00" width="24.05" height="8.05" fill="#98f783"/><rect x="147.00" y="24.00" width="88.05" height="8.05" fill="#ff0000"/><rect x="235.00" y="24.00" width="24.05" height="8.05" fill="#98f783"/><rect x="259.00" y="24.00" width="8.05" height="8.05" fill="#ff0000"/><rect x="267.00" y="24.00" width="8.05" height="8.05" fill="#98f783"/><rect x="275.00" y="24.00" width="16.05" height="8.05" fill="#00c5ff"/><rect x="3.00" y="32.00" width="8.05" height="8.05" fill="#00c5ff"/><rect x="11.00" y="32.00" width="40.05" height="8.05" fill="#ff0000"/><rect x="91.00" y="32.00" width="152.05" height="8.05" fill="#ff0000"/><rect x="243.00" y="32.00" width="16.05" height="8.05" fill="#98f783"/><rect x="259.00" y="32.00" width="24.05" height="8.05" fill="#ff0000"/><rect x="283.00" y="32.00" width="16.05" height="8.05" fill="#98f783"/><rect x="3.00" y="40.00" width="32.05" height="8.05" fill="#00c5ff"/><rect x="35.00" y="40.00" width="8.05" height="8.05" fill="#98f783"/><rect x="43.00" y="40.00" width="32.05" height="8.05" fill="#ff0000"/><rect x="75.00" y="40.00" width="16.05" height="8.05" fill="#98f783"/><rect x="91.00" y="40.00" width="80.05" height="8.05" fill="#ff0000"/><rect x="171.00" y="40.00" width="24.05" height="8.05" fill="#98f783"/><rect x="195.00" y="40.00" width="16.05" height="8.05" fill="#ff0000"/><rect x="211.00" y="40.00" width="16.05" height="8.05" fill="#ffc300"/><rect x="227.00" y="40.00" width="16.05" height="8.05" fill="#ff0000"/><rect x="243.00" y="40.00" width="8.05" height="8.05" fill="#98f783"/><rect x="251.00" y="40.00" width="8.05" height="8.05" fill="#00c5ff"/><rect x="259.00" y="40.00" width="24.05" height="8.05" fill="#ff0000"/><rect x="283.00" y="40.00" width="8.05" height="8.05" fill="#98f783"/><rect x="291.00" y="40.00" width="8.05" height="8.05" fill="#ff0000"/><rect x="11.00" y="48.00" width="32.05" height="8.05" fill="#00c5ff"/><rect x="43.00" y="48.00" width="24.05" height="8.05" fill="#0000f0"/><rect x="67.00" y="48.00" width="8.05" height="8.05" fill="#98f783"/><rect x="75.00" y="48.00" width="144.05" height="8.05" fill="#ff0000"/><rect x="219.00" y="48.00" width="16.05" height="8.05" fill="#98f783"/><rect x="235.00" y="48.00" width="8.05" height="8.05" fill="#ff0000"/><rect x="243.00" y="48.00" width="8.05" height="8.05" fill="#98f783"/><rect x="251.00" y="48.00" width="8.05" height="8.05" fill="#ff0000"/><rect x="259.00" y="48.00" width="8.05" height="8.05" fill="#ffc300"/><rect x="267.00" y="48.00" width="32.05" height="8.05" fill="#ff0000"/><rect x="299.00" y="48.00" width="8.05" height="8.05" fill="#98f783"/><rect x="27.00" y="56.00" width="8.05" height="8.05" fill="#0000f0"/><rect x="35.00" y="56.00" width="8.05" height="8.05" fill="#00c5ff"/><rect x="43.00" y="56.00" width="16.05" height="8.05" fill="#ff0000"/><rect x="59.00" y="56.00" width="8.05" height="8.05" fill="#00c5ff"/><rect x="67.00" y="56.00" width="152.05" height="8.05" fill="#ff0000"/><rect x="219.00" y="56.00" width="8.05" height="8.05" fill="#98f783"/><rect x="227.00" y="56.00" width="16.05" height="8.05" fill="#ff0000"/><rect x="243.00" y="56.00" width="8.05" height="8.05" fill="#ffc300"/><rect x="251.00" y="56.00" width="8.05" height="8.05" fill="#98f783"/><rect x="259.00" y="56.00" width="8.05" height="8.05" fill="#ffc300"/><rect x="267.00" y="56.00" width="16.05" height="8.05" fill="#ff0000"/><rect x="283.00" y="56.00" width="24.05" height="8.05" fill="#98f783"/><rect x="35.00" y="64.00" width="8.05" height="8.05" fill="#00c5ff"/><rect x="43.00" y="64.00" width="8.05" height="8.05" fill="#0000f0"/><rect x="51.00" y="64.00" width="16.05" height="8.05" fill="#00c5ff"/><rect x="67.00" y="64.00" width="32.05" height="8.05" fill="#ff0000"/><rect x="99.00" y="64.00" width="16.05" height="8.05" fill="#00c5ff"/><rect x="115.00" y="64.00" width="80.05" height="8.05" fill="#ff0000"/><rect x="195.00" y="64.00" width="40.05" height="8.05" fill="#98f783"/><rect x="235.00" y="64.00" width="8.05" height="8.05" fill="#ffc300"/><rect x="243.00" y="64.00" width="8.05" height="8.05" fill="#98f783"/><rect x="251.00" y="64.00" width="8.05" height="8.05" fill="#ffc300"/><rect x="259.00" y="64.00" width="16.05" height="8.05" fill="#98f783"/><rect x="275.00" y="64.00" width="16.05" height="8.05" fill="#ff0000"/><rect x="291.00" y="64.00" width="16.05" height="8.05" fill="#98f783"/><rect x="35.00" y="72.00" width="16.05" height="8.05" fill="#00c5ff"/><rect x="51.00" y="72.00" width="128.05" height="8.05" fill="#ff0000"/><rect x="179.00" y="72.00" width="8.05" height="8.05" fill="#98f783"/><rect x="187.00" y="72.00" width="8.05" height="8.05" fill="#ff0000"/><rect x="195.00" y="72.00" width="32.05" height="8.05" fill="#98f783"/><rect x="227.00" y="72.00" width="8.05" height="8.05" fill="#ffc300"/><rect x="235.00" y="72.00" width="8.05" height="8.05" fill="#ff0000"/><rect x="243.00" y="72.00" width="8.05" height="8.05" fill="#98f783"/><rect x="251.00" y="72.00" width="8.05" height="8.05" fill="#00c5ff"/><rect x="259.00" y="72.00" width="16.05" height="8.05" fill="#98f783"/><rect x="275.00" y="72.00" width="24.05" height="8.05" fill="#ff0000"/><rect x="299.00" y="72.00" width="8.05" height="8.05" fill="#98f783"/><rect x="307.00" y="72.00" width="8.05" height="8.05" fill="#ffc300"/><rect x="35.00" y="80.00" width="8.05" height="8.05" fill="#00c5ff"/><rect x="43.00" y="80.00" width="8.05" height="8.05" fill="#98f783"/><rect x="51.00" y="80.00" width="96.05" height="8.05" fill="#ff0000"/><rect x="147.00" y="80.00" width="8.05" height="8.05" fill="#98f783"/><rect x="155.00" y="80.00" width="8.05" height="8.05" fill="#00c5ff"/><rect x="163.00" y="80.00" width="8.05" height="8.05" fill="#ff0000"/><rect x="171.00" y="80.00" width="48.05" height="8.05" fill="#98f783"/><rect x="219.00" y="80.00" width="8.05" height="8.05" fill="#ff0000"/><rect x="227.00" y="80.00" width="8.05" height="8.05" fill="#00c5ff"/><rect x="235.00" y="80.00" width="8.05" height="8.05" fill="#0000f0"/><rect x="243.00" y="80.00" width="40.05" height="8.05" fill="#98f783"/><rect x="283.00" y="80.00" width="8.05" height="8.05" fill="#ff0000"/><rect x="291.00" y="80.00" width="16.05" height="8.05" fill="#98f783"/><rect x="307.00" y="80.00" width="16.05" height="8.05" fill="#ffc300"/><rect x="35.00" y="88.00" width="8.05" height="8.05" fill="#0000f0"/><rect x="43.00" y="88.00" width="8.05" height="8.05" fill="#00c5ff"/><rect x="51.00" y="88.00" width="8.05" height="8.05" fill="#98f783"/><rect x="59.00" y="88.00" width="112.05" height="8.05" fill="#ff0000"/><rect x="171.00" y="88.00" width="24.05" height="8.05" fill="#98f783"/><rect x="195.00" y="88.00" width="8.05" height="8.05" fill="#00c5ff"/><rect x="203.00" y="88.00" width="16.05" height="8.05" fill="#0000f0"/><rect x="219.00" y="88.00" width="16.05" height="8.05" fill="#00c5ff"/><rect x="235.00" y="88.00" width="8.05" height="8.05" fill="#0000f0"/><rect x="243.00" y="88.00" width="16.05" height="8.05" fill="#98f783"/><rect x="259.00" y="88.00" width="8.05" height="8.05" fill="#00c5ff"/><rect x="267.00" y="88.00" width="24.05" height="8.05" fill="#98f783"/><rect x="291.00" y="88.00" width="8.05" height="8.05" fill="#00c5ff"/><rect x="299.00" y="88.00" width="8.05" height="8.05" fill="#98f783"/><rect x="307.00" y="88.00" width="8.05" height="8.05" fill="#ff0000"/><rect x="35.00" y="96.00" width="24.05" height="8.05" fill="#98f783"/><rect x="59.00" y="96.00" width="8.05" height="8.05" fill="#ff0000"/><rect x="67.00" y="96.00" width="8.05" height="8.05" fill="#98f783"/><rect x="75.00" y="96.00" width="56.05" height="8.05" fill="#ff0000"/><rect x="131.00" y="96.00" width="8.05" height="8.05" fill="#98f783"/><rect x="139.00" y="96.00" width="32.05" height="8.05" fill="#ff0000"/><rect x="171.00" y="96.00" width="16.05" height="8.05" fill="#98f783"/><rect x="187.00" y="96.00" width="24.05" height="8.05" fill="#00c5ff"/><rect x="211.00" y="96.00" width="16.05" height="8.05" fill="#0000f0"/><rect x="227.00" y="96.00" width="16.05" height="8.05" fill="#00c5ff"/><rect x="243.00" y="96.00" width="16.05" height="8.05" fill="#98f783"/><rect x="259.00" y="96.00" width="16.05" height="8.05" fill="#00c5ff"/><rect x="275.00" y="96.00" width="8.05" height="8.05" fill="#98f783"/><rect x="283.00" y="96.00" width="16.05" height="8.05" fill="#00c5ff"/><rect x="299.00" y="96.00" width="16.05" height="8.05" fill="#ff0000"/><rect x="43.00" y="104.00" width="16.05" height="8.05" fill="#98f783"/><rect x="59.00" y="104.00" width="8.05" height="8.05" fill="#ff0000"/><rect x="67.00" y="104.00" width="8.05" height="8.05" fill="#98f783"/><rect x="75.00" y="104.00" width="8.05" height="8.05" fill="#00c5ff"/><rect x="83.00" y="104.00" width="16.05" height="8.05" fill="#ff0000"/><rect x="99.00" y="104.00" width="40.05" height="8.05" fill="#98f783"/><rect x="139.00" y="104.00" width="8.05" height="8.05" fill="#00c5ff"/><rect x="147.00" y="104.00" width="16.05" height="8.05" fill="#0000f0"/><rect x="163.00" y="104.00" width="8.05" height="8.05" fill="#00c5ff"/><rect x="171.00" y="104.00" width="24.05" height="8.05" fill="#0000f0"/><rect x="195.00" y="104.00" width="24.05" height="8.05" fill="#00c5ff"/><rect x="219.00" y="104.00" width="16.05" height="8.05" fill="#0000f0"/><rect x="235.00" y="104.00" width="8.05" height="8.05" fill="#00c5ff"/><rect x="243.00" y="104.00" width="16.05" height="8.05" fill="#98f783"/><rect x="259.00" y="104.00" width="8.05" height="8.05" fill="#0000f0"/><rect x="267.00" y="104.00" width="8.05" height="8.05" fill="#98f783"/><rect x="275.00" y="104.00" width="16.05" height="8.05" fill="#00c5ff"/><rect x="291.00" y="104.00" width="8.05" height="8.05" fill="#98f783"/><rect x="67.00" y="112.00" width="16.05" height="8.05" fill="#00c5ff"/><rect x="83.00" y="112.00" width="8.05" height="8.05" fill="#98f783"/><rect x="91.00" y="112.00" width="8.05" height="8.05" fill="#ff0000"/><rect x="99.00" y="112.00" width="8.05" height="8.05" fill="#98f783"/><rect x="107.00" y="112.00" width="8.05" height="8.05" fill="#ff0000"/><rect x="115.00" y="112.00" width="8.05" height="8.05" fill="#ffc300"/><rect x="123.00" y="112.00" width="16.05" height="8.05" fill="#98f783"/><rect x="139.00" y="112.00" width="8.05" height="8.05" fill="#00c5ff"/><rect x="147.00" y="112.00" width="16.05" height="8.05" fill="#0000f0"/><rect x="163.00" y="112.00" width="8.05" height="8.05" fill="#00c5ff"/><rect x="171.00" y="112.00" width="8.05" height="8.05" fill="#0000f0"/><rect x="179.00" y="112.00" width="8.05" height="8.05" fill="#00c5ff"/><rect x="187.00" y="112.00" width="16.05" height="8.05" fill="#0000f0"/><rect x="203.00" y="112.00" width="8.05" height="8.05" fill="#00c5ff"/><rect x="211.00" y="112.00" width="8.05" height="8.05" fill="#98f783"/><rect x="219.00" y="112.00" width="8.05" height="8.05" fill="#00c5ff"/><rect x="227.00" y="112.00" width="8.05" height="8.05" fill="#0000f0"/><rect x="235.00" y="112.00" width="8.05" height="8.05" fill="#00c5ff"/><rect x="243.00" y="112.00" width="16.05" height="8.05" fill="#98f783"/><rect x="259.00" y="112.00" width="8.05" height="8.05" fill="#0000f0"/><rect x="267.00" y="112.00" width="16.05" height="8.05" fill="#98f783"/><rect x="283.00" y="112.00" width="8.05" height="8.05" fill="#00c5ff"/><rect x="83.00" y="120.00" width="8.05" height="8.05" fill="#98f783"/><rect x="91.00" y="120.00" width="24.05" height="8.05" fill="#ff0000"/><rect x="115.00" y="120.00" width="8.05" height="8.05" fill="#ffc300"/><rect x="123.00" y="120.00" width="16.05" height="8.05" fill="#ff0000"/><rect x="139.00" y="120.00" width="16.05" height="8.05" fill="#ffc300"/><rect x="155.00" y="120.00" width="24.05" height="8.05" fill="#ff0000"/><rect x="179.00" y="120.00" width="8.05" height="8.05" fill="#98f783"/><rect x="187.00" y="120.00" width="16.05" height="8.05" fill="#00c5ff"/><rect x="203.00" y="120.00" width="8.05" height="8.05" fill="#98f783"/><rect x="211.00" y="120.00" width="8.05" height="8.05" fill="#ffc300"/><rect x="219.00" y="120.00" width="8.05" height="8.05" fill="#00c5ff"/><rect x="227.00" y="120.00" width="8.05" height="8.05" fill="#0000f0"/><rect x="235.00" y="120.00" width="16.05" height="8.05" fill="#00c5ff"/><rect x="251.00" y="120.00" width="8.05" height="8.05" fill="#98f783"/><rect x="259.00" y="120.00" width="8.05" height="8.05" fill="#ff0000"/><rect x="267.00" y="120.00" width="8.05" height="8.05" fill="#98f783"/><rect x="275.00" y="120.00" width="8.05" height="8.05" fill="#ffc300"/><rect x="283.00" y="120.00" width="8.05" height="8.05" fill="#00c5ff"/><rect x="99.00" y="128.00" width="8.05" height="8.05" fill="#98f783"/><rect x="107.00" y="128.00" width="16.05" height="8.05" fill="#00c5ff"/><rect x="123.00" y="128.00" width="16.05" height="8.05" fill="#98f783"/><rect x="139.00" y="128.00" width="8.05" height="8.05" fill="#ff0000"/><rect x="147.00" y="128.00" width="8.05" height="8.05" fill="#98f783"/><rect x="155.00" y="128.00" width="8.05" height="8.05" fill="#ff0000"/><rect x="163.00" y="128.00" width="8.05" height="8.05" fill="#00c5ff"/><rect x="171.00" y="128.00" width="8.05" height="8.05" fill="#0000f0"/><rect x="179.00" y="128.00" width="8.05" height="8.05" fill="#98f783"/><rect x="187.00" y="128.00" width="16.05" height="8.05" fill="#ffc300"/><rect x="203.00" y="128.00" width="16.05" height="8.05" fill="#ff0000"/><rect x="219.00" y="128.00" width="16.05" height="8.05" fill="#98f783"/><rect x="235.00" y="128.00" width="8.05" height="8.05" fill="#00c5ff"/><rect x="243.00" y="128.00" width="8.05" height="8.05" fill="#98f783"/><rect x="251.00" y="128.00" width="8.05" height="8.05" fill="#ff0000"/><rect x="259.00" y="128.00" width="8.05" height="8.05" fill="#98f783"/><rect x="267.00" y="128.00" width="24.05" height="8.05" fill="#ffc300"/><rect x="123.00" y="136.00" width="16.05" height="8.05" fill="#00c5ff"/><rect x="147.00" y="136.00" width="8.05" height="8.05" fill="#98f783"/><rect x="171.00" y="136.00" width="8.05" height="8.05" fill="#98f783"/><rect x="179.00" y="136.00" width="8.05" height="8.05" fill="#ff0000"/><rect x="187.00" y="136.00" width="8.05" height="8.05" fill="#ffc300"/><rect x="195.00" y="136.00" width="16.05" height="8.05" fill="#ff0000"/><rect x="251.00" y="136.00" width="24.05" height="8.05" fill="#ffc300"/><rect x="179.00" y="144.00" width="8.05" height="8.05" fill="#ff0000"/><rect x="187.00" y="144.00" width="16.05" height="8.05" fill="#ffc300"/><rect x="251.00" y="144.00" width="8.05" height="8.05" fill="#ff0000"/><rect x="259.00" y="144.00" width="8.05" height="8.05" fill="#ffc300"/><rect x="251.00" y="152.00" width="8.05" height="8.05" fill="#ff0000"/><rect x="228.70" y="9.70" width="4.6" height="4.6" fill="#00c5ff"/><rect x="148.70" y="17.70" width="4.6" height="4.6" fill="#98f783"/><rect x="244.70" y="25.70" width="4.6" height="4.6" fill="#00c5ff"/><rect x="108.70" y="33.70" width="4.6" height="4.6" fill="#98f783"/><rect x="276.70" y="49.70" width="4.6" height="4.6" fill="#ffc300"/><rect x="164.70" y="73.70" width="4.6" height="4.6" fill="#00c5ff"/><rect x="212.70" y="73.70" width="4.6" height="4.6" fill="#0000f0"/><rect x="180.70" y="81.70" width="4.6" height="4.6" fill="#00c5ff"/><rect x="100.70" y="89.70" width="4.6" height="4.6" fill="#98f783"/><rect x="276.70" y="89.70" width="4.6" height="4.6" fill="#ff0000"/></g><rect x="0" y="0" width="317.7" height="164.8" fill="none" stroke="#404040" stroke-width="1.2" shape-rendering="geometricPrecision"/><line x1="49.4" y1="-2.6" x2="49.4" y2="0" stroke="#333" stroke-width="0.9"/><text x="49.699999999999996" y="-5.6" class="lb" text-anchor="middle">80° E</text><line x1="103.8" y1="-2.6" x2="103.8" y2="0" stroke="#333" stroke-width="0.9"/><text x="104.1" y="-5.6" class="lb" text-anchor="middle">85° E</text><line x1="158.2" y1="-2.6" x2="158.2" y2="0" stroke="#333" stroke-width="0.9"/><text x="158.5" y="-5.6" class="lb" text-anchor="middle">90° E</text><line x1="212.6" y1="-2.6" x2="212.6" y2="0" stroke="#333" stroke-width="0.9"/><text x="212.9" y="-5.6" class="lb" text-anchor="middle">95° E</text><line x1="267.0" y1="-2.6" x2="267.0" y2="0" stroke="#333" stroke-width="0.9"/><text x="267.3" y="-5.6" class="lb" text-anchor="middle">100° E</text><line x1="-2.9" y1="6.5" x2="0" y2="6.5" stroke="#333" stroke-width="0.9"/><text transform="translate(-5.3,6.5) rotate(-90)" x="0" y="0" class="lb" text-anchor="middle">40° N</text><line x1="-2.9" y1="60.8" x2="0" y2="60.8" stroke="#333" stroke-width="0.9"/><text transform="translate(-5.3,60.8) rotate(-90)" x="0" y="0" class="lb" text-anchor="middle">35° N</text><line x1="-2.9" y1="115.3" x2="0" y2="115.3" stroke="#333" stroke-width="0.9"/><text transform="translate(-5.3,115.3) rotate(-90)" x="0" y="0" class="lb" text-anchor="middle">30° N</text><text x="307.7" y="8.4" class="na" text-anchor="middle">N</text><path d="M307.5,10.7 L302,27.2 L307.4,20.8 Z" fill="#000" shape-rendering="geometricPrecision"/><path d="M307.5,10.7 L312.6,27.2 L307.4,20.8 Z" fill="#fff" stroke="#000" stroke-width="0.7" stroke-linejoin="miter" shape-rendering="geometricPrecision"/><path d="M307.5,10.7 L302,27.2 L307.4,20.8 Z" fill="#000" stroke="#000" stroke-width="0.5" shape-rendering="geometricPrecision"/><rect x="6.8" y="155.2" width="98.7" height="3.8" fill="#000"/><rect x="31.9" y="155.9" width="24.4" height="2.4" fill="#fff"/><text x="7.4" y="151.7" class="sb" text-anchor="middle">0</text><text x="31.7" y="151.7" class="sb" text-anchor="middle">250</text><text x="56.3" y="151.7" class="sb" text-anchor="middle">500</text><text x="105.4" y="151.7" class="sb" text-anchor="middle">1,000</text><text x="107.2" y="158.9" class="sb">km</text><text x="314.9" y="159.9" class="yr" text-anchor="end">1987</text></g><g transform="translate(359.4,750.8)"><g clip-path="url(#ol)"><rect x="187.00" y="8.00" width="24.05" height="8.05" fill="#ff0000"/><rect x="211.00" y="8.00" width="40.05" height="8.05" fill="#98f783"/><rect x="3.00" y="16.00" width="16.05" height="8.05" fill="#98f783"/><rect x="139.00" y="16.00" width="8.05" height="8.05" fill="#00c5ff"/><rect x="147.00" y="16.00" width="16.05" height="8.05" fill="#98f783"/><rect x="163.00" y="16.00" width="56.05" height="8.05" fill="#ff0000"/><rect x="219.00" y="16.00" width="24.05" height="8.05" fill="#98f783"/><rect x="243.00" y="16.00" width="16.05" height="8.05" fill="#ffc300"/><rect x="259.00" y="16.00" width="16.05" height="8.05" fill="#98f783"/><rect x="3.00" y="24.00" width="24.05" height="8.05" fill="#98f783"/><rect x="115.00" y="24.00" width="32.05" height="8.05" fill="#98f783"/><rect x="147.00" y="24.00" width="80.05" height="8.05" fill="#ff0000"/><rect x="227.00" y="24.00" width="8.05" height="8.05" fill="#98f783"/><rect x="235.00" y="24.00" width="32.05" height="8.05" fill="#ffc300"/><rect x="267.00" y="24.00" width="8.05" height="8.05" fill="#ff0000"/><rect x="275.00" y="24.00" width="8.05" height="8.05" fill="#98f783"/><rect x="283.00" y="24.00" width="8.05" height="8.05" fill="#00c5ff"/><rect x="3.00" y="32.00" width="8.05" height="8.05" fill="#00c5ff"/><rect x="11.00" y="32.00" width="40.05" height="8.05" fill="#98f783"/><rect x="91.00" y="32.00" width="8.05" height="8.05" fill="#ff0000"/><rect x="99.00" y="32.00" width="48.05" height="8.05" fill="#98f783"/><rect x="147.00" y="32.00" width="24.05" height="8.05" fill="#ff0000"/><rect x="171.00" y="32.00" width="32.05" height="8.05" fill="#98f783"/><rect x="203.00" y="32.00" width="32.05" height="8.05" fill="#ff0000"/><rect x="235.00" y="32.00" width="32.05" height="8.05" fill="#ffc300"/><rect x="267.00" y="32.00" width="16.05" height="8.05" fill="#ff0000"/><rect x="283.00" y="32.00" width="8.05" height="8.05" fill="#98f783"/><rect x="291.00" y="32.00" width="8.05" height="8.05" fill="#00c5ff"/><rect x="3.00" y="40.00" width="16.05" height="8.05" fill="#00c5ff"/><rect x="19.00" y="40.00" width="32.05" height="8.05" fill="#98f783"/><rect x="51.00" y="40.00" width="8.05" height="8.05" fill="#ffc300"/><rect x="59.00" y="40.00" width="32.05" height="8.05" fill="#ff0000"/><rect x="91.00" y="40.00" width="56.05" height="8.05" fill="#98f783"/><rect x="147.00" y="40.00" width="24.05" height="8.05" fill="#ff0000"/><rect x="171.00" y="40.00" width="64.05" height="8.05" fill="#98f783"/><rect x="235.00" y="40.00" width="16.05" height="8.05" fill="#ffc300"/><rect x="251.00" y="40.00" width="8.05" height="8.05" fill="#00c5ff"/><rect x="259.00" y="40.00" width="8.05" height="8.05" fill="#98f783"/><rect x="267.00" y="40.00" width="8.05" height="8.05" fill="#ffc300"/><rect x="275.00" y="40.00" width="8.05" height="8.05" fill="#ff0000"/><rect x="283.00" y="40.00" width="16.05" height="8.05" fill="#98f783"/><rect x="11.00" y="48.00" width="8.05" height="8.05" fill="#00c5ff"/><rect x="19.00" y="48.00" width="8.05" height="8.05" fill="#98f783"/><rect x="27.00" y="48.00" width="16.05" height="8.05" fill="#ffc300"/><rect x="43.00" y="48.00" width="48.05" height="8.05" fill="#ff0000"/><rect x="91.00" y="48.00" width="48.05" height="8.05" fill="#98f783"/><rect x="139.00" y="48.00" width="48.05" height="8.05" fill="#ff0000"/><rect x="187.00" y="48.00" width="56.05" height="8.05" fill="#98f783"/><rect x="243.00" y="48.00" width="8.05" height="8.05" fill="#ffc300"/><rect x="251.00" y="48.00" width="16.05" height="8.05" fill="#98f783"/><rect x="267.00" y="48.00" width="16.05" height="8.05" fill="#ffc300"/><rect x="283.00" y="48.00" width="24.05" height="8.05" fill="#98f783"/><rect x="27.00" y="56.00" width="16.05" height="8.05" fill="#ffc300"/><rect x="43.00" y="56.00" width="48.05" height="8.05" fill="#ff0000"/><rect x="91.00" y="56.00" width="24.05" height="8.05" fill="#98f783"/><rect x="115.00" y="56.00" width="16.05" height="8.05" fill="#ff0000"/><rect x="131.00" y="56.00" width="8.05" height="8.05" fill="#98f783"/><rect x="139.00" y="56.00" width="56.05" height="8.05" fill="#ff0000"/><rect x="195.00" y="56.00" width="40.05" height="8.05" fill="#98f783"/><rect x="235.00" y="56.00" width="16.05" height="8.05" fill="#ffc300"/><rect x="251.00" y="56.00" width="8.05" height="8.05" fill="#98f783"/><rect x="259.00" y="56.00" width="8.05" height="8.05" fill="#00c5ff"/><rect x="267.00" y="56.00" width="8.05" height="8.05" fill="#98f783"/><rect x="275.00" y="56.00" width="32.05" height="8.05" fill="#ff0000"/><rect x="35.00" y="64.00" width="32.05" height="8.05" fill="#ffc300"/><rect x="67.00" y="64.00" width="24.05" height="8.05" fill="#ff0000"/><rect x="91.00" y="64.00" width="24.05" height="8.05" fill="#98f783"/><rect x="115.00" y="64.00" width="8.05" height="8.05" fill="#ffc300"/><rect x="123.00" y="64.00" width="32.05" height="8.05" fill="#ff0000"/><rect x="155.00" y="64.00" width="24.05" height="8.05" fill="#ffc300"/><rect x="179.00" y="64.00" width="16.05" height="8.05" fill="#ff0000"/><rect x="195.00" y="64.00" width="64.05" height="8.05" fill="#98f783"/><rect x="259.00" y="64.00" width="8.05" height="8.05" fill="#00c5ff"/><rect x="267.00" y="64.00" width="16.05" height="8.05" fill="#98f783"/><rect x="283.00" y="64.00" width="24.05" height="8.05" fill="#ff0000"/><rect x="35.00" y="72.00" width="32.05" height="8.05" fill="#ffc300"/><rect x="67.00" y="72.00" width="8.05" height="8.05" fill="#98f783"/><rect x="75.00" y="72.00" width="16.05" height="8.05" fill="#ff0000"/><rect x="91.00" y="72.00" width="56.05" height="8.05" fill="#98f783"/><rect x="147.00" y="72.00" width="16.05" height="8.05" fill="#ff0000"/><rect x="163.00" y="72.00" width="120.05" height="8.05" fill="#98f783"/><rect x="283.00" y="72.00" width="32.05" height="8.05" fill="#ff0000"/><rect x="35.00" y="80.00" width="8.05" height="8.05" fill="#98f783"/><rect x="43.00" y="80.00" width="24.05" height="8.05" fill="#ffc300"/><rect x="67.00" y="80.00" width="24.05" height="8.05" fill="#ff0000"/><rect x="91.00" y="80.00" width="144.05" height="8.05" fill="#98f783"/><rect x="235.00" y="80.00" width="16.05" height="8.05" fill="#00c5ff"/><rect x="251.00" y="80.00" width="32.05" height="8.05" fill="#98f783"/><rect x="283.00" y="80.00" width="16.05" height="8.05" fill="#ff0000"/><rect x="299.00" y="80.00" width="16.05" height="8.05" fill="#00c5ff"/><rect x="315.00" y="80.00" width="8.05" height="8.05" fill="#ff0000"/><rect x="35.00" y="88.00" width="8.05" height="8.05" fill="#98f783"/><rect x="43.00" y="88.00" width="32.05" height="8.05" fill="#ffc300"/><rect x="75.00" y="88.00" width="32.05" height="8.05" fill="#ff0000"/><rect x="107.00" y="88.00" width="16.05" height="8.05" fill="#98f783"/><rect x="123.00" y="88.00" width="32.05" height="8.05" fill="#ff0000"/><rect x="155.00" y="88.00" width="8.05" height="8.05" fill="#98f783"/><rect x="163.00" y="88.00" width="16.05" height="8.05" fill="#ff0000"/><rect x="179.00" y="88.00" width="16.05" height="8.05" fill="#98f783"/><rect x="195.00" y="88.00" width="16.05" height="8.05" fill="#00c5ff"/><rect x="211.00" y="88.00" width="8.05" height="8.05" fill="#0000f0"/><rect x="219.00" y="88.00" width="8.05" height="8.05" fill="#00c5ff"/><rect x="227.00" y="88.00" width="8.05" height="8.05" fill="#98f783"/><rect x="235.00" y="88.00" width="8.05" height="8.05" fill="#00c5ff"/><rect x="243.00" y="88.00" width="40.05" height="8.05" fill="#98f783"/><rect x="283.00" y="88.00" width="24.05" height="8.05" fill="#00c5ff"/><rect x="307.00" y="88.00" width="8.05" height="8.05" fill="#ff0000"/><rect x="35.00" y="96.00" width="8.05" height="8.05" fill="#98f783"/><rect x="43.00" y="96.00" width="24.05" height="8.05" fill="#ffc300"/><rect x="67.00" y="96.00" width="8.05" height="8.05" fill="#98f783"/><rect x="75.00" y="96.00" width="8.05" height="8.05" fill="#ff0000"/><rect x="83.00" y="96.00" width="8.05" height="8.05" fill="#98f783"/><rect x="91.00" y="96.00" width="88.05" height="8.05" fill="#ff0000"/><rect x="179.00" y="96.00" width="8.05" height="8.05" fill="#98f783"/><rect x="187.00" y="96.00" width="8.05" height="8.05" fill="#00c5ff"/><rect x="195.00" y="96.00" width="32.05" height="8.05" fill="#0000f0"/><rect x="227.00" y="96.00" width="8.05" height="8.05" fill="#00c5ff"/><rect x="235.00" y="96.00" width="24.05" height="8.05" fill="#98f783"/><rect x="259.00" y="96.00" width="48.05" height="8.05" fill="#00c5ff"/><rect x="307.00" y="96.00" width="8.05" height="8.05" fill="#ff0000"/><rect x="43.00" y="104.00" width="16.05" height="8.05" fill="#00c5ff"/><rect x="59.00" y="104.00" width="16.05" height="8.05" fill="#98f783"/><rect x="75.00" y="104.00" width="8.05" height="8.05" fill="#00c5ff"/><rect x="83.00" y="104.00" width="16.05" height="8.05" fill="#98f783"/><rect x="99.00" y="104.00" width="24.05" height="8.05" fill="#ff0000"/><rect x="123.00" y="104.00" width="32.05" height="8.05" fill="#98f783"/><rect x="155.00" y="104.00" width="40.05" height="8.05" fill="#00c5ff"/><rect x="195.00" y="104.00" width="8.05" height="8.05" fill="#0000f0"/><rect x="203.00" y="104.00" width="40.05" height="8.05" fill="#00c5ff"/><rect x="243.00" y="104.00" width="16.05" height="8.05" fill="#98f783"/><rect x="259.00" y="104.00" width="32.05" height="8.05" fill="#00c5ff"/><rect x="291.00" y="104.00" width="8.05" height="8.05" fill="#ff0000"/><rect x="67.00" y="112.00" width="16.05" height="8.05" fill="#00c5ff"/><rect x="83.00" y="112.00" width="48.05" height="8.05" fill="#98f783"/><rect x="131.00" y="112.00" width="8.05" height="8.05" fill="#ffc300"/><rect x="139.00" y="112.00" width="8.05" height="8.05" fill="#98f783"/><rect x="147.00" y="112.00" width="8.05" height="8.05" fill="#ffc300"/><rect x="155.00" y="112.00" width="32.05" height="8.05" fill="#98f783"/><rect x="187.00" y="112.00" width="40.05" height="8.05" fill="#00c5ff"/><rect x="227.00" y="112.00" width="16.05" height="8.05" fill="#0000f0"/><rect x="243.00" y="112.00" width="8.05" height="8.05" fill="#00c5ff"/><rect x="251.00" y="112.00" width="8.05" height="8.05" fill="#98f783"/><rect x="259.00" y="112.00" width="24.05" height="8.05" fill="#00c5ff"/><rect x="283.00" y="112.00" width="8.05" height="8.05" fill="#0000f0"/><rect x="83.00" y="120.00" width="32.05" height="8.05" fill="#98f783"/><rect x="115.00" y="120.00" width="40.05" height="8.05" fill="#ffc300"/><rect x="155.00" y="120.00" width="32.05" height="8.05" fill="#98f783"/><rect x="187.00" y="120.00" width="24.05" height="8.05" fill="#00c5ff"/><rect x="211.00" y="120.00" width="8.05" height="8.05" fill="#ff0000"/><rect x="219.00" y="120.00" width="8.05" height="8.05" fill="#00c5ff"/><rect x="227.00" y="120.00" width="24.05" height="8.05" fill="#0000f0"/><rect x="251.00" y="120.00" width="16.05" height="8.05" fill="#00c5ff"/><rect x="267.00" y="120.00" width="8.05" height="8.05" fill="#0000f0"/><rect x="275.00" y="120.00" width="8.05" height="8.05" fill="#00c5ff"/><rect x="283.00" y="120.00" width="8.05" height="8.05" fill="#0000f0"/><rect x="99.00" y="128.00" width="24.05" height="8.05" fill="#98f783"/><rect x="123.00" y="128.00" width="16.05" height="8.05" fill="#ffc300"/><rect x="139.00" y="128.00" width="48.05" height="8.05" fill="#98f783"/><rect x="187.00" y="128.00" width="8.05" height="8.05" fill="#00c5ff"/><rect x="195.00" y="128.00" width="32.05" height="8.05" fill="#ff0000"/><rect x="227.00" y="128.00" width="8.05" height="8.05" fill="#00c5ff"/><rect x="235.00" y="128.00" width="8.05" height="8.05" fill="#ff0000"/><rect x="243.00" y="128.00" width="8.05" height="8.05" fill="#00c5ff"/><rect x="251.00" y="128.00" width="40.05" height="8.05" fill="#ff0000"/><rect x="123.00" y="136.00" width="32.05" height="8.05" fill="#98f783"/><rect x="171.00" y="136.00" width="48.05" height="8.05" fill="#ff0000"/><rect x="251.00" y="136.00" width="32.05" height="8.05" fill="#ff0000"/><rect x="179.00" y="144.00" width="24.05" height="8.05" fill="#ff0000"/><rect x="251.00" y="144.00" width="16.05" height="8.05" fill="#ff0000"/><rect x="251.00" y="152.00" width="8.05" height="8.05" fill="#ff0000"/><rect x="12.70" y="25.70" width="4.6" height="4.6" fill="#ff0000"/><rect x="164.70" y="25.70" width="4.6" height="4.6" fill="#98f783"/><rect x="36.70" y="33.70" width="4.6" height="4.6" fill="#ffc300"/><rect x="132.70" y="33.70" width="4.6" height="4.6" fill="#ff0000"/><rect x="60.70" y="49.70" width="4.6" height="4.6" fill="#98f783"/><rect x="76.70" y="49.70" width="4.6" height="4.6" fill="#98f783"/><rect x="252.70" y="73.70" width="4.6" height="4.6" fill="#00c5ff"/><rect x="252.70" y="89.70" width="4.6" height="4.6" fill="#00c5ff"/><rect x="268.70" y="105.70" width="4.6" height="4.6" fill="#98f783"/><rect x="100.70" y="121.70" width="4.6" height="4.6" fill="#ff0000"/><rect x="164.70" y="121.70" width="4.6" height="4.6" fill="#ffc300"/></g><rect x="0" y="0" width="317.7" height="164.8" fill="none" stroke="#404040" stroke-width="1.2" shape-rendering="geometricPrecision"/><line x1="49.4" y1="-2.6" x2="49.4" y2="0" stroke="#333" stroke-width="0.9"/><text x="49.699999999999996" y="-5.6" class="lb" text-anchor="middle">80° E</text><line x1="103.8" y1="-2.6" x2="103.8" y2="0" stroke="#333" stroke-width="0.9"/><text x="104.1" y="-5.6" class="lb" text-anchor="middle">85° E</text><line x1="158.2" y1="-2.6" x2="158.2" y2="0" stroke="#333" stroke-width="0.9"/><text x="158.5" y="-5.6" class="lb" text-anchor="middle">90° E</text><line x1="212.6" y1="-2.6" x2="212.6" y2="0" stroke="#333" stroke-width="0.9"/><text x="212.9" y="-5.6" class="lb" text-anchor="middle">95° E</text><line x1="267.0" y1="-2.6" x2="267.0" y2="0" stroke="#333" stroke-width="0.9"/><text x="267.3" y="-5.6" class="lb" text-anchor="middle">100° E</text><line x1="-2.9" y1="6.5" x2="0" y2="6.5" stroke="#333" stroke-width="0.9"/><text transform="translate(-5.3,6.5) rotate(-90)" x="0" y="0" class="lb" text-anchor="middle">40° N</text><line x1="-2.9" y1="60.8" x2="0" y2="60.8" stroke="#333" stroke-width="0.9"/><text transform="translate(-5.3,60.8) rotate(-90)" x="0" y="0" class="lb" text-anchor="middle">35° N</text><line x1="-2.9" y1="115.3" x2="0" y2="115.3" stroke="#333" stroke-width="0.9"/><text transform="translate(-5.3,115.3) rotate(-90)" x="0" y="0" class="lb" text-anchor="middle">30° N</text><text x="307.7" y="8.4" class="na" text-anchor="middle">N</text><path d="M307.5,10.7 L302,27.2 L307.4,20.8 Z" fill="#000" shape-rendering="geometricPrecision"/><path d="M307.5,10.7 L312.6,27.2 L307.4,20.8 Z" fill="#fff" stroke="#000" stroke-width="0.7" stroke-linejoin="miter" shape-rendering="geometricPrecision"/><path d="M307.5,10.7 L302,27.2 L307.4,20.8 Z" fill="#000" stroke="#000" stroke-width="0.5" shape-rendering="geometricPrecision"/><rect x="6.8" y="155.2" width="98.7" height="3.8" fill="#000"/><rect x="31.9" y="155.9" width="24.4" height="2.4" fill="#fff"/><text x="7.4" y="151.7" class="sb" text-anchor="middle">0</text><text x="31.7" y="151.7" class="sb" text-anchor="middle">250</text><text x="56.3" y="151.7" class="sb" text-anchor="middle">500</text><text x="105.4" y="151.7" class="sb" text-anchor="middle">1,000</text><text x="107.2" y="158.9" class="sb">km</text><text x="314.9" y="159.9" class="yr" text-anchor="end">1993</text></g><g transform="translate(697.0,750.8)"><g clip-path="url(#ol)"><rect x="187.00" y="8.00" width="24.05" height="8.05" fill="#ff0000"/><rect x="211.00" y="8.00" width="24.05" height="8.05" fill="#98f783"/><rect x="235.00" y="8.00" width="16.05" height="8.05" fill="#ff0000"/><rect x="3.00" y="16.00" width="8.05" height="8.05" fill="#ffc300"/><rect x="11.00" y="16.00" width="8.05" height="8.05" fill="#ff0000"/><rect x="139.00" y="16.00" width="16.05" height="8.05" fill="#98f783"/><rect x="155.00" y="16.00" width="64.05" height="8.05" fill="#ff0000"/><rect x="219.00" y="16.00" width="16.05" height="8.05" fill="#98f783"/><rect x="235.00" y="16.00" width="24.05" height="8.05" fill="#ff0000"/><rect x="259.00" y="16.00" width="8.05" height="8.05" fill="#ffc300"/><rect x="267.00" y="16.00" width="8.05" height="8.05" fill="#98f783"/><rect x="3.00" y="24.00" width="8.05" height="8.05" fill="#ffc300"/><rect x="11.00" y="24.00" width="16.05" height="8.05" fill="#ff0000"/><rect x="115.00" y="24.00" width="24.05" height="8.05" fill="#98f783"/><rect x="139.00" y="24.00" width="80.05" height="8.05" fill="#ff0000"/><rect x="219.00" y="24.00" width="16.05" height="8.05" fill="#98f783"/><rect x="235.00" y="24.00" width="40.05" height="8.05" fill="#ff0000"/><rect x="275.00" y="24.00" width="8.05" height="8.05" fill="#98f783"/><rect x="283.00" y="24.00" width="8.05" height="8.05" fill="#00c5ff"/><rect x="3.00" y="32.00" width="16.05" height="8.05" fill="#98f783"/><rect x="19.00" y="32.00" width="32.05" height="8.05" fill="#ff0000"/><rect x="91.00" y="32.00" width="8.05" height="8.05" fill="#ff0000"/><rect x="99.00" y="32.00" width="16.05" height="8.05" fill="#98f783"/><rect x="115.00" y="32.00" width="48.05" height="8.05" fill="#ff0000"/><rect x="163.00" y="32.00" width="8.05" height="8.05" fill="#98f783"/><rect x="171.00" y="32.00" width="8.05" height="8.05" fill="#ffc300"/><rect x="179.00" y="32.00" width="104.05" height="8.05" fill="#ff0000"/><rect x="283.00" y="32.00" width="16.05" height="8.05" fill="#98f783"/><rect x="3.00" y="40.00" width="16.05" height="8.05" fill="#00c5ff"/><rect x="19.00" y="40.00" width="8.05" height="8.05" fill="#98f783"/><rect x="27.00" y="40.00" width="40.05" height="8.05" fill="#ff0000"/><rect x="67.00" y="40.00" width="16.05" height="8.05" fill="#ffc300"/><rect x="83.00" y="40.00" width="88.05" height="8.05" fill="#ff0000"/><rect x="171.00" y="40.00" width="32.05" height="8.05" fill="#ffc300"/><rect x="203.00" y="40.00" width="40.05" height="8.05" fill="#ff0000"/><rect x="243.00" y="40.00" width="16.05" height="8.05" fill="#98f783"/><rect x="259.00" y="40.00" width="40.05" height="8.05" fill="#ff0000"/><rect x="11.00" y="48.00" width="8.05" height="8.05" fill="#00c5ff"/><rect x="19.00" y="48.00" width="24.05" height="8.05" fill="#ff0000"/><rect x="43.00" y="48.00" width="16.05" height="8.05" fill="#ffc300"/><rect x="59.00" y="48.00" width="8.05" height="8.05" fill="#ff0000"/><rect x="67.00" y="48.00" width="8.05" height="8.05" fill="#ffc300"/><rect x="75.00" y="48.00" width="88.05" height="8.05" fill="#ff0000"/><rect x="163.00" y="48.00" width="72.05" height="8.05" fill="#98f783"/><rect x="235.00" y="48.00" width="8.05" height="8.05" fill="#ffc300"/><rect x="243.00" y="48.00" width="16.05" height="8.05" fill="#98f783"/><rect x="259.00" y="48.00" width="48.05" height="8.05" fill="#ff0000"/><rect x="27.00" y="56.00" width="168.05" height="8.05" fill="#ff0000"/><rect x="195.00" y="56.00" width="8.05" height="8.05" fill="#ffc300"/><rect x="203.00" y="56.00" width="56.05" height="8.05" fill="#ff0000"/><rect x="259.00" y="56.00" width="8.05" height="8.05" fill="#00c5ff"/><rect x="267.00" y="56.00" width="8.05" height="8.05" fill="#98f783"/><rect x="275.00" y="56.00" width="32.05" height="8.05" fill="#ff0000"/><rect x="35.00" y="64.00" width="152.05" height="8.05" fill="#ff0000"/><rect x="187.00" y="64.00" width="8.05" height="8.05" fill="#ffc300"/><rect x="195.00" y="64.00" width="32.05" height="8.05" fill="#ff0000"/><rect x="227.00" y="64.00" width="8.05" height="8.05" fill="#ffc300"/><rect x="235.00" y="64.00" width="16.05" height="8.05" fill="#ff0000"/><rect x="251.00" y="64.00" width="32.05" height="8.05" fill="#98f783"/><rect x="283.00" y="64.00" width="24.05" height="8.05" fill="#ff0000"/><rect x="35.00" y="72.00" width="128.05" height="8.05" fill="#ff0000"/><rect x="163.00" y="72.00" width="16.05" height="8.05" fill="#98f783"/><rect x="179.00" y="72.00" width="16.05" height="8.05" fill="#ffc300"/><rect x="195.00" y="72.00" width="8.05" height="8.05" fill="#ff0000"/><rect x="203.00" y="72.00" width="8.05" height="8.05" fill="#ffc300"/><rect x="211.00" y="72.00" width="16.05" height="8.05" fill="#98f783"/><rect x="227.00" y="72.00" width="8.05" height="8.05" fill="#ffc300"/><rect x="235.00" y="72.00" width="8.05" height="8.05" fill="#ff0000"/><rect x="243.00" y="72.00" width="24.05" height="8.05" fill="#98f783"/><rect x="267.00" y="72.00" width="8.05" height="8.05" fill="#ff0000"/><rect x="275.00" y="72.00" width="8.05" height="8.05" fill="#98f783"/><rect x="283.00" y="72.00" width="32.05" height="8.05" fill="#ff0000"/><rect x="35.00" y="80.00" width="120.05" height="8.05" fill="#ff0000"/><rect x="155.00" y="80.00" width="48.05" height="8.05" fill="#98f783"/><rect x="203.00" y="80.00" width="8.05" height="8.05" fill="#ffc300"/><rect x="211.00" y="80.00" width="24.05" height="8.05" fill="#98f783"/><rect x="235.00" y="80.00" width="16.05" height="8.05" fill="#00c5ff"/><rect x="251.00" y="80.00" width="16.05" height="8.05" fill="#98f783"/><rect x="267.00" y="80.00" width="16.05" height="8.05" fill="#ff0000"/><rect x="283.00" y="80.00" width="8.05" height="8.05" fill="#98f783"/><rect x="291.00" y="80.00" width="8.05" height="8.05" fill="#ff0000"/><rect x="299.00" y="80.00" width="8.05" height="8.05" fill="#98f783"/><rect x="307.00" y="80.00" width="16.05" height="8.05" fill="#ff0000"/><rect x="35.00" y="88.00" width="8.05" height="8.05" fill="#ffc300"/><rect x="43.00" y="88.00" width="136.05" height="8.05" fill="#ff0000"/><rect x="179.00" y="88.00" width="8.05" height="8.05" fill="#ffc300"/><rect x="187.00" y="88.00" width="16.05" height="8.05" fill="#98f783"/><rect x="203.00" y="88.00" width="8.05" height="8.05" fill="#00c5ff"/><rect x="211.00" y="88.00" width="16.05" height="8.05" fill="#0000f0"/><rect x="227.00" y="88.00" width="24.05" height="8.05" fill="#98f783"/><rect x="251.00" y="88.00" width="8.05" height="8.05" fill="#00c5ff"/><rect x="259.00" y="88.00" width="8.05" height="8.05" fill="#98f783"/><rect x="267.00" y="88.00" width="8.05" height="8.05" fill="#ff0000"/><rect x="275.00" y="88.00" width="16.05" height="8.05" fill="#98f783"/><rect x="291.00" y="88.00" width="16.05" height="8.05" fill="#00c5ff"/><rect x="307.00" y="88.00" width="8.05" height="8.05" fill="#ff0000"/><rect x="35.00" y="96.00" width="8.05" height="8.05" fill="#98f783"/><rect x="43.00" y="96.00" width="56.05" height="8.05" fill="#ff0000"/><rect x="99.00" y="96.00" width="16.05" height="8.05" fill="#ffc300"/><rect x="115.00" y="96.00" width="64.05" height="8.05" fill="#ff0000"/><rect x="179.00" y="96.00" width="8.05" height="8.05" fill="#ffc300"/><rect x="187.00" y="96.00" width="8.05" height="8.05" fill="#98f783"/><rect x="195.00" y="96.00" width="32.05" height="8.05" fill="#0000f0"/><rect x="227.00" y="96.00" width="8.05" height="8.05" fill="#00c5ff"/><rect x="235.00" y="96.00" width="8.05" height="8.05" fill="#98f783"/><rect x="243.00" y="96.00" width="16.05" height="8.05" fill="#ff0000"/><rect x="259.00" y="96.00" width="16.05" height="8.05" fill="#00c5ff"/><rect x="275.00" y="96.00" width="8.05" height="8.05" fill="#98f783"/><rect x="283.00" y="96.00" width="24.05" height="8.05" fill="#00c5ff"/><rect x="307.00" y="96.00" width="8.05" height="8.05" fill="#ff0000"/><rect x="43.00" y="104.00" width="16.05" height="8.05" fill="#00c5ff"/><rect x="59.00" y="104.00" width="16.05" height="8.05" fill="#ff0000"/><rect x="75.00" y="104.00" width="16.05" height="8.05" fill="#98f783"/><rect x="91.00" y="104.00" width="8.05" height="8.05" fill="#ff0000"/><rect x="99.00" y="104.00" width="8.05" height="8.05" fill="#98f783"/><rect x="107.00" y="104.00" width="16.05" height="8.05" fill="#ffc300"/><rect x="123.00" y="104.00" width="16.05" height="8.05" fill="#98f783"/><rect x="139.00" y="104.00" width="8.05" height="8.05" fill="#ff0000"/><rect x="147.00" y="104.00" width="8.05" height="8.05" fill="#ffc300"/><rect x="155.00" y="104.00" width="16.05" height="8.05" fill="#98f783"/><rect x="171.00" y="104.00" width="16.05" height="8.05" fill="#00c5ff"/><rect x="187.00" y="104.00" width="24.05" height="8.05" fill="#0000f0"/><rect x="211.00" y="104.00" width="8.05" height="8.05" fill="#00c5ff"/><rect x="219.00" y="104.00" width="8.05" height="8.05" fill="#0000f0"/><rect x="227.00" y="104.00" width="8.05" height="8.05" fill="#00c5ff"/><rect x="235.00" y="104.00" width="16.05" height="8.05" fill="#98f783"/><rect x="251.00" y="104.00" width="8.05" height="8.05" fill="#ff0000"/><rect x="259.00" y="104.00" width="16.05" height="8.05" fill="#00c5ff"/><rect x="275.00" y="104.00" width="8.05" height="8.05" fill="#98f783"/><rect x="283.00" y="104.00" width="16.05" height="8.05" fill="#00c5ff"/><rect x="67.00" y="112.00" width="16.05" height="8.05" fill="#00c5ff"/><rect x="83.00" y="112.00" width="8.05" height="8.05" fill="#ff0000"/><rect x="91.00" y="112.00" width="8.05" height="8.05" fill="#98f783"/><rect x="99.00" y="112.00" width="24.05" height="8.05" fill="#ffc300"/><rect x="123.00" y="112.00" width="24.05" height="8.05" fill="#ff0000"/><rect x="147.00" y="112.00" width="40.05" height="8.05" fill="#98f783"/><rect x="187.00" y="112.00" width="24.05" height="8.05" fill="#00c5ff"/><rect x="211.00" y="112.00" width="8.05" height="8.05" fill="#98f783"/><rect x="219.00" y="112.00" width="8.05" height="8.05" fill="#00c5ff"/><rect x="227.00" y="112.00" width="16.05" height="8.05" fill="#0000f0"/><rect x="243.00" y="112.00" width="8.05" height="8.05" fill="#00c5ff"/><rect x="251.00" y="112.00" width="8.05" height="8.05" fill="#98f783"/><rect x="259.00" y="112.00" width="32.05" height="8.05" fill="#00c5ff"/><rect x="83.00" y="120.00" width="8.05" height="8.05" fill="#98f783"/><rect x="91.00" y="120.00" width="96.05" height="8.05" fill="#ff0000"/><rect x="187.00" y="120.00" width="16.05" height="8.05" fill="#00c5ff"/><rect x="203.00" y="120.00" width="8.05" height="8.05" fill="#98f783"/><rect x="211.00" y="120.00" width="8.05" height="8.05" fill="#ff0000"/><rect x="219.00" y="120.00" width="8.05" height="8.05" fill="#00c5ff"/><rect x="227.00" y="120.00" width="24.05" height="8.05" fill="#0000f0"/><rect x="251.00" y="120.00" width="32.05" height="8.05" fill="#00c5ff"/><rect x="283.00" y="120.00" width="8.05" height="8.05" fill="#0000f0"/><rect x="99.00" y="128.00" width="8.05" height="8.05" fill="#98f783"/><rect x="107.00" y="128.00" width="8.05" height="8.05" fill="#ff0000"/><rect x="115.00" y="128.00" width="16.05" height="8.05" fill="#98f783"/><rect x="131.00" y="128.00" width="24.05" height="8.05" fill="#ff0000"/><rect x="155.00" y="128.00" width="32.05" height="8.05" fill="#98f783"/><rect x="187.00" y="128.00" width="40.05" height="8.05" fill="#ff0000"/><rect x="227.00" y="128.00" width="24.05" height="8.05" fill="#00c5ff"/><rect x="251.00" y="128.00" width="8.05" height="8.05" fill="#98f783"/><rect x="259.00" y="128.00" width="8.05" height="8.05" fill="#ff0000"/><rect x="267.00" y="128.00" width="8.05" height="8.05" fill="#00c5ff"/><rect x="275.00" y="128.00" width="16.05" height="8.05" fill="#ff0000"/><rect x="115.00" y="136.00" width="40.05" height="8.05" fill="#98f783"/><rect x="171.00" y="136.00" width="48.05" height="8.05" fill="#ff0000"/><rect x="227.00" y="136.00" width="8.05" height="8.05" fill="#ff0000"/><rect x="251.00" y="136.00" width="32.05" height="8.05" fill="#ff0000"/><rect x="179.00" y="144.00" width="24.05" height="8.05" fill="#ff0000"/><rect x="251.00" y="144.00" width="16.05" height="8.05" fill="#ff0000"/><rect x="251.00" y="152.00" width="8.05" height="8.05" fill="#ff0000"/><rect x="196.70" y="9.70" width="4.6" height="4.6" fill="#ffc300"/><rect x="36.70" y="41.70" width="4.6" height="4.6" fill="#ffc300"/><rect x="132.70" y="65.70" width="4.6" height="4.6" fill="#ffc300"/><rect x="268.70" y="113.70" width="4.6" height="4.6" fill="#98f783"/></g><rect x="0" y="0" width="317.7" height="164.8" fill="none" stroke="#404040" stroke-width="1.2" shape-rendering="geometricPrecision"/><line x1="49.4" y1="-2.6" x2="49.4" y2="0" stroke="#333" stroke-width="0.9"/><text x="49.699999999999996" y="-5.6" class="lb" text-anchor="middle">80° E</text><line x1="103.8" y1="-2.6" x2="103.8" y2="0" stroke="#333" stroke-width="0.9"/><text x="104.1" y="-5.6" class="lb" text-anchor="middle">85° E</text><line x1="158.2" y1="-2.6" x2="158.2" y2="0" stroke="#333" stroke-width="0.9"/><text x="158.5" y="-5.6" class="lb" text-anchor="middle">90° E</text><line x1="212.6" y1="-2.6" x2="212.6" y2="0" stroke="#333" stroke-width="0.9"/><text x="212.9" y="-5.6" class="lb" text-anchor="middle">95° E</text><line x1="267.0" y1="-2.6" x2="267.0" y2="0" stroke="#333" stroke-width="0.9"/><text x="267.3" y="-5.6" class="lb" text-anchor="middle">100° E</text><line x1="-2.9" y1="6.5" x2="0" y2="6.5" stroke="#333" stroke-width="0.9"/><text transform="translate(-5.3,6.5) rotate(-90)" x="0" y="0" class="lb" text-anchor="middle">40° N</text><line x1="-2.9" y1="60.8" x2="0" y2="60.8" stroke="#333" stroke-width="0.9"/><text transform="translate(-5.3,60.8) rotate(-90)" x="0" y="0" class="lb" text-anchor="middle">35° N</text><line x1="-2.9" y1="115.3" x2="0" y2="115.3" stroke="#333" stroke-width="0.9"/><text transform="translate(-5.3,115.3) rotate(-90)" x="0" y="0" class="lb" text-anchor="middle">30° N</text><text x="307.7" y="8.4" class="na" text-anchor="middle">N</text><path d="M307.5,10.7 L302,27.2 L307.4,20.8 Z" fill="#000" shape-rendering="geometricPrecision"/><path d="M307.5,10.7 L312.6,27.2 L307.4,20.8 Z" fill="#fff" stroke="#000" stroke-width="0.7" stroke-linejoin="miter" shape-rendering="geometricPrecision"/><path d="M307.5,10.7 L302,27.2 L307.4,20.8 Z" fill="#000" stroke="#000" stroke-width="0.5" shape-rendering="geometricPrecision"/><rect x="6.8" y="155.2" width="98.7" height="3.8" fill="#000"/><rect x="31.9" y="155.9" width="24.4" height="2.4" fill="#fff"/><text x="7.4" y="151.7" class="sb" text-anchor="middle">0</text><text x="31.7" y="151.7" class="sb" text-anchor="middle">250</text><text x="56.3" y="151.7" class="sb" text-anchor="middle">500</text><text x="105.4" y="151.7" class="sb" text-anchor="middle">1,000</text><text x="107.2" y="158.9" class="sb">km</text><text x="314.9" y="159.9" class="yr" text-anchor="end">1993</text></g>
<text x="268.3" y="973" class="lg">Snow depth (cm)</text><rect x="444.5" y="958.9" width="21" height="9.8" fill="#ff0000" stroke="#8c8c8c" stroke-width="1.4"/><rect x="491.8" y="958.9" width="21" height="9.8" fill="#ffc300" stroke="#8c8c8c" stroke-width="1.4"/><rect x="555.4000000000001" y="958.9" width="21" height="9.8" fill="#98f783" stroke="#8c8c8c" stroke-width="1.4"/><rect x="623.4000000000001" y="958.9" width="21" height="9.8" fill="#00c5ff" stroke="#8c8c8c" stroke-width="1.4"/><rect x="700.4000000000001" y="958.9" width="21" height="9.8" fill="#0000f0" stroke="#8c8c8c" stroke-width="1.4"/><text x="477.79999999999995" y="971" class="lgb">0</text><text x="516.4" y="971" class="lgb">0 - 3</text><text x="579.4" y="971" class="lgb">3- 10</text><text x="648.3" y="971" class="lgb">10- 20</text><text x="724.4" y="971" class="lgb">&gt;20</text>
</svg>
</body></html>
